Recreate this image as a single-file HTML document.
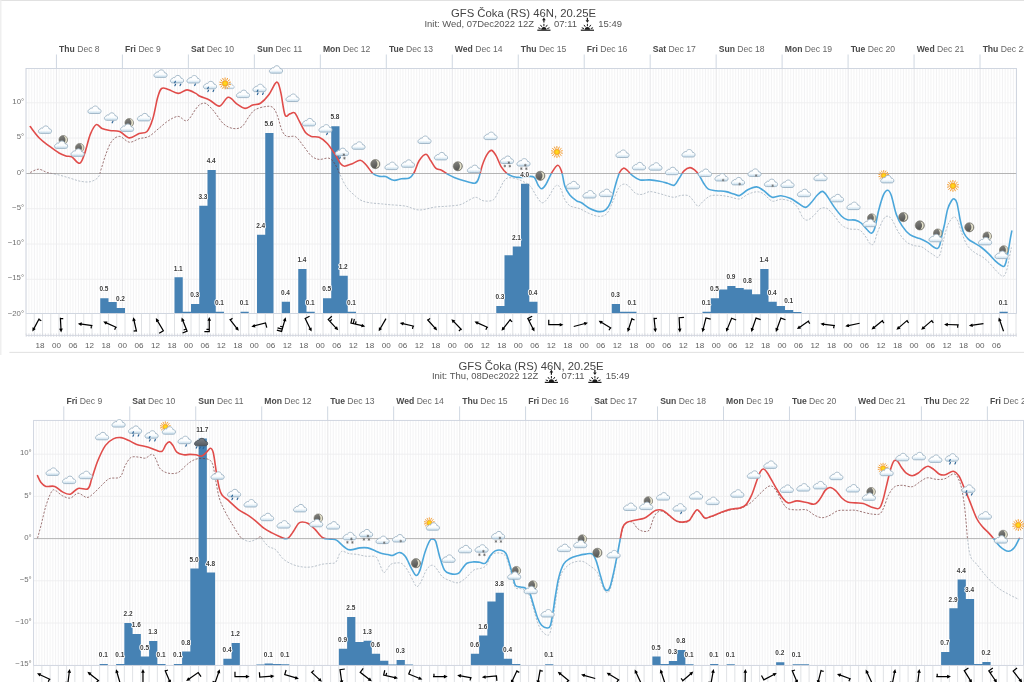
<!DOCTYPE html><html><head><meta charset="utf-8"><title>GFS Čoka meteogram</title>
<style>html,body{margin:0;padding:0;background:#fff;}body{width:1024px;height:682px;overflow:hidden;position:relative;}svg{position:absolute;left:0;top:0;display:block;font-family:"Liberation Sans", "DejaVu Sans", sans-serif;}</style></head><body>
<svg width="1024" height="682" viewBox="0 0 1024 682">
<defs><linearGradient id="cg" x1="0" y1="0" x2="0" y2="1"><stop offset="0" stop-color="#fff"/><stop offset="0.6" stop-color="#fbfdfe"/><stop offset="1" stop-color="#c3dbeb"/></linearGradient><radialGradient id="sg"><stop offset="0" stop-color="#ffe21f"/><stop offset="0.7" stop-color="#fdc516"/><stop offset="1" stop-color="#f9ac1c"/></radialGradient><linearGradient id="mg" x1="0" y1="0" x2="0.3" y2="1"><stop offset="0" stop-color="#858581"/><stop offset="1" stop-color="#555553"/></linearGradient><linearGradient id="cgd" x1="0" y1="0" x2="0" y2="1"><stop offset="0" stop-color="#7c8288"/><stop offset="1" stop-color="#565b61"/></linearGradient></defs>
<rect width="1024" height="682" fill="#fff"/>
<path d="M0,0.4H1024" stroke="#dedede" stroke-width="1"/>
<path d="M0.8,0V355" stroke="#ededed" stroke-width="1.3"/>
<path d="M9.4,352.4H1024" stroke="#dcdcdc" stroke-width="0.9"/>
<g id="chart1">
<text x="523.5" y="17.3" text-anchor="middle" font-size="11.3" fill="#444">GFS Čoka (RS) 46N, 20.25E</text>
<text x="424.5" y="26.6" font-size="9.45" fill="#555">Init: Wed, 07Dec2022 12Z</text>
<g transform="translate(543.9,30.2)" stroke="#1a1a1a" fill="none" stroke-width="1" stroke-linecap="butt"><line x1="-6.6" y1="0" x2="6.6" y2="0" stroke-width="1.2"/><path d="M-2.6,-0.5 A2.6,2.6 0 0 1 2.6,-0.5 Z" fill="#1a1a1a" stroke="none"/><line x1="-3.38" y1="-1.63" x2="-5.64" y2="-2.45"/><line x1="-2.06" y1="-3.35" x2="-3.44" y2="-5.31"/><line x1="0" y1="-4" x2="0" y2="-6.4"/><line x1="2.06" y1="-3.35" x2="3.44" y2="-5.31"/><line x1="3.38" y1="-1.63" x2="5.64" y2="-2.45"/><path d="M0,-7.6 V-10.6" stroke-width="1.2"/><path d="M-1.8,-10 L0,-12.6 L1.8,-10Z" fill="#1a1a1a" stroke="none"/></g>
<text x="554.1" y="26.6" font-size="9.45" fill="#555">07:11</text>
<g transform="translate(587.4,30.2)" stroke="#1a1a1a" fill="none" stroke-width="1" stroke-linecap="butt"><line x1="-6.6" y1="0" x2="6.6" y2="0" stroke-width="1.2"/><path d="M-2.6,-0.5 A2.6,2.6 0 0 1 2.6,-0.5 Z" fill="#1a1a1a" stroke="none"/><line x1="-3.38" y1="-1.63" x2="-5.64" y2="-2.45"/><line x1="-2.06" y1="-3.35" x2="-3.44" y2="-5.31"/><line x1="0" y1="-4" x2="0" y2="-6.4"/><line x1="2.06" y1="-3.35" x2="3.44" y2="-5.31"/><line x1="3.38" y1="-1.63" x2="5.64" y2="-2.45"/><path d="M0,-12.4 V-9.6" stroke-width="1.2"/><path d="M-1.8,-10 L0,-7.4 L1.8,-10Z" fill="#1a1a1a" stroke="none"/></g>
<text x="598.3" y="26.6" font-size="9.45" fill="#555">15:49</text>
<line x1="56.45" y1="54.5" x2="56.45" y2="68.5" stroke="#c9d2de" stroke-width="0.9"/>
<text x="59.05" y="52.1" font-size="8.6" fill="#666"><tspan font-weight="bold" fill="#4a4a4a">Thu</tspan> Dec 8</text>
<line x1="122.42" y1="54.5" x2="122.42" y2="68.5" stroke="#c9d2de" stroke-width="0.9"/>
<text x="125.02" y="52.1" font-size="8.6" fill="#666"><tspan font-weight="bold" fill="#4a4a4a">Fri</tspan> Dec 9</text>
<line x1="188.39" y1="54.5" x2="188.39" y2="68.5" stroke="#c9d2de" stroke-width="0.9"/>
<text x="190.99" y="52.1" font-size="8.6" fill="#666"><tspan font-weight="bold" fill="#4a4a4a">Sat</tspan> Dec 10</text>
<line x1="254.36" y1="54.5" x2="254.36" y2="68.5" stroke="#c9d2de" stroke-width="0.9"/>
<text x="256.96" y="52.1" font-size="8.6" fill="#666"><tspan font-weight="bold" fill="#4a4a4a">Sun</tspan> Dec 11</text>
<line x1="320.33" y1="54.5" x2="320.33" y2="68.5" stroke="#c9d2de" stroke-width="0.9"/>
<text x="322.93" y="52.1" font-size="8.6" fill="#666"><tspan font-weight="bold" fill="#4a4a4a">Mon</tspan> Dec 12</text>
<line x1="386.3" y1="54.5" x2="386.3" y2="68.5" stroke="#c9d2de" stroke-width="0.9"/>
<text x="388.9" y="52.1" font-size="8.6" fill="#666"><tspan font-weight="bold" fill="#4a4a4a">Tue</tspan> Dec 13</text>
<line x1="452.27" y1="54.5" x2="452.27" y2="68.5" stroke="#c9d2de" stroke-width="0.9"/>
<text x="454.87" y="52.1" font-size="8.6" fill="#666"><tspan font-weight="bold" fill="#4a4a4a">Wed</tspan> Dec 14</text>
<line x1="518.24" y1="54.5" x2="518.24" y2="68.5" stroke="#c9d2de" stroke-width="0.9"/>
<text x="520.84" y="52.1" font-size="8.6" fill="#666"><tspan font-weight="bold" fill="#4a4a4a">Thu</tspan> Dec 15</text>
<line x1="584.21" y1="54.5" x2="584.21" y2="68.5" stroke="#c9d2de" stroke-width="0.9"/>
<text x="586.81" y="52.1" font-size="8.6" fill="#666"><tspan font-weight="bold" fill="#4a4a4a">Fri</tspan> Dec 16</text>
<line x1="650.18" y1="54.5" x2="650.18" y2="68.5" stroke="#c9d2de" stroke-width="0.9"/>
<text x="652.78" y="52.1" font-size="8.6" fill="#666"><tspan font-weight="bold" fill="#4a4a4a">Sat</tspan> Dec 17</text>
<line x1="716.15" y1="54.5" x2="716.15" y2="68.5" stroke="#c9d2de" stroke-width="0.9"/>
<text x="718.75" y="52.1" font-size="8.6" fill="#666"><tspan font-weight="bold" fill="#4a4a4a">Sun</tspan> Dec 18</text>
<line x1="782.12" y1="54.5" x2="782.12" y2="68.5" stroke="#c9d2de" stroke-width="0.9"/>
<text x="784.72" y="52.1" font-size="8.6" fill="#666"><tspan font-weight="bold" fill="#4a4a4a">Mon</tspan> Dec 19</text>
<line x1="848.09" y1="54.5" x2="848.09" y2="68.5" stroke="#c9d2de" stroke-width="0.9"/>
<text x="850.69" y="52.1" font-size="8.6" fill="#666"><tspan font-weight="bold" fill="#4a4a4a">Tue</tspan> Dec 20</text>
<line x1="914.06" y1="54.5" x2="914.06" y2="68.5" stroke="#c9d2de" stroke-width="0.9"/>
<text x="916.66" y="52.1" font-size="8.6" fill="#666"><tspan font-weight="bold" fill="#4a4a4a">Wed</tspan> Dec 21</text>
<line x1="980.03" y1="54.5" x2="980.03" y2="68.5" stroke="#c9d2de" stroke-width="0.9"/>
<text x="982.63" y="52.1" font-size="8.6" fill="#666"><tspan font-weight="bold" fill="#4a4a4a">Thu</tspan> Dec 22</text>
<clipPath id="cp1"><rect x="26" y="68.5" width="990.5" height="245"/></clipPath>
<clipPath id="cpa1"><rect x="0" y="38.5" width="1024" height="135"/></clipPath>
<clipPath id="cpb1"><rect x="0" y="173.5" width="1024" height="180"/></clipPath>
<path d="M26.2,68.5V313.5M28.95,68.5V313.5M31.7,68.5V313.5M34.45,68.5V313.5M37.2,68.5V313.5M39.95,68.5V313.5M42.7,68.5V313.5M45.45,68.5V313.5M48.2,68.5V313.5M50.95,68.5V313.5M53.7,68.5V313.5M56.45,68.5V313.5M59.2,68.5V313.5M61.95,68.5V313.5M64.7,68.5V313.5M67.45,68.5V313.5M70.2,68.5V313.5M72.95,68.5V313.5M75.7,68.5V313.5M78.45,68.5V313.5M81.2,68.5V313.5M83.95,68.5V313.5M86.7,68.5V313.5M89.45,68.5V313.5M92.2,68.5V313.5M94.95,68.5V313.5M97.7,68.5V313.5M100.45,68.5V313.5M103.2,68.5V313.5M105.95,68.5V313.5M108.7,68.5V313.5M111.45,68.5V313.5M114.2,68.5V313.5M116.95,68.5V313.5M119.7,68.5V313.5M122.45,68.5V313.5M125.2,68.5V313.5M127.95,68.5V313.5M130.7,68.5V313.5M133.45,68.5V313.5M136.2,68.5V313.5M138.95,68.5V313.5M141.7,68.5V313.5M144.45,68.5V313.5M147.2,68.5V313.5M149.95,68.5V313.5M152.7,68.5V313.5M155.45,68.5V313.5M158.2,68.5V313.5M160.95,68.5V313.5M163.7,68.5V313.5M166.45,68.5V313.5M169.2,68.5V313.5M171.95,68.5V313.5M174.7,68.5V313.5M177.45,68.5V313.5M180.2,68.5V313.5M182.95,68.5V313.5M185.7,68.5V313.5M188.45,68.5V313.5M191.2,68.5V313.5M193.95,68.5V313.5M196.7,68.5V313.5M199.45,68.5V313.5M202.2,68.5V313.5M204.95,68.5V313.5M207.7,68.5V313.5M210.45,68.5V313.5M213.2,68.5V313.5M215.95,68.5V313.5M218.7,68.5V313.5M221.45,68.5V313.5M224.2,68.5V313.5M226.95,68.5V313.5M229.7,68.5V313.5M232.45,68.5V313.5M235.2,68.5V313.5M237.95,68.5V313.5M240.7,68.5V313.5M243.45,68.5V313.5M246.2,68.5V313.5M248.95,68.5V313.5M251.7,68.5V313.5M254.45,68.5V313.5M257.2,68.5V313.5M259.95,68.5V313.5M262.7,68.5V313.5M265.45,68.5V313.5M268.2,68.5V313.5M270.95,68.5V313.5M273.7,68.5V313.5M276.45,68.5V313.5M279.2,68.5V313.5M281.95,68.5V313.5M284.7,68.5V313.5M287.45,68.5V313.5M290.2,68.5V313.5M292.95,68.5V313.5M295.7,68.5V313.5M298.45,68.5V313.5M301.2,68.5V313.5M303.95,68.5V313.5M306.7,68.5V313.5M309.45,68.5V313.5M312.2,68.5V313.5M314.95,68.5V313.5M317.7,68.5V313.5M320.45,68.5V313.5M323.2,68.5V313.5M325.95,68.5V313.5M328.7,68.5V313.5M331.45,68.5V313.5M334.2,68.5V313.5M336.95,68.5V313.5M339.7,68.5V313.5M342.45,68.5V313.5M345.2,68.5V313.5M347.95,68.5V313.5M350.7,68.5V313.5M353.45,68.5V313.5M356.2,68.5V313.5M358.95,68.5V313.5M361.7,68.5V313.5M364.45,68.5V313.5M367.2,68.5V313.5M369.95,68.5V313.5M372.7,68.5V313.5M375.45,68.5V313.5M378.2,68.5V313.5M380.95,68.5V313.5M383.7,68.5V313.5M386.45,68.5V313.5M389.2,68.5V313.5M391.95,68.5V313.5M394.7,68.5V313.5M397.45,68.5V313.5M400.2,68.5V313.5M402.95,68.5V313.5M405.7,68.5V313.5M408.45,68.5V313.5M411.2,68.5V313.5M413.95,68.5V313.5M416.7,68.5V313.5M419.45,68.5V313.5M422.2,68.5V313.5M424.95,68.5V313.5M427.7,68.5V313.5M430.45,68.5V313.5M433.2,68.5V313.5M435.95,68.5V313.5M438.7,68.5V313.5M441.45,68.5V313.5M444.2,68.5V313.5M446.95,68.5V313.5M449.7,68.5V313.5M452.45,68.5V313.5M455.2,68.5V313.5M457.95,68.5V313.5M460.7,68.5V313.5M463.45,68.5V313.5M466.2,68.5V313.5M468.95,68.5V313.5M471.7,68.5V313.5M474.45,68.5V313.5M477.2,68.5V313.5M479.95,68.5V313.5M482.7,68.5V313.5M485.45,68.5V313.5M488.2,68.5V313.5M490.95,68.5V313.5M493.7,68.5V313.5M496.45,68.5V313.5M499.2,68.5V313.5M501.95,68.5V313.5M504.7,68.5V313.5M507.45,68.5V313.5M510.2,68.5V313.5M512.95,68.5V313.5M515.7,68.5V313.5M518.45,68.5V313.5M521.2,68.5V313.5M523.95,68.5V313.5M526.7,68.5V313.5M529.45,68.5V313.5M532.2,68.5V313.5M534.95,68.5V313.5M537.7,68.5V313.5M540.45,68.5V313.5M543.2,68.5V313.5M545.95,68.5V313.5M548.7,68.5V313.5M551.45,68.5V313.5M554.2,68.5V313.5M556.95,68.5V313.5M559.7,68.5V313.5M562.45,68.5V313.5M565.2,68.5V313.5M567.95,68.5V313.5M570.7,68.5V313.5M573.45,68.5V313.5M576.2,68.5V313.5M578.95,68.5V313.5M581.7,68.5V313.5M584.45,68.5V313.5M587.2,68.5V313.5M589.95,68.5V313.5M592.7,68.5V313.5M595.45,68.5V313.5M598.2,68.5V313.5M600.95,68.5V313.5M603.7,68.5V313.5M606.45,68.5V313.5M609.2,68.5V313.5M611.95,68.5V313.5M614.7,68.5V313.5M617.45,68.5V313.5M620.2,68.5V313.5M622.95,68.5V313.5M625.7,68.5V313.5M628.45,68.5V313.5M631.2,68.5V313.5M633.95,68.5V313.5M636.7,68.5V313.5M639.45,68.5V313.5M642.2,68.5V313.5M644.95,68.5V313.5M647.7,68.5V313.5M650.45,68.5V313.5M653.2,68.5V313.5M655.95,68.5V313.5M658.7,68.5V313.5M661.45,68.5V313.5M664.2,68.5V313.5M666.95,68.5V313.5M669.7,68.5V313.5M672.45,68.5V313.5M675.2,68.5V313.5M677.95,68.5V313.5M680.7,68.5V313.5M683.45,68.5V313.5M686.2,68.5V313.5M688.95,68.5V313.5M691.7,68.5V313.5M694.45,68.5V313.5M697.2,68.5V313.5M699.95,68.5V313.5M702.7,68.5V313.5M705.45,68.5V313.5M708.2,68.5V313.5M710.95,68.5V313.5M713.7,68.5V313.5M716.45,68.5V313.5M719.2,68.5V313.5M721.95,68.5V313.5M724.7,68.5V313.5M727.45,68.5V313.5M730.2,68.5V313.5M732.95,68.5V313.5M735.7,68.5V313.5M738.45,68.5V313.5M741.2,68.5V313.5M743.95,68.5V313.5M746.7,68.5V313.5M749.45,68.5V313.5M752.2,68.5V313.5M754.95,68.5V313.5M757.7,68.5V313.5M760.45,68.5V313.5M763.2,68.5V313.5M765.95,68.5V313.5M768.7,68.5V313.5M771.45,68.5V313.5M774.2,68.5V313.5M776.95,68.5V313.5M779.7,68.5V313.5M782.45,68.5V313.5M785.2,68.5V313.5M787.95,68.5V313.5M790.7,68.5V313.5M793.45,68.5V313.5M796.2,68.5V313.5M798.95,68.5V313.5M801.7,68.5V313.5M804.45,68.5V313.5M807.2,68.5V313.5M809.95,68.5V313.5M812.7,68.5V313.5M815.45,68.5V313.5M818.2,68.5V313.5M820.95,68.5V313.5M823.7,68.5V313.5M826.45,68.5V313.5M829.2,68.5V313.5M831.95,68.5V313.5M834.7,68.5V313.5M837.45,68.5V313.5M840.2,68.5V313.5M842.95,68.5V313.5M845.7,68.5V313.5M848.45,68.5V313.5M851.2,68.5V313.5M853.95,68.5V313.5M856.7,68.5V313.5M859.45,68.5V313.5M862.2,68.5V313.5M864.95,68.5V313.5M867.7,68.5V313.5M870.45,68.5V313.5M873.2,68.5V313.5M875.95,68.5V313.5M878.7,68.5V313.5M881.45,68.5V313.5M884.2,68.5V313.5M886.95,68.5V313.5M889.7,68.5V313.5M892.45,68.5V313.5M895.2,68.5V313.5M897.95,68.5V313.5M900.7,68.5V313.5M903.45,68.5V313.5M906.2,68.5V313.5M908.95,68.5V313.5M911.7,68.5V313.5M914.45,68.5V313.5M917.2,68.5V313.5M919.95,68.5V313.5M922.7,68.5V313.5M925.45,68.5V313.5M928.2,68.5V313.5M930.95,68.5V313.5M933.7,68.5V313.5M936.45,68.5V313.5M939.2,68.5V313.5M941.95,68.5V313.5M944.7,68.5V313.5M947.45,68.5V313.5M950.2,68.5V313.5M952.95,68.5V313.5M955.7,68.5V313.5M958.45,68.5V313.5M961.2,68.5V313.5M963.95,68.5V313.5M966.7,68.5V313.5M969.45,68.5V313.5M972.2,68.5V313.5M974.95,68.5V313.5M977.7,68.5V313.5M980.45,68.5V313.5M983.2,68.5V313.5M985.95,68.5V313.5M988.7,68.5V313.5M991.45,68.5V313.5M994.2,68.5V313.5M996.95,68.5V313.5M999.7,68.5V313.5M1002.45,68.5V313.5M1005.2,68.5V313.5M1007.95,68.5V313.5M1010.7,68.5V313.5M1013.45,68.5V313.5M1016.2,68.5V313.5" stroke="#f0f0f1" stroke-width="0.8" fill="none"/>
<path d="M56.45,68.5V313.5M122.42,68.5V313.5M188.39,68.5V313.5M254.36,68.5V313.5M320.33,68.5V313.5M386.3,68.5V313.5M452.27,68.5V313.5M518.24,68.5V313.5M584.21,68.5V313.5M650.18,68.5V313.5M716.15,68.5V313.5M782.12,68.5V313.5M848.09,68.5V313.5M914.06,68.5V313.5M980.03,68.5V313.5" stroke="#e9e9eb" stroke-width="0.9" fill="none"/>
<path d="M26,102.8H1016.5M26,138.1H1016.5M26,244H1016.5M26,208.7H1016.5M26,279.3H1016.5" stroke="#eeeeef" stroke-width="0.9" fill="none"/>
<line x1="26" y1="173.5" x2="1016.5" y2="173.5" stroke="#acacac" stroke-width="0.9"/>
<path d="M100.25,313.5h8.25V298.2h-8.25ZM108.5,313.5h8.25V302.1h-8.25ZM116.75,313.5h8.25V307.9h-8.25ZM174.5,313.5h8.25V277.3h-8.25ZM182.75,313.5h8.25V311.8h-8.25ZM191,313.5h8.25V304h-8.25ZM199.25,313.5h8.25V205.7h-8.25ZM207.5,313.5h8.25V170h-8.25ZM215.75,313.5h8.25V311.8h-8.25ZM240.5,313.5h8.25V311.8h-8.25ZM257,313.5h8.25V234.7h-8.25ZM265.25,313.5h8.25V133h-8.25ZM281.75,313.5h8.25V301.7h-8.25ZM298.25,313.5h8.25V268.9h-8.25ZM306.5,313.5h8.25V311.8h-8.25ZM323,313.5h8.25V298.2h-8.25ZM331.25,313.5h8.25V126.2h-8.25ZM339.5,313.5h8.25V275.7h-8.25ZM347.75,313.5h8.25V311.8h-8.25ZM496.25,313.5h8.25V306h-8.25ZM504.5,313.5h8.25V255.2h-8.25ZM512.75,313.5h8.25V246.4h-8.25ZM521,313.5h8.25V183.8h-8.25ZM529.25,313.5h8.25V301.7h-8.25ZM611.75,313.5h8.25V304h-8.25ZM620,313.5h8.25V311.8h-8.25ZM628.25,313.5h8.25V311.8h-8.25ZM702.5,313.5h8.25V311.8h-8.25ZM710.75,313.5h8.25V298.2h-8.25ZM719,313.5h8.25V289.4h-8.25ZM727.25,313.5h8.25V285.9h-8.25ZM735.5,313.5h8.25V288h-8.25ZM743.75,313.5h8.25V289.4h-8.25ZM752,313.5h8.25V294.3h-8.25ZM760.25,313.5h8.25V268.9h-8.25ZM768.5,313.5h8.25V301.7h-8.25ZM776.75,313.5h8.25V306h-8.25ZM785,313.5h8.25V309.9h-8.25ZM793.25,313.5h8.25V312h-8.25ZM999.5,313.5h8.25V311.8h-8.25Z" fill="#4682b4" clip-path="url(#cp1)"/>
<rect x="26" y="68.5" width="990.5" height="245" fill="none" stroke="#ccd2dd" stroke-width="0.9"/>
<path d="M26,313.5V335.4M34.25,313.5V335.4M42.5,313.5V335.4M50.75,313.5V335.4M59,313.5V335.4M67.25,313.5V335.4M75.5,313.5V335.4M83.75,313.5V335.4M92,313.5V335.4M100.25,313.5V335.4M108.5,313.5V335.4M116.75,313.5V335.4M125,313.5V335.4M133.25,313.5V335.4M141.5,313.5V335.4M149.75,313.5V335.4M158,313.5V335.4M166.25,313.5V335.4M174.5,313.5V335.4M182.75,313.5V335.4M191,313.5V335.4M199.25,313.5V335.4M207.5,313.5V335.4M215.75,313.5V335.4M224,313.5V335.4M232.25,313.5V335.4M240.5,313.5V335.4M248.75,313.5V335.4M257,313.5V335.4M265.25,313.5V335.4M273.5,313.5V335.4M281.75,313.5V335.4M290,313.5V335.4M298.25,313.5V335.4M306.5,313.5V335.4M314.75,313.5V335.4M323,313.5V335.4M331.25,313.5V335.4M339.5,313.5V335.4M347.75,313.5V335.4M356,313.5V335.4M364.25,313.5V335.4M372.5,313.5V335.4M380.75,313.5V335.4M389,313.5V335.4M397.25,313.5V335.4M405.5,313.5V335.4M413.75,313.5V335.4M422,313.5V335.4M430.25,313.5V335.4M438.5,313.5V335.4M446.75,313.5V335.4M455,313.5V335.4M463.25,313.5V335.4M471.5,313.5V335.4M479.75,313.5V335.4M488,313.5V335.4M496.25,313.5V335.4M504.5,313.5V335.4M512.75,313.5V335.4M521,313.5V335.4M529.25,313.5V335.4M537.5,313.5V335.4M545.75,313.5V335.4M554,313.5V335.4M562.25,313.5V335.4M570.5,313.5V335.4M578.75,313.5V335.4M587,313.5V335.4M595.25,313.5V335.4M603.5,313.5V335.4M611.75,313.5V335.4M620,313.5V335.4M628.25,313.5V335.4M636.5,313.5V335.4M644.75,313.5V335.4M653,313.5V335.4M661.25,313.5V335.4M669.5,313.5V335.4M677.75,313.5V335.4M686,313.5V335.4M694.25,313.5V335.4M702.5,313.5V335.4M710.75,313.5V335.4M719,313.5V335.4M727.25,313.5V335.4M735.5,313.5V335.4M743.75,313.5V335.4M752,313.5V335.4M760.25,313.5V335.4M768.5,313.5V335.4M776.75,313.5V335.4M785,313.5V335.4M793.25,313.5V335.4M801.5,313.5V335.4M809.75,313.5V335.4M818,313.5V335.4M826.25,313.5V335.4M834.5,313.5V335.4M842.75,313.5V335.4M851,313.5V335.4M859.25,313.5V335.4M867.5,313.5V335.4M875.75,313.5V335.4M884,313.5V335.4M892.25,313.5V335.4M900.5,313.5V335.4M908.75,313.5V335.4M917,313.5V335.4M925.25,313.5V335.4M933.5,313.5V335.4M941.75,313.5V335.4M950,313.5V335.4M958.25,313.5V335.4M966.5,313.5V335.4M974.75,313.5V335.4M983,313.5V335.4M991.25,313.5V335.4M999.5,313.5V335.4M1007.75,313.5V335.4M1016,313.5V335.4" stroke="#d8dade" stroke-width="0.8" fill="none"/>
<path d="M26.2,333.4V337M28.95,333.4V337M31.7,333.4V337M34.45,333.4V337M37.2,333.4V337M39.95,333.4V337M42.7,333.4V337M45.45,333.4V337M48.2,333.4V337M50.95,333.4V337M53.7,333.4V337M56.45,333.4V337M59.2,333.4V337M61.95,333.4V337M64.7,333.4V337M67.45,333.4V337M70.2,333.4V337M72.95,333.4V337M75.7,333.4V337M78.45,333.4V337M81.2,333.4V337M83.95,333.4V337M86.7,333.4V337M89.45,333.4V337M92.2,333.4V337M94.95,333.4V337M97.7,333.4V337M100.45,333.4V337M103.2,333.4V337M105.95,333.4V337M108.7,333.4V337M111.45,333.4V337M114.2,333.4V337M116.95,333.4V337M119.7,333.4V337M122.45,333.4V337M125.2,333.4V337M127.95,333.4V337M130.7,333.4V337M133.45,333.4V337M136.2,333.4V337M138.95,333.4V337M141.7,333.4V337M144.45,333.4V337M147.2,333.4V337M149.95,333.4V337M152.7,333.4V337M155.45,333.4V337M158.2,333.4V337M160.95,333.4V337M163.7,333.4V337M166.45,333.4V337M169.2,333.4V337M171.95,333.4V337M174.7,333.4V337M177.45,333.4V337M180.2,333.4V337M182.95,333.4V337M185.7,333.4V337M188.45,333.4V337M191.2,333.4V337M193.95,333.4V337M196.7,333.4V337M199.45,333.4V337M202.2,333.4V337M204.95,333.4V337M207.7,333.4V337M210.45,333.4V337M213.2,333.4V337M215.95,333.4V337M218.7,333.4V337M221.45,333.4V337M224.2,333.4V337M226.95,333.4V337M229.7,333.4V337M232.45,333.4V337M235.2,333.4V337M237.95,333.4V337M240.7,333.4V337M243.45,333.4V337M246.2,333.4V337M248.95,333.4V337M251.7,333.4V337M254.45,333.4V337M257.2,333.4V337M259.95,333.4V337M262.7,333.4V337M265.45,333.4V337M268.2,333.4V337M270.95,333.4V337M273.7,333.4V337M276.45,333.4V337M279.2,333.4V337M281.95,333.4V337M284.7,333.4V337M287.45,333.4V337M290.2,333.4V337M292.95,333.4V337M295.7,333.4V337M298.45,333.4V337M301.2,333.4V337M303.95,333.4V337M306.7,333.4V337M309.45,333.4V337M312.2,333.4V337M314.95,333.4V337M317.7,333.4V337M320.45,333.4V337M323.2,333.4V337M325.95,333.4V337M328.7,333.4V337M331.45,333.4V337M334.2,333.4V337M336.95,333.4V337M339.7,333.4V337M342.45,333.4V337M345.2,333.4V337M347.95,333.4V337M350.7,333.4V337M353.45,333.4V337M356.2,333.4V337M358.95,333.4V337M361.7,333.4V337M364.45,333.4V337M367.2,333.4V337M369.95,333.4V337M372.7,333.4V337M375.45,333.4V337M378.2,333.4V337M380.95,333.4V337M383.7,333.4V337M386.45,333.4V337M389.2,333.4V337M391.95,333.4V337M394.7,333.4V337M397.45,333.4V337M400.2,333.4V337M402.95,333.4V337M405.7,333.4V337M408.45,333.4V337M411.2,333.4V337M413.95,333.4V337M416.7,333.4V337M419.45,333.4V337M422.2,333.4V337M424.95,333.4V337M427.7,333.4V337M430.45,333.4V337M433.2,333.4V337M435.95,333.4V337M438.7,333.4V337M441.45,333.4V337M444.2,333.4V337M446.95,333.4V337M449.7,333.4V337M452.45,333.4V337M455.2,333.4V337M457.95,333.4V337M460.7,333.4V337M463.45,333.4V337M466.2,333.4V337M468.95,333.4V337M471.7,333.4V337M474.45,333.4V337M477.2,333.4V337M479.95,333.4V337M482.7,333.4V337M485.45,333.4V337M488.2,333.4V337M490.95,333.4V337M493.7,333.4V337M496.45,333.4V337M499.2,333.4V337M501.95,333.4V337M504.7,333.4V337M507.45,333.4V337M510.2,333.4V337M512.95,333.4V337M515.7,333.4V337M518.45,333.4V337M521.2,333.4V337M523.95,333.4V337M526.7,333.4V337M529.45,333.4V337M532.2,333.4V337M534.95,333.4V337M537.7,333.4V337M540.45,333.4V337M543.2,333.4V337M545.95,333.4V337M548.7,333.4V337M551.45,333.4V337M554.2,333.4V337M556.95,333.4V337M559.7,333.4V337M562.45,333.4V337M565.2,333.4V337M567.95,333.4V337M570.7,333.4V337M573.45,333.4V337M576.2,333.4V337M578.95,333.4V337M581.7,333.4V337M584.45,333.4V337M587.2,333.4V337M589.95,333.4V337M592.7,333.4V337M595.45,333.4V337M598.2,333.4V337M600.95,333.4V337M603.7,333.4V337M606.45,333.4V337M609.2,333.4V337M611.95,333.4V337M614.7,333.4V337M617.45,333.4V337M620.2,333.4V337M622.95,333.4V337M625.7,333.4V337M628.45,333.4V337M631.2,333.4V337M633.95,333.4V337M636.7,333.4V337M639.45,333.4V337M642.2,333.4V337M644.95,333.4V337M647.7,333.4V337M650.45,333.4V337M653.2,333.4V337M655.95,333.4V337M658.7,333.4V337M661.45,333.4V337M664.2,333.4V337M666.95,333.4V337M669.7,333.4V337M672.45,333.4V337M675.2,333.4V337M677.95,333.4V337M680.7,333.4V337M683.45,333.4V337M686.2,333.4V337M688.95,333.4V337M691.7,333.4V337M694.45,333.4V337M697.2,333.4V337M699.95,333.4V337M702.7,333.4V337M705.45,333.4V337M708.2,333.4V337M710.95,333.4V337M713.7,333.4V337M716.45,333.4V337M719.2,333.4V337M721.95,333.4V337M724.7,333.4V337M727.45,333.4V337M730.2,333.4V337M732.95,333.4V337M735.7,333.4V337M738.45,333.4V337M741.2,333.4V337M743.95,333.4V337M746.7,333.4V337M749.45,333.4V337M752.2,333.4V337M754.95,333.4V337M757.7,333.4V337M760.45,333.4V337M763.2,333.4V337M765.95,333.4V337M768.7,333.4V337M771.45,333.4V337M774.2,333.4V337M776.95,333.4V337M779.7,333.4V337M782.45,333.4V337M785.2,333.4V337M787.95,333.4V337M790.7,333.4V337M793.45,333.4V337M796.2,333.4V337M798.95,333.4V337M801.7,333.4V337M804.45,333.4V337M807.2,333.4V337M809.95,333.4V337M812.7,333.4V337M815.45,333.4V337M818.2,333.4V337M820.95,333.4V337M823.7,333.4V337M826.45,333.4V337M829.2,333.4V337M831.95,333.4V337M834.7,333.4V337M837.45,333.4V337M840.2,333.4V337M842.95,333.4V337M845.7,333.4V337M848.45,333.4V337M851.2,333.4V337M853.95,333.4V337M856.7,333.4V337M859.45,333.4V337M862.2,333.4V337M864.95,333.4V337M867.7,333.4V337M870.45,333.4V337M873.2,333.4V337M875.95,333.4V337M878.7,333.4V337M881.45,333.4V337M884.2,333.4V337M886.95,333.4V337M889.7,333.4V337M892.45,333.4V337M895.2,333.4V337M897.95,333.4V337M900.7,333.4V337M903.45,333.4V337M906.2,333.4V337M908.95,333.4V337M911.7,333.4V337M914.45,333.4V337M917.2,333.4V337M919.95,333.4V337M922.7,333.4V337M925.45,333.4V337M928.2,333.4V337M930.95,333.4V337M933.7,333.4V337M936.45,333.4V337M939.2,333.4V337M941.95,333.4V337M944.7,333.4V337M947.45,333.4V337M950.2,333.4V337M952.95,333.4V337M955.7,333.4V337M958.45,333.4V337M961.2,333.4V337M963.95,333.4V337M966.7,333.4V337M969.45,333.4V337M972.2,333.4V337M974.95,333.4V337M977.7,333.4V337M980.45,333.4V337M983.2,333.4V337M985.95,333.4V337M988.7,333.4V337M991.45,333.4V337M994.2,333.4V337M996.95,333.4V337M999.7,333.4V337M1002.45,333.4V337M1005.2,333.4V337M1007.95,333.4V337M1010.7,333.4V337M1013.45,333.4V337M1016.2,333.4V337" stroke="#d5d9e0" stroke-width="0.8" fill="none"/>
<line x1="26" y1="335.4" x2="1016.5" y2="335.4" stroke="#cfd4dc" stroke-width="0.9"/>
<path d="M30.2,172.5C31.6,171.95 35.75,169.2 38.6,169.2C41.45,169.2 43.9,171.53 47.3,172.5C50.7,173.47 55.08,174.02 59,175C62.92,175.98 67.22,177.35 70.8,178.4C74.38,179.45 77.25,180.75 80.5,181.3C83.75,181.85 87.37,182.35 90.3,181.7C93.23,181.05 96.32,179.42 98.1,177.4C99.88,175.38 99.68,173.52 101,169.6C102.32,165.68 104.2,158.63 106,153.9C107.8,149.17 109.53,144.12 111.8,141.2C114.07,138.28 116.67,136.23 119.6,136.4C122.53,136.57 126.15,141.82 129.4,142.2C132.65,142.58 135.85,139.67 139.1,138.7C142.35,137.73 145.63,138.1 148.9,136.4C152.17,134.7 155.45,131.12 158.7,128.5C161.95,125.88 165.15,122.72 168.4,120.7C171.65,118.68 175.1,116.4 178.2,116.4C181.3,116.4 184.07,121.93 187,120.7C189.93,119.47 193.63,111.7 195.8,109C197.97,106.3 198.32,105.42 200,104.5C201.68,103.58 203.62,102.42 205.9,103.5C208.18,104.58 210.78,107.63 213.7,111C216.62,114.37 220.15,120.78 223.4,123.7C226.65,126.62 230.1,128.02 233.2,128.5C236.3,128.98 239.4,128.55 242,126.6C244.6,124.65 246.68,119.57 248.8,116.8C250.92,114.03 252.08,111.68 254.7,110C257.32,108.32 261.57,107.18 264.5,106.7C267.43,106.22 270.2,105.73 272.3,107.1C274.4,108.47 275.48,111 277.1,114.9C278.72,118.8 280.37,126.92 282,130.5C283.63,134.08 284.62,135.35 286.9,136.4C289.18,137.45 292.93,135.18 295.7,136.8C298.47,138.42 300.9,142.92 303.5,146.1C306.1,149.28 308.7,153.68 311.3,155.9C313.9,158.12 316.17,159.02 319.1,159.4C322.03,159.78 326.28,157.48 328.9,158.2C331.52,158.92 333.02,161.15 334.8,163.7C336.58,166.25 337.65,169.6 339.6,173.5C341.55,177.4 343.72,183.2 346.5,187.1C349.28,191 353.7,194.62 356.3,196.9C358.9,199.18 359.82,199.82 362.1,200.8C364.38,201.78 367.02,202.31 370,202.8C372.98,203.29 376.7,203.43 380,203.75C383.3,204.07 385.57,204.31 389.8,204.7C394.03,205.09 400.52,205.22 405.4,206.1C410.28,206.98 414.22,209.83 419.1,210C423.98,210.17 429.82,207.75 434.7,207.1C439.58,206.45 444.17,206.5 448.4,206.1C452.63,205.7 456.85,205.58 460.1,204.7C463.35,203.82 465.3,202.03 467.9,200.8C470.5,199.57 473.1,197.3 475.7,197.3C478.3,197.3 480.57,200.38 483.5,200.8C486.43,201.22 490.7,201.58 493.3,199.8C495.9,198.02 496.98,193.61 499.1,190.1C501.22,186.59 503.38,180.7 506,178.75C508.62,176.8 512.03,177.97 514.8,178.4C517.57,178.83 520,180 522.6,181.3C525.2,182.6 528.12,183.77 530.4,186.2C532.67,188.63 534.3,193.13 536.25,195.9C538.2,198.67 540.14,202.47 542.1,202.8C544.06,203.13 546.05,200.35 548,197.9C549.95,195.45 552.18,190.22 553.8,188.1C555.42,185.98 556.4,184.8 557.7,185.2C559,185.6 560.57,188.38 561.6,190.5C562.63,192.62 562.53,195.37 563.9,197.9C565.27,200.43 567.2,203.92 569.8,205.7C572.4,207.48 576.25,207.3 579.5,208.6C582.75,209.9 586.03,212.2 589.3,213.5C592.57,214.8 596.17,216.4 599.1,216.4C602.03,216.4 604.63,215.93 606.9,213.5C609.17,211.07 610.75,206.03 612.7,201.8C614.65,197.57 616.8,191.03 618.6,188.1C620.4,185.17 621.87,184.58 623.5,184.2C625.13,183.82 626.45,184.33 628.4,185.8C630.35,187.27 632.93,191.57 635.2,193C637.47,194.43 639.57,194.63 642,194.4C644.43,194.17 646.87,191.73 649.8,191.6C652.73,191.47 656.67,192.88 659.6,193.6C662.53,194.32 664.95,195.28 667.4,195.9C669.85,196.52 672.02,197.38 674.3,197.3C676.58,197.22 678.67,195.63 681.1,195.4C683.53,195.17 686.62,194.67 688.9,195.9C691.18,197.13 693.23,201.07 694.8,202.8C696.37,204.53 697,206.47 698.3,206.3C699.6,206.13 700.58,203.53 702.6,201.8C704.62,200.07 707.47,196.97 710.4,195.9C713.33,194.83 716.95,195.23 720.2,195.4C723.45,195.57 726.65,196.3 729.9,196.9C733.15,197.5 736.72,199.43 739.7,199C742.68,198.57 744.98,195.5 747.8,194.3C750.62,193.1 754,191.9 756.6,191.8C759.2,191.7 760.8,192.15 763.4,193.7C766,195.25 769.27,200.18 772.2,201.1C775.13,202.02 777.9,199.13 781,199.2C784.1,199.27 788.03,200.13 790.8,201.5C793.57,202.87 795.65,204.8 797.6,207.4C799.55,210 800.87,214.98 802.5,217.1C804.13,219.22 805.45,220.42 807.4,220.1C809.35,219.78 812.08,217.09 814.2,215.2C816.32,213.31 817.98,209.88 820.1,208.75C822.22,207.62 824.62,207.33 826.9,208.4C829.17,209.47 831.3,212.43 833.75,215.2C836.2,217.97 838.99,222.72 841.6,225C844.21,227.28 846.48,228.1 849.4,228.9C852.32,229.7 856.5,228.67 859.1,229.8C861.7,230.93 863.2,233.42 865,235.7C866.8,237.98 868.43,242.2 869.9,243.5C871.37,244.8 872.5,245.45 873.8,243.5C875.1,241.55 876.08,235.87 877.7,231.8C879.33,227.73 881.86,221.7 883.55,219.1C885.24,216.5 886.39,216.03 887.85,216.2C889.31,216.37 890.57,217.5 892.3,220.1C894.02,222.7 895.92,228.22 898.2,231.8C900.48,235.38 903.4,239.32 906,241.6C908.6,243.88 911.2,244.63 913.8,245.5C916.4,246.37 919.23,245.83 921.6,246.8C923.97,247.77 926,249.93 928,251.3C930,252.67 932.03,253.98 933.6,255C935.17,256.02 936.3,257.55 937.4,257.4C938.5,257.25 939.27,256.68 940.2,254.1C941.13,251.52 941.9,246.28 943,241.9C944.1,237.52 945.65,231.27 946.8,227.8C947.95,224.33 948.67,222.92 949.9,221.1C951.13,219.28 952.89,216.9 954.2,216.9C955.51,216.9 956.5,218.45 957.75,221.1C959,223.75 960.09,228.72 961.7,232.8C963.31,236.88 965.2,242.28 967.4,245.6C969.6,248.92 972.4,250.82 974.9,252.7C977.4,254.58 980.05,255.27 982.4,256.9C984.75,258.53 986.82,260.32 989,262.5C991.18,264.68 993.63,267.97 995.5,270C997.37,272.03 998.95,273.63 1000.2,274.7C1001.45,275.77 1002.13,276.55 1003,276.4C1003.87,276.25 1004.62,275.48 1005.4,273.8C1006.18,272.12 1007,269.27 1007.7,266.3C1008.4,263.33 1008.97,259.13 1009.6,256C1010.23,252.87 1011.18,248.92 1011.5,247.5" fill="none" stroke="#713636" stroke-width="0.68" stroke-dasharray="2.1,1.5" clip-path="url(#cpa1)"/>
<path d="M30.2,172.5C31.6,171.95 35.75,169.2 38.6,169.2C41.45,169.2 43.9,171.53 47.3,172.5C50.7,173.47 55.08,174.02 59,175C62.92,175.98 67.22,177.35 70.8,178.4C74.38,179.45 77.25,180.75 80.5,181.3C83.75,181.85 87.37,182.35 90.3,181.7C93.23,181.05 96.32,179.42 98.1,177.4C99.88,175.38 99.68,173.52 101,169.6C102.32,165.68 104.2,158.63 106,153.9C107.8,149.17 109.53,144.12 111.8,141.2C114.07,138.28 116.67,136.23 119.6,136.4C122.53,136.57 126.15,141.82 129.4,142.2C132.65,142.58 135.85,139.67 139.1,138.7C142.35,137.73 145.63,138.1 148.9,136.4C152.17,134.7 155.45,131.12 158.7,128.5C161.95,125.88 165.15,122.72 168.4,120.7C171.65,118.68 175.1,116.4 178.2,116.4C181.3,116.4 184.07,121.93 187,120.7C189.93,119.47 193.63,111.7 195.8,109C197.97,106.3 198.32,105.42 200,104.5C201.68,103.58 203.62,102.42 205.9,103.5C208.18,104.58 210.78,107.63 213.7,111C216.62,114.37 220.15,120.78 223.4,123.7C226.65,126.62 230.1,128.02 233.2,128.5C236.3,128.98 239.4,128.55 242,126.6C244.6,124.65 246.68,119.57 248.8,116.8C250.92,114.03 252.08,111.68 254.7,110C257.32,108.32 261.57,107.18 264.5,106.7C267.43,106.22 270.2,105.73 272.3,107.1C274.4,108.47 275.48,111 277.1,114.9C278.72,118.8 280.37,126.92 282,130.5C283.63,134.08 284.62,135.35 286.9,136.4C289.18,137.45 292.93,135.18 295.7,136.8C298.47,138.42 300.9,142.92 303.5,146.1C306.1,149.28 308.7,153.68 311.3,155.9C313.9,158.12 316.17,159.02 319.1,159.4C322.03,159.78 326.28,157.48 328.9,158.2C331.52,158.92 333.02,161.15 334.8,163.7C336.58,166.25 337.65,169.6 339.6,173.5C341.55,177.4 343.72,183.2 346.5,187.1C349.28,191 353.7,194.62 356.3,196.9C358.9,199.18 359.82,199.82 362.1,200.8C364.38,201.78 367.02,202.31 370,202.8C372.98,203.29 376.7,203.43 380,203.75C383.3,204.07 385.57,204.31 389.8,204.7C394.03,205.09 400.52,205.22 405.4,206.1C410.28,206.98 414.22,209.83 419.1,210C423.98,210.17 429.82,207.75 434.7,207.1C439.58,206.45 444.17,206.5 448.4,206.1C452.63,205.7 456.85,205.58 460.1,204.7C463.35,203.82 465.3,202.03 467.9,200.8C470.5,199.57 473.1,197.3 475.7,197.3C478.3,197.3 480.57,200.38 483.5,200.8C486.43,201.22 490.7,201.58 493.3,199.8C495.9,198.02 496.98,193.61 499.1,190.1C501.22,186.59 503.38,180.7 506,178.75C508.62,176.8 512.03,177.97 514.8,178.4C517.57,178.83 520,180 522.6,181.3C525.2,182.6 528.12,183.77 530.4,186.2C532.67,188.63 534.3,193.13 536.25,195.9C538.2,198.67 540.14,202.47 542.1,202.8C544.06,203.13 546.05,200.35 548,197.9C549.95,195.45 552.18,190.22 553.8,188.1C555.42,185.98 556.4,184.8 557.7,185.2C559,185.6 560.57,188.38 561.6,190.5C562.63,192.62 562.53,195.37 563.9,197.9C565.27,200.43 567.2,203.92 569.8,205.7C572.4,207.48 576.25,207.3 579.5,208.6C582.75,209.9 586.03,212.2 589.3,213.5C592.57,214.8 596.17,216.4 599.1,216.4C602.03,216.4 604.63,215.93 606.9,213.5C609.17,211.07 610.75,206.03 612.7,201.8C614.65,197.57 616.8,191.03 618.6,188.1C620.4,185.17 621.87,184.58 623.5,184.2C625.13,183.82 626.45,184.33 628.4,185.8C630.35,187.27 632.93,191.57 635.2,193C637.47,194.43 639.57,194.63 642,194.4C644.43,194.17 646.87,191.73 649.8,191.6C652.73,191.47 656.67,192.88 659.6,193.6C662.53,194.32 664.95,195.28 667.4,195.9C669.85,196.52 672.02,197.38 674.3,197.3C676.58,197.22 678.67,195.63 681.1,195.4C683.53,195.17 686.62,194.67 688.9,195.9C691.18,197.13 693.23,201.07 694.8,202.8C696.37,204.53 697,206.47 698.3,206.3C699.6,206.13 700.58,203.53 702.6,201.8C704.62,200.07 707.47,196.97 710.4,195.9C713.33,194.83 716.95,195.23 720.2,195.4C723.45,195.57 726.65,196.3 729.9,196.9C733.15,197.5 736.72,199.43 739.7,199C742.68,198.57 744.98,195.5 747.8,194.3C750.62,193.1 754,191.9 756.6,191.8C759.2,191.7 760.8,192.15 763.4,193.7C766,195.25 769.27,200.18 772.2,201.1C775.13,202.02 777.9,199.13 781,199.2C784.1,199.27 788.03,200.13 790.8,201.5C793.57,202.87 795.65,204.8 797.6,207.4C799.55,210 800.87,214.98 802.5,217.1C804.13,219.22 805.45,220.42 807.4,220.1C809.35,219.78 812.08,217.09 814.2,215.2C816.32,213.31 817.98,209.88 820.1,208.75C822.22,207.62 824.62,207.33 826.9,208.4C829.17,209.47 831.3,212.43 833.75,215.2C836.2,217.97 838.99,222.72 841.6,225C844.21,227.28 846.48,228.1 849.4,228.9C852.32,229.7 856.5,228.67 859.1,229.8C861.7,230.93 863.2,233.42 865,235.7C866.8,237.98 868.43,242.2 869.9,243.5C871.37,244.8 872.5,245.45 873.8,243.5C875.1,241.55 876.08,235.87 877.7,231.8C879.33,227.73 881.86,221.7 883.55,219.1C885.24,216.5 886.39,216.03 887.85,216.2C889.31,216.37 890.57,217.5 892.3,220.1C894.02,222.7 895.92,228.22 898.2,231.8C900.48,235.38 903.4,239.32 906,241.6C908.6,243.88 911.2,244.63 913.8,245.5C916.4,246.37 919.23,245.83 921.6,246.8C923.97,247.77 926,249.93 928,251.3C930,252.67 932.03,253.98 933.6,255C935.17,256.02 936.3,257.55 937.4,257.4C938.5,257.25 939.27,256.68 940.2,254.1C941.13,251.52 941.9,246.28 943,241.9C944.1,237.52 945.65,231.27 946.8,227.8C947.95,224.33 948.67,222.92 949.9,221.1C951.13,219.28 952.89,216.9 954.2,216.9C955.51,216.9 956.5,218.45 957.75,221.1C959,223.75 960.09,228.72 961.7,232.8C963.31,236.88 965.2,242.28 967.4,245.6C969.6,248.92 972.4,250.82 974.9,252.7C977.4,254.58 980.05,255.27 982.4,256.9C984.75,258.53 986.82,260.32 989,262.5C991.18,264.68 993.63,267.97 995.5,270C997.37,272.03 998.95,273.63 1000.2,274.7C1001.45,275.77 1002.13,276.55 1003,276.4C1003.87,276.25 1004.62,275.48 1005.4,273.8C1006.18,272.12 1007,269.27 1007.7,266.3C1008.4,263.33 1008.97,259.13 1009.6,256C1010.23,252.87 1011.18,248.92 1011.5,247.5" fill="none" stroke="#9aa7b4" stroke-width="0.68" stroke-dasharray="2.1,1.5" clip-path="url(#cpb1)"/>
<path d="M30.2,126.6C31.75,128.55 36.32,135.05 39.5,138.3C42.68,141.55 46.05,143.65 49.3,146.1C52.55,148.55 56.23,151.37 59,153C61.77,154.63 63.77,155.25 65.9,155.9C68.03,156.55 69.52,155.67 71.8,156.9C74.08,158.13 77.48,163.8 79.6,163.3C81.72,162.8 82.72,158.72 84.5,153.9C86.28,149.08 88.35,139.28 90.3,134.4C92.25,129.52 94.25,125.58 96.2,124.6C98.15,123.62 99.73,127.52 102,128.5C104.27,129.48 106.87,130 109.8,130.5C112.73,131 116.33,130.27 119.6,131.5C122.87,132.73 126.15,137.58 129.4,137.9C132.65,138.22 136.17,134.47 139.1,133.4C142.03,132.33 144.72,133.93 147,131.5C149.28,129.07 151.02,124.5 152.8,118.8C154.58,113.1 156.23,102.35 157.7,97.3C159.17,92.25 159.82,89.8 161.6,88.5C163.38,87.2 165.63,88.68 168.4,89.5C171.17,90.32 175.1,93.33 178.2,93.4C181.3,93.47 184.07,89.9 187,89.9C189.93,89.9 193.63,92.33 195.8,93.4C197.97,94.47 197.67,95.17 200,96.3C202.33,97.43 206.55,98.57 209.8,100.2C213.05,101.83 216.42,106.58 219.5,106.1C222.58,105.62 225.37,97.63 228.3,97.3C231.23,96.97 234.33,102.25 237.1,104.1C239.87,105.95 242.3,108.23 244.9,108.4C247.5,108.57 250.1,105.97 252.7,105.1C255.3,104.23 257.88,104.83 260.5,103.2C263.12,101.57 265.95,98.57 268.4,95.3C270.85,92.03 273.58,85.62 275.2,83.6C276.82,81.58 277.13,81.57 278.1,83.2C279.07,84.83 279.85,88.12 281,93.4C282.15,98.68 283.53,111.48 285,114.9C286.47,118.32 288.18,114.23 289.8,113.9C291.42,113.57 293.07,111.6 294.7,112.9C296.33,114.2 297.8,118.43 299.6,121.7C301.4,124.97 303.55,130.05 305.5,132.5C307.45,134.95 309.03,135.6 311.3,136.4C313.57,137.2 316.48,136.17 319.1,137.3C321.72,138.43 324.38,140.43 327,143.2C329.62,145.97 332.53,150.48 334.8,153.9C337.07,157.32 338.98,161.65 340.6,163.7C342.22,165.75 342.55,166.2 344.5,166.2C346.45,166.2 349.68,164.7 352.3,163.7C354.92,162.7 357.92,160.03 360.2,160.2C362.48,160.37 363.88,162.48 366,164.7C368.12,166.92 370.62,171.55 372.9,173.5C375.18,175.45 377.6,175.88 379.7,176.4C381.8,176.92 383.17,175.95 385.5,176.6C387.83,177.25 391.03,179.94 393.7,180.3C396.37,180.66 398.9,179.13 401.5,178.75C404.1,178.37 407.18,179.04 409.3,178C411.42,176.96 412.57,175.37 414.2,172.5C415.83,169.63 417.15,163.83 419.1,160.8C421.05,157.77 423.95,154.3 425.9,154.3C427.85,154.3 429.17,158.48 430.8,160.8C432.43,163.12 433.92,166.63 435.7,168.2C437.48,169.77 439.55,169.22 441.5,170.2C443.45,171.18 445.28,172.9 447.4,174.1C449.52,175.3 451.43,176.3 454.2,177.4C456.97,178.5 460.58,179.73 464,180.7C467.42,181.67 472.27,183.58 474.7,183.2C477.13,182.82 477.3,181.48 478.6,178.4C479.9,175.32 481.03,168.78 482.5,164.7C483.97,160.62 485.87,156.28 487.4,153.9C488.93,151.52 490.23,150.07 491.7,150.4C493.17,150.73 494.63,153.2 496.2,155.9C497.77,158.6 499.3,163.67 501.1,166.6C502.9,169.53 505.05,171.87 507,173.5C508.95,175.13 510.53,175.75 512.8,176.4C515.07,177.05 518,177.4 520.6,177.4C523.2,177.4 526.12,176.4 528.4,176.4C530.68,176.4 532.67,175.93 534.3,177.4C535.93,178.87 536.97,183.32 538.2,185.2C539.43,187.08 540.4,188.87 541.7,188.7C543,188.53 544.3,186.9 546,184.2C547.7,181.5 549.95,175.65 551.9,172.5C553.85,169.35 556.08,165.47 557.7,165.3C559.32,165.13 560.4,168.02 561.6,171.5C562.8,174.98 563.53,182.28 564.9,186.2C566.27,190.12 567.85,192.57 569.8,195C571.75,197.43 574.65,199.5 576.6,200.8C578.55,202.1 579.38,201.57 581.5,202.8C583.62,204.03 586.37,206.73 589.3,208.2C592.23,209.67 596.33,211.37 599.1,211.6C601.87,211.83 603.95,211.23 605.9,209.6C607.85,207.97 609.17,206.03 610.8,201.8C612.43,197.57 614.23,189.08 615.7,184.2C617.17,179.32 618.3,175.17 619.6,172.5C620.9,169.83 622.2,168.53 623.5,168.2C624.8,167.87 625.93,169.3 627.4,170.5C628.87,171.7 630.18,173.83 632.3,175.4C634.42,176.97 637.18,179.15 640.1,179.9C643.02,180.65 646.55,179.67 649.8,179.9C653.05,180.13 656.67,180.75 659.6,181.3C662.53,181.85 664.95,182.55 667.4,183.2C669.85,183.85 672.35,186 674.3,185.2C676.25,184.4 677.48,180.78 679.1,178.4C680.72,176.02 682.2,172.7 684,170.9C685.8,169.1 688.1,167.72 689.9,167.6C691.7,167.48 693.33,169.05 694.8,170.2C696.27,171.35 697.23,172.33 698.7,174.5C700.17,176.67 701.98,180.77 703.6,183.2C705.22,185.63 706.29,187.85 708.4,189.1C710.51,190.35 713.32,190.28 716.25,190.7C719.18,191.12 723.08,191.05 726,191.6C728.92,192.15 731.52,193.35 733.8,194C736.08,194.65 737.37,196.2 739.7,195.5C742.03,194.8 744.98,191.23 747.8,189.8C750.62,188.37 754,186.8 756.6,186.9C759.2,187 760.8,188.68 763.4,190.4C766,192.12 769.27,196.32 772.2,197.2C775.13,198.08 777.9,195.47 781,195.7C784.1,195.93 787.87,197.3 790.8,198.6C793.73,199.9 796.17,202.03 798.6,203.5C801.03,204.97 803.28,207.57 805.4,207.4C807.52,207.23 809.35,204.52 811.3,202.5C813.25,200.48 815.25,197.15 817.1,195.3C818.95,193.45 820.77,191.33 822.4,191.4C824.03,191.47 825.01,193.2 826.9,195.7C828.79,198.2 831.3,202.98 833.75,206.4C836.2,209.82 839.33,213.98 841.6,216.2C843.88,218.42 845.13,219.05 847.4,219.7C849.67,220.35 852.92,219.55 855.2,220.1C857.48,220.65 859.14,221.43 861.1,223C863.06,224.57 865.26,227.8 866.95,229.5C868.64,231.2 869.94,233.47 871.25,233.2C872.56,232.93 873.56,231.72 874.8,227.9C876.04,224.08 877.24,215.83 878.7,210.3C880.16,204.77 882.02,198.05 883.55,194.7C885.07,191.35 886.54,190.03 887.85,190.2C889.16,190.37 890,191.7 891.4,195.7C892.8,199.7 894.47,209.17 896.25,214.2C898.03,219.23 899.83,222.48 902.1,225.9C904.38,229.32 906.97,232.58 909.9,234.7C912.83,236.82 916.77,237.32 919.7,238.6C922.63,239.88 925.18,241 927.5,242.4C929.82,243.8 931.95,245.98 933.6,247C935.25,248.02 936.38,248.8 937.4,248.5C938.42,248.2 938.92,247.55 939.7,245.2C940.48,242.85 941.32,237.77 942.1,234.4C942.88,231.03 943.48,229.17 944.4,225C945.32,220.83 946.42,213.43 947.6,209.4C948.78,205.37 950.4,202.55 951.5,200.8C952.6,199.05 953.28,198.52 954.2,198.9C955.12,199.28 955.97,199.42 957,203.1C958.03,206.78 959.3,216.1 960.4,221C961.5,225.9 962.28,229.48 963.6,232.5C964.92,235.52 966.42,237.3 968.3,239.1C970.18,240.9 972.7,241.9 974.9,243.3C977.1,244.7 979.15,245.7 981.5,247.5C983.85,249.3 986.67,251.83 989,254.1C991.33,256.37 993.47,259.2 995.5,261.1C997.53,263 999.78,264.63 1001.2,265.5C1002.62,266.37 1003.22,266.8 1004,266.3C1004.78,265.8 1005.2,265 1005.9,262.5C1006.6,260 1007.42,255.52 1008.2,251.3C1008.98,247.08 1010,240.57 1010.6,237.2C1011.2,233.83 1011.6,232.12 1011.8,231.1" fill="none" stroke="#e04c4a" stroke-width="1.6" stroke-linejoin="round" stroke-linecap="round" clip-path="url(#cpa1)"/>
<path d="M30.2,126.6C31.75,128.55 36.32,135.05 39.5,138.3C42.68,141.55 46.05,143.65 49.3,146.1C52.55,148.55 56.23,151.37 59,153C61.77,154.63 63.77,155.25 65.9,155.9C68.03,156.55 69.52,155.67 71.8,156.9C74.08,158.13 77.48,163.8 79.6,163.3C81.72,162.8 82.72,158.72 84.5,153.9C86.28,149.08 88.35,139.28 90.3,134.4C92.25,129.52 94.25,125.58 96.2,124.6C98.15,123.62 99.73,127.52 102,128.5C104.27,129.48 106.87,130 109.8,130.5C112.73,131 116.33,130.27 119.6,131.5C122.87,132.73 126.15,137.58 129.4,137.9C132.65,138.22 136.17,134.47 139.1,133.4C142.03,132.33 144.72,133.93 147,131.5C149.28,129.07 151.02,124.5 152.8,118.8C154.58,113.1 156.23,102.35 157.7,97.3C159.17,92.25 159.82,89.8 161.6,88.5C163.38,87.2 165.63,88.68 168.4,89.5C171.17,90.32 175.1,93.33 178.2,93.4C181.3,93.47 184.07,89.9 187,89.9C189.93,89.9 193.63,92.33 195.8,93.4C197.97,94.47 197.67,95.17 200,96.3C202.33,97.43 206.55,98.57 209.8,100.2C213.05,101.83 216.42,106.58 219.5,106.1C222.58,105.62 225.37,97.63 228.3,97.3C231.23,96.97 234.33,102.25 237.1,104.1C239.87,105.95 242.3,108.23 244.9,108.4C247.5,108.57 250.1,105.97 252.7,105.1C255.3,104.23 257.88,104.83 260.5,103.2C263.12,101.57 265.95,98.57 268.4,95.3C270.85,92.03 273.58,85.62 275.2,83.6C276.82,81.58 277.13,81.57 278.1,83.2C279.07,84.83 279.85,88.12 281,93.4C282.15,98.68 283.53,111.48 285,114.9C286.47,118.32 288.18,114.23 289.8,113.9C291.42,113.57 293.07,111.6 294.7,112.9C296.33,114.2 297.8,118.43 299.6,121.7C301.4,124.97 303.55,130.05 305.5,132.5C307.45,134.95 309.03,135.6 311.3,136.4C313.57,137.2 316.48,136.17 319.1,137.3C321.72,138.43 324.38,140.43 327,143.2C329.62,145.97 332.53,150.48 334.8,153.9C337.07,157.32 338.98,161.65 340.6,163.7C342.22,165.75 342.55,166.2 344.5,166.2C346.45,166.2 349.68,164.7 352.3,163.7C354.92,162.7 357.92,160.03 360.2,160.2C362.48,160.37 363.88,162.48 366,164.7C368.12,166.92 370.62,171.55 372.9,173.5C375.18,175.45 377.6,175.88 379.7,176.4C381.8,176.92 383.17,175.95 385.5,176.6C387.83,177.25 391.03,179.94 393.7,180.3C396.37,180.66 398.9,179.13 401.5,178.75C404.1,178.37 407.18,179.04 409.3,178C411.42,176.96 412.57,175.37 414.2,172.5C415.83,169.63 417.15,163.83 419.1,160.8C421.05,157.77 423.95,154.3 425.9,154.3C427.85,154.3 429.17,158.48 430.8,160.8C432.43,163.12 433.92,166.63 435.7,168.2C437.48,169.77 439.55,169.22 441.5,170.2C443.45,171.18 445.28,172.9 447.4,174.1C449.52,175.3 451.43,176.3 454.2,177.4C456.97,178.5 460.58,179.73 464,180.7C467.42,181.67 472.27,183.58 474.7,183.2C477.13,182.82 477.3,181.48 478.6,178.4C479.9,175.32 481.03,168.78 482.5,164.7C483.97,160.62 485.87,156.28 487.4,153.9C488.93,151.52 490.23,150.07 491.7,150.4C493.17,150.73 494.63,153.2 496.2,155.9C497.77,158.6 499.3,163.67 501.1,166.6C502.9,169.53 505.05,171.87 507,173.5C508.95,175.13 510.53,175.75 512.8,176.4C515.07,177.05 518,177.4 520.6,177.4C523.2,177.4 526.12,176.4 528.4,176.4C530.68,176.4 532.67,175.93 534.3,177.4C535.93,178.87 536.97,183.32 538.2,185.2C539.43,187.08 540.4,188.87 541.7,188.7C543,188.53 544.3,186.9 546,184.2C547.7,181.5 549.95,175.65 551.9,172.5C553.85,169.35 556.08,165.47 557.7,165.3C559.32,165.13 560.4,168.02 561.6,171.5C562.8,174.98 563.53,182.28 564.9,186.2C566.27,190.12 567.85,192.57 569.8,195C571.75,197.43 574.65,199.5 576.6,200.8C578.55,202.1 579.38,201.57 581.5,202.8C583.62,204.03 586.37,206.73 589.3,208.2C592.23,209.67 596.33,211.37 599.1,211.6C601.87,211.83 603.95,211.23 605.9,209.6C607.85,207.97 609.17,206.03 610.8,201.8C612.43,197.57 614.23,189.08 615.7,184.2C617.17,179.32 618.3,175.17 619.6,172.5C620.9,169.83 622.2,168.53 623.5,168.2C624.8,167.87 625.93,169.3 627.4,170.5C628.87,171.7 630.18,173.83 632.3,175.4C634.42,176.97 637.18,179.15 640.1,179.9C643.02,180.65 646.55,179.67 649.8,179.9C653.05,180.13 656.67,180.75 659.6,181.3C662.53,181.85 664.95,182.55 667.4,183.2C669.85,183.85 672.35,186 674.3,185.2C676.25,184.4 677.48,180.78 679.1,178.4C680.72,176.02 682.2,172.7 684,170.9C685.8,169.1 688.1,167.72 689.9,167.6C691.7,167.48 693.33,169.05 694.8,170.2C696.27,171.35 697.23,172.33 698.7,174.5C700.17,176.67 701.98,180.77 703.6,183.2C705.22,185.63 706.29,187.85 708.4,189.1C710.51,190.35 713.32,190.28 716.25,190.7C719.18,191.12 723.08,191.05 726,191.6C728.92,192.15 731.52,193.35 733.8,194C736.08,194.65 737.37,196.2 739.7,195.5C742.03,194.8 744.98,191.23 747.8,189.8C750.62,188.37 754,186.8 756.6,186.9C759.2,187 760.8,188.68 763.4,190.4C766,192.12 769.27,196.32 772.2,197.2C775.13,198.08 777.9,195.47 781,195.7C784.1,195.93 787.87,197.3 790.8,198.6C793.73,199.9 796.17,202.03 798.6,203.5C801.03,204.97 803.28,207.57 805.4,207.4C807.52,207.23 809.35,204.52 811.3,202.5C813.25,200.48 815.25,197.15 817.1,195.3C818.95,193.45 820.77,191.33 822.4,191.4C824.03,191.47 825.01,193.2 826.9,195.7C828.79,198.2 831.3,202.98 833.75,206.4C836.2,209.82 839.33,213.98 841.6,216.2C843.88,218.42 845.13,219.05 847.4,219.7C849.67,220.35 852.92,219.55 855.2,220.1C857.48,220.65 859.14,221.43 861.1,223C863.06,224.57 865.26,227.8 866.95,229.5C868.64,231.2 869.94,233.47 871.25,233.2C872.56,232.93 873.56,231.72 874.8,227.9C876.04,224.08 877.24,215.83 878.7,210.3C880.16,204.77 882.02,198.05 883.55,194.7C885.07,191.35 886.54,190.03 887.85,190.2C889.16,190.37 890,191.7 891.4,195.7C892.8,199.7 894.47,209.17 896.25,214.2C898.03,219.23 899.83,222.48 902.1,225.9C904.38,229.32 906.97,232.58 909.9,234.7C912.83,236.82 916.77,237.32 919.7,238.6C922.63,239.88 925.18,241 927.5,242.4C929.82,243.8 931.95,245.98 933.6,247C935.25,248.02 936.38,248.8 937.4,248.5C938.42,248.2 938.92,247.55 939.7,245.2C940.48,242.85 941.32,237.77 942.1,234.4C942.88,231.03 943.48,229.17 944.4,225C945.32,220.83 946.42,213.43 947.6,209.4C948.78,205.37 950.4,202.55 951.5,200.8C952.6,199.05 953.28,198.52 954.2,198.9C955.12,199.28 955.97,199.42 957,203.1C958.03,206.78 959.3,216.1 960.4,221C961.5,225.9 962.28,229.48 963.6,232.5C964.92,235.52 966.42,237.3 968.3,239.1C970.18,240.9 972.7,241.9 974.9,243.3C977.1,244.7 979.15,245.7 981.5,247.5C983.85,249.3 986.67,251.83 989,254.1C991.33,256.37 993.47,259.2 995.5,261.1C997.53,263 999.78,264.63 1001.2,265.5C1002.62,266.37 1003.22,266.8 1004,266.3C1004.78,265.8 1005.2,265 1005.9,262.5C1006.6,260 1007.42,255.52 1008.2,251.3C1008.98,247.08 1010,240.57 1010.6,237.2C1011.2,233.83 1011.6,232.12 1011.8,231.1" fill="none" stroke="#4ba6da" stroke-width="1.6" stroke-linejoin="round" stroke-linecap="round" clip-path="url(#cpb1)"/>
<text x="103.97" y="291.4" text-anchor="middle" font-size="6.5" font-weight="bold" fill="#404040" stroke="#fff" stroke-width="1.7" paint-order="stroke" stroke-linejoin="round">0.5</text>
<text x="120.47" y="301.1" text-anchor="middle" font-size="6.5" font-weight="bold" fill="#404040" stroke="#fff" stroke-width="1.7" paint-order="stroke" stroke-linejoin="round">0.2</text>
<text x="178.22" y="270.5" text-anchor="middle" font-size="6.5" font-weight="bold" fill="#404040" stroke="#fff" stroke-width="1.7" paint-order="stroke" stroke-linejoin="round">1.1</text>
<text x="194.72" y="297.2" text-anchor="middle" font-size="6.5" font-weight="bold" fill="#404040" stroke="#fff" stroke-width="1.7" paint-order="stroke" stroke-linejoin="round">0.3</text>
<text x="202.97" y="198.9" text-anchor="middle" font-size="6.5" font-weight="bold" fill="#404040" stroke="#fff" stroke-width="1.7" paint-order="stroke" stroke-linejoin="round">3.3</text>
<text x="211.22" y="163.2" text-anchor="middle" font-size="6.5" font-weight="bold" fill="#404040" stroke="#fff" stroke-width="1.7" paint-order="stroke" stroke-linejoin="round">4.4</text>
<text x="219.47" y="305" text-anchor="middle" font-size="6.5" font-weight="bold" fill="#404040" stroke="#fff" stroke-width="1.7" paint-order="stroke" stroke-linejoin="round">0.1</text>
<text x="244.22" y="305" text-anchor="middle" font-size="6.5" font-weight="bold" fill="#404040" stroke="#fff" stroke-width="1.7" paint-order="stroke" stroke-linejoin="round">0.1</text>
<text x="260.73" y="227.9" text-anchor="middle" font-size="6.5" font-weight="bold" fill="#404040" stroke="#fff" stroke-width="1.7" paint-order="stroke" stroke-linejoin="round">2.4</text>
<text x="268.98" y="126.2" text-anchor="middle" font-size="6.5" font-weight="bold" fill="#404040" stroke="#fff" stroke-width="1.7" paint-order="stroke" stroke-linejoin="round">5.6</text>
<text x="285.48" y="294.9" text-anchor="middle" font-size="6.5" font-weight="bold" fill="#404040" stroke="#fff" stroke-width="1.7" paint-order="stroke" stroke-linejoin="round">0.4</text>
<text x="301.98" y="262.1" text-anchor="middle" font-size="6.5" font-weight="bold" fill="#404040" stroke="#fff" stroke-width="1.7" paint-order="stroke" stroke-linejoin="round">1.4</text>
<text x="310.23" y="305" text-anchor="middle" font-size="6.5" font-weight="bold" fill="#404040" stroke="#fff" stroke-width="1.7" paint-order="stroke" stroke-linejoin="round">0.1</text>
<text x="326.73" y="291.4" text-anchor="middle" font-size="6.5" font-weight="bold" fill="#404040" stroke="#fff" stroke-width="1.7" paint-order="stroke" stroke-linejoin="round">0.5</text>
<text x="334.98" y="119.4" text-anchor="middle" font-size="6.5" font-weight="bold" fill="#404040" stroke="#fff" stroke-width="1.7" paint-order="stroke" stroke-linejoin="round">5.8</text>
<text x="343.23" y="268.9" text-anchor="middle" font-size="6.5" font-weight="bold" fill="#404040" stroke="#fff" stroke-width="1.7" paint-order="stroke" stroke-linejoin="round">1.2</text>
<text x="351.48" y="305" text-anchor="middle" font-size="6.5" font-weight="bold" fill="#404040" stroke="#fff" stroke-width="1.7" paint-order="stroke" stroke-linejoin="round">0.1</text>
<text x="499.98" y="299.2" text-anchor="middle" font-size="6.5" font-weight="bold" fill="#404040" stroke="#fff" stroke-width="1.7" paint-order="stroke" stroke-linejoin="round">0.3</text>
<text x="516.48" y="239.6" text-anchor="middle" font-size="6.5" font-weight="bold" fill="#404040" stroke="#fff" stroke-width="1.7" paint-order="stroke" stroke-linejoin="round">2.1</text>
<text x="524.73" y="177" text-anchor="middle" font-size="6.5" font-weight="bold" fill="#404040" stroke="#fff" stroke-width="1.7" paint-order="stroke" stroke-linejoin="round">4.0</text>
<text x="532.98" y="294.9" text-anchor="middle" font-size="6.5" font-weight="bold" fill="#404040" stroke="#fff" stroke-width="1.7" paint-order="stroke" stroke-linejoin="round">0.4</text>
<text x="615.48" y="297.2" text-anchor="middle" font-size="6.5" font-weight="bold" fill="#404040" stroke="#fff" stroke-width="1.7" paint-order="stroke" stroke-linejoin="round">0.3</text>
<text x="631.98" y="305" text-anchor="middle" font-size="6.5" font-weight="bold" fill="#404040" stroke="#fff" stroke-width="1.7" paint-order="stroke" stroke-linejoin="round">0.1</text>
<text x="706.23" y="305" text-anchor="middle" font-size="6.5" font-weight="bold" fill="#404040" stroke="#fff" stroke-width="1.7" paint-order="stroke" stroke-linejoin="round">0.1</text>
<text x="714.48" y="291.4" text-anchor="middle" font-size="6.5" font-weight="bold" fill="#404040" stroke="#fff" stroke-width="1.7" paint-order="stroke" stroke-linejoin="round">0.5</text>
<text x="730.98" y="279.1" text-anchor="middle" font-size="6.5" font-weight="bold" fill="#404040" stroke="#fff" stroke-width="1.7" paint-order="stroke" stroke-linejoin="round">0.9</text>
<text x="747.48" y="282.6" text-anchor="middle" font-size="6.5" font-weight="bold" fill="#404040" stroke="#fff" stroke-width="1.7" paint-order="stroke" stroke-linejoin="round">0.8</text>
<text x="763.98" y="262.1" text-anchor="middle" font-size="6.5" font-weight="bold" fill="#404040" stroke="#fff" stroke-width="1.7" paint-order="stroke" stroke-linejoin="round">1.4</text>
<text x="772.23" y="294.9" text-anchor="middle" font-size="6.5" font-weight="bold" fill="#404040" stroke="#fff" stroke-width="1.7" paint-order="stroke" stroke-linejoin="round">0.4</text>
<text x="788.73" y="303.1" text-anchor="middle" font-size="6.5" font-weight="bold" fill="#404040" stroke="#fff" stroke-width="1.7" paint-order="stroke" stroke-linejoin="round">0.1</text>
<text x="1003.23" y="305" text-anchor="middle" font-size="6.5" font-weight="bold" fill="#404040" stroke="#fff" stroke-width="1.7" paint-order="stroke" stroke-linejoin="round">0.1</text>
<path transform="translate(45.02,129.8)" d="M-4.4,3.6 C-7.3,3.6 -7.3,-0.3 -4.7,-0.6 C-4.5,-1.9 -3.0,-2.2 -2.4,-1.5 C-1.6,-4.7 3.5,-4.8 3.9,-1.1 C7.3,-1.2 7.4,3.6 4.4,3.6 Z" fill="url(#cg)" stroke="#9db3c4" stroke-width="0.9"/>
<g transform="translate(63.23,139.8)"><circle r="4.3" fill="url(#mg)" stroke="#77756a" stroke-width="0.6"/><path d="M0.5,-4.0 A4.05,4.05 0 0 1 0.5,4.0 A6.2,6.2 0 0 0 0.5,-4.0Z" fill="#e2dfc9"/></g><path transform="translate(61.12,144.8)" d="M-4.4,3.6 C-7.3,3.6 -7.3,-0.3 -4.7,-0.6 C-4.5,-1.9 -3.0,-2.2 -2.4,-1.5 C-1.6,-4.7 3.5,-4.8 3.9,-1.1 C7.3,-1.2 7.4,3.6 4.4,3.6 Z" fill="url(#cg)" stroke="#9db3c4" stroke-width="0.9"/>
<g transform="translate(79.73,147.7)"><circle r="4.3" fill="url(#mg)" stroke="#77756a" stroke-width="0.6"/><path d="M0.5,-4.0 A4.05,4.05 0 0 1 0.5,4.0 A6.2,6.2 0 0 0 0.5,-4.0Z" fill="#e2dfc9"/></g><path transform="translate(77.62,152.7)" d="M-4.4,3.6 C-7.3,3.6 -7.3,-0.3 -4.7,-0.6 C-4.5,-1.9 -3.0,-2.2 -2.4,-1.5 C-1.6,-4.7 3.5,-4.8 3.9,-1.1 C7.3,-1.2 7.4,3.6 4.4,3.6 Z" fill="url(#cg)" stroke="#9db3c4" stroke-width="0.9"/>
<path transform="translate(94.53,109.9)" d="M-4.4,3.6 C-7.3,3.6 -7.3,-0.3 -4.7,-0.6 C-4.5,-1.9 -3.0,-2.2 -2.4,-1.5 C-1.6,-4.7 3.5,-4.8 3.9,-1.1 C7.3,-1.2 7.4,3.6 4.4,3.6 Z" fill="url(#cg)" stroke="#9db3c4" stroke-width="0.9"/>
<path transform="translate(111.03,116.7)" d="M-4.4,3.6 C-7.3,3.6 -7.3,-0.3 -4.7,-0.6 C-4.5,-1.9 -3.0,-2.2 -2.4,-1.5 C-1.6,-4.7 3.5,-4.8 3.9,-1.1 C7.3,-1.2 7.4,3.6 4.4,3.6 Z" fill="url(#cg)" stroke="#9db3c4" stroke-width="0.9"/><path d="M112.88,121.4 l-0.7,1.4" stroke="#2c6496" stroke-width="1.2" stroke-linecap="round"/>
<g transform="translate(129.22,122.8)"><circle r="4.3" fill="url(#mg)" stroke="#77756a" stroke-width="0.6"/><path d="M0.5,-4.0 A4.05,4.05 0 0 1 0.5,4.0 A6.2,6.2 0 0 0 0.5,-4.0Z" fill="#e2dfc9"/></g><path transform="translate(127.12,127.8)" d="M-4.4,3.6 C-7.3,3.6 -7.3,-0.3 -4.7,-0.6 C-4.5,-1.9 -3.0,-2.2 -2.4,-1.5 C-1.6,-4.7 3.5,-4.8 3.9,-1.1 C7.3,-1.2 7.4,3.6 4.4,3.6 Z" fill="url(#cg)" stroke="#9db3c4" stroke-width="0.9"/>
<path transform="translate(144.03,117.3)" d="M-4.4,3.6 C-7.3,3.6 -7.3,-0.3 -4.7,-0.6 C-4.5,-1.9 -3.0,-2.2 -2.4,-1.5 C-1.6,-4.7 3.5,-4.8 3.9,-1.1 C7.3,-1.2 7.4,3.6 4.4,3.6 Z" fill="url(#cg)" stroke="#9db3c4" stroke-width="0.9"/>
<path transform="translate(160.53,73.8)" d="M-4.4,3.6 C-7.3,3.6 -7.3,-0.3 -4.7,-0.6 C-4.5,-1.9 -3.0,-2.2 -2.4,-1.5 C-1.6,-4.7 3.5,-4.8 3.9,-1.1 C7.3,-1.2 7.4,3.6 4.4,3.6 Z" fill="url(#cg)" stroke="#9db3c4" stroke-width="0.9"/>
<path transform="translate(177.03,79.3)" d="M-4.4,3.6 C-7.3,3.6 -7.3,-0.3 -4.7,-0.6 C-4.5,-1.9 -3.0,-2.2 -2.4,-1.5 C-1.6,-4.7 3.5,-4.8 3.9,-1.1 C7.3,-1.2 7.4,3.6 4.4,3.6 Z" fill="url(#cg)" stroke="#9db3c4" stroke-width="0.9"/><path d="M175.38,81.3 l-0.7,1.4" stroke="#2c6496" stroke-width="1.2" stroke-linecap="round"/><path d="M175.57,84.3 l-0.7,1.4" stroke="#2c6496" stroke-width="1.2" stroke-linecap="round"/><path d="M180.78,84.2 l-0.7,1.4" stroke="#2c6496" stroke-width="1.2" stroke-linecap="round"/>
<path transform="translate(193.53,79.4)" d="M-4.4,3.6 C-7.3,3.6 -7.3,-0.3 -4.7,-0.6 C-4.5,-1.9 -3.0,-2.2 -2.4,-1.5 C-1.6,-4.7 3.5,-4.8 3.9,-1.1 C7.3,-1.2 7.4,3.6 4.4,3.6 Z" fill="url(#cg)" stroke="#9db3c4" stroke-width="0.9"/><path d="M195.38,84.1 l-0.7,1.4" stroke="#2c6496" stroke-width="1.2" stroke-linecap="round"/>
<path transform="translate(210.03,85.2)" d="M-4.4,3.6 C-7.3,3.6 -7.3,-0.3 -4.7,-0.6 C-4.5,-1.9 -3.0,-2.2 -2.4,-1.5 C-1.6,-4.7 3.5,-4.8 3.9,-1.1 C7.3,-1.2 7.4,3.6 4.4,3.6 Z" fill="url(#cg)" stroke="#9db3c4" stroke-width="0.9"/><path d="M208.38,87.2 l-0.7,1.4" stroke="#2c6496" stroke-width="1.2" stroke-linecap="round"/><path d="M208.57,90.2 l-0.7,1.4" stroke="#2c6496" stroke-width="1.2" stroke-linecap="round"/><path d="M213.78,90.1 l-0.7,1.4" stroke="#2c6496" stroke-width="1.2" stroke-linecap="round"/>
<g transform="translate(229.62,86.1) scale(0.7)"><path transform="translate(0,0)" d="M-4.4,3.6 C-7.3,3.6 -7.3,-0.3 -4.7,-0.6 C-4.5,-1.9 -3.0,-2.2 -2.4,-1.5 C-1.6,-4.7 3.5,-4.8 3.9,-1.1 C7.3,-1.2 7.4,3.6 4.4,3.6 Z" fill="url(#cg)" stroke="#9db3c4" stroke-width="0.9"/></g><g transform="translate(225.12,83.4) scale(1)"><line x1="3.42" y1="0.76" x2="5.76" y2="1.29" stroke="#f39a2b" stroke-width="1"/><line x1="2.75" y1="2.17" x2="4.63" y2="3.66" stroke="#f39a2b" stroke-width="1"/><line x1="1.53" y1="3.15" x2="2.58" y2="5.3" stroke="#f39a2b" stroke-width="1"/><line x1="0.02" y1="3.5" x2="0.03" y2="5.9" stroke="#f39a2b" stroke-width="1"/><line x1="-1.5" y1="3.16" x2="-2.54" y2="5.33" stroke="#f39a2b" stroke-width="1"/><line x1="-2.73" y1="2.19" x2="-4.6" y2="3.7" stroke="#f39a2b" stroke-width="1"/><line x1="-3.41" y1="0.79" x2="-5.75" y2="1.34" stroke="#f39a2b" stroke-width="1"/><line x1="-3.42" y1="-0.76" x2="-5.76" y2="-1.29" stroke="#f39a2b" stroke-width="1"/><line x1="-2.75" y1="-2.17" x2="-4.63" y2="-3.66" stroke="#f39a2b" stroke-width="1"/><line x1="-1.53" y1="-3.15" x2="-2.58" y2="-5.3" stroke="#f39a2b" stroke-width="1"/><line x1="-0.02" y1="-3.5" x2="-0.03" y2="-5.9" stroke="#f39a2b" stroke-width="1"/><line x1="1.5" y1="-3.16" x2="2.54" y2="-5.33" stroke="#f39a2b" stroke-width="1"/><line x1="2.73" y1="-2.19" x2="4.6" y2="-3.7" stroke="#f39a2b" stroke-width="1"/><line x1="3.41" y1="-0.79" x2="5.75" y2="-1.34" stroke="#f39a2b" stroke-width="1"/><circle r="2.8" fill="url(#sg)" stroke="#f5a02a" stroke-width="0.8"/></g>
<path transform="translate(243.03,94)" d="M-4.4,3.6 C-7.3,3.6 -7.3,-0.3 -4.7,-0.6 C-4.5,-1.9 -3.0,-2.2 -2.4,-1.5 C-1.6,-4.7 3.5,-4.8 3.9,-1.1 C7.3,-1.2 7.4,3.6 4.4,3.6 Z" fill="url(#cg)" stroke="#9db3c4" stroke-width="0.9"/>
<path transform="translate(259.52,88.1)" d="M-4.4,3.6 C-7.3,3.6 -7.3,-0.3 -4.7,-0.6 C-4.5,-1.9 -3.0,-2.2 -2.4,-1.5 C-1.6,-4.7 3.5,-4.8 3.9,-1.1 C7.3,-1.2 7.4,3.6 4.4,3.6 Z" fill="url(#cg)" stroke="#9db3c4" stroke-width="0.9"/><path d="M257.88,90.1 l-0.7,1.4" stroke="#2c6496" stroke-width="1.2" stroke-linecap="round"/><path d="M258.07,93.1 l-0.7,1.4" stroke="#2c6496" stroke-width="1.2" stroke-linecap="round"/><path d="M263.27,93 l-0.7,1.4" stroke="#2c6496" stroke-width="1.2" stroke-linecap="round"/>
<path transform="translate(276.02,69.6)" d="M-4.4,3.6 C-7.3,3.6 -7.3,-0.3 -4.7,-0.6 C-4.5,-1.9 -3.0,-2.2 -2.4,-1.5 C-1.6,-4.7 3.5,-4.8 3.9,-1.1 C7.3,-1.2 7.4,3.6 4.4,3.6 Z" fill="url(#cg)" stroke="#9db3c4" stroke-width="0.9"/>
<path transform="translate(292.52,97.9)" d="M-4.4,3.6 C-7.3,3.6 -7.3,-0.3 -4.7,-0.6 C-4.5,-1.9 -3.0,-2.2 -2.4,-1.5 C-1.6,-4.7 3.5,-4.8 3.9,-1.1 C7.3,-1.2 7.4,3.6 4.4,3.6 Z" fill="url(#cg)" stroke="#9db3c4" stroke-width="0.9"/>
<path transform="translate(309.02,122.3)" d="M-4.4,3.6 C-7.3,3.6 -7.3,-0.3 -4.7,-0.6 C-4.5,-1.9 -3.0,-2.2 -2.4,-1.5 C-1.6,-4.7 3.5,-4.8 3.9,-1.1 C7.3,-1.2 7.4,3.6 4.4,3.6 Z" fill="url(#cg)" stroke="#9db3c4" stroke-width="0.9"/>
<path transform="translate(325.52,128.5)" d="M-4.4,3.6 C-7.3,3.6 -7.3,-0.3 -4.7,-0.6 C-4.5,-1.9 -3.0,-2.2 -2.4,-1.5 C-1.6,-4.7 3.5,-4.8 3.9,-1.1 C7.3,-1.2 7.4,3.6 4.4,3.6 Z" fill="url(#cg)" stroke="#9db3c4" stroke-width="0.9"/><path d="M327.38,133.2 l-0.7,1.4" stroke="#2c6496" stroke-width="1.2" stroke-linecap="round"/>
<path transform="translate(342.02,152)" d="M-4.4,3.6 C-7.3,3.6 -7.3,-0.3 -4.7,-0.6 C-4.5,-1.9 -3.0,-2.2 -2.4,-1.5 C-1.6,-4.7 3.5,-4.8 3.9,-1.1 C7.3,-1.2 7.4,3.6 4.4,3.6 Z" fill="url(#cg)" stroke="#9db3c4" stroke-width="0.9"/><path d="M343.82,153.3 L343.82,156.1M342.61,154 L345.04,155.4M345.04,154 L342.61,155.4" stroke="#5c5c5c" stroke-width="0.6" fill="none"/><path d="M344.42,156.8 L344.42,159.6M343.21,157.5 L345.64,158.9M345.64,157.5 L343.21,158.9" stroke="#5c5c5c" stroke-width="0.6" fill="none"/><path d="M340.38,157.1 l-0.7,1.4" stroke="#2c6496" stroke-width="1.2" stroke-linecap="round"/>
<path transform="translate(358.52,145.7)" d="M-4.4,3.6 C-7.3,3.6 -7.3,-0.3 -4.7,-0.6 C-4.5,-1.9 -3.0,-2.2 -2.4,-1.5 C-1.6,-4.7 3.5,-4.8 3.9,-1.1 C7.3,-1.2 7.4,3.6 4.4,3.6 Z" fill="url(#cg)" stroke="#9db3c4" stroke-width="0.9"/>
<g transform="translate(375.32,164.1)"><circle r="4.6" fill="url(#mg)" stroke="#77756a" stroke-width="0.6"/><path d="M0.5,-4.0 A4.05,4.05 0 0 1 0.5,4.0 A6.2,6.2 0 0 0 0.5,-4.0Z" fill="#e2dfc9"/></g>
<path transform="translate(391.52,166)" d="M-4.4,3.6 C-7.3,3.6 -7.3,-0.3 -4.7,-0.6 C-4.5,-1.9 -3.0,-2.2 -2.4,-1.5 C-1.6,-4.7 3.5,-4.8 3.9,-1.1 C7.3,-1.2 7.4,3.6 4.4,3.6 Z" fill="url(#cg)" stroke="#9db3c4" stroke-width="0.9"/>
<path transform="translate(408.02,163.7)" d="M-4.4,3.6 C-7.3,3.6 -7.3,-0.3 -4.7,-0.6 C-4.5,-1.9 -3.0,-2.2 -2.4,-1.5 C-1.6,-4.7 3.5,-4.8 3.9,-1.1 C7.3,-1.2 7.4,3.6 4.4,3.6 Z" fill="url(#cg)" stroke="#9db3c4" stroke-width="0.9"/>
<path transform="translate(424.52,139.9)" d="M-4.4,3.6 C-7.3,3.6 -7.3,-0.3 -4.7,-0.6 C-4.5,-1.9 -3.0,-2.2 -2.4,-1.5 C-1.6,-4.7 3.5,-4.8 3.9,-1.1 C7.3,-1.2 7.4,3.6 4.4,3.6 Z" fill="url(#cg)" stroke="#9db3c4" stroke-width="0.9"/>
<path transform="translate(441.02,156.3)" d="M-4.4,3.6 C-7.3,3.6 -7.3,-0.3 -4.7,-0.6 C-4.5,-1.9 -3.0,-2.2 -2.4,-1.5 C-1.6,-4.7 3.5,-4.8 3.9,-1.1 C7.3,-1.2 7.4,3.6 4.4,3.6 Z" fill="url(#cg)" stroke="#9db3c4" stroke-width="0.9"/>
<g transform="translate(457.82,166.25)"><circle r="4.6" fill="url(#mg)" stroke="#77756a" stroke-width="0.6"/><path d="M0.5,-4.0 A4.05,4.05 0 0 1 0.5,4.0 A6.2,6.2 0 0 0 0.5,-4.0Z" fill="#e2dfc9"/></g>
<path transform="translate(474.02,169)" d="M-4.4,3.6 C-7.3,3.6 -7.3,-0.3 -4.7,-0.6 C-4.5,-1.9 -3.0,-2.2 -2.4,-1.5 C-1.6,-4.7 3.5,-4.8 3.9,-1.1 C7.3,-1.2 7.4,3.6 4.4,3.6 Z" fill="url(#cg)" stroke="#9db3c4" stroke-width="0.9"/>
<path transform="translate(490.52,136)" d="M-4.4,3.6 C-7.3,3.6 -7.3,-0.3 -4.7,-0.6 C-4.5,-1.9 -3.0,-2.2 -2.4,-1.5 C-1.6,-4.7 3.5,-4.8 3.9,-1.1 C7.3,-1.2 7.4,3.6 4.4,3.6 Z" fill="url(#cg)" stroke="#9db3c4" stroke-width="0.9"/>
<path transform="translate(507.02,159.9)" d="M-4.4,3.6 C-7.3,3.6 -7.3,-0.3 -4.7,-0.6 C-4.5,-1.9 -3.0,-2.2 -2.4,-1.5 C-1.6,-4.7 3.5,-4.8 3.9,-1.1 C7.3,-1.2 7.4,3.6 4.4,3.6 Z" fill="url(#cg)" stroke="#9db3c4" stroke-width="0.9"/><path d="M508.82,161.2 L508.82,164M507.61,161.9 L510.04,163.3M510.04,161.9 L507.61,163.3" stroke="#5c5c5c" stroke-width="0.6" fill="none"/><path d="M504.82,164.6 L504.82,167.4M503.61,165.3 L506.04,166.7M506.04,165.3 L503.61,166.7" stroke="#5c5c5c" stroke-width="0.6" fill="none"/><path d="M509.82,164.7 L509.82,167.5M508.61,165.4 L511.04,166.8M511.04,165.4 L508.61,166.8" stroke="#5c5c5c" stroke-width="0.6" fill="none"/>
<path transform="translate(523.52,162.5)" d="M-4.4,3.6 C-7.3,3.6 -7.3,-0.3 -4.7,-0.6 C-4.5,-1.9 -3.0,-2.2 -2.4,-1.5 C-1.6,-4.7 3.5,-4.8 3.9,-1.1 C7.3,-1.2 7.4,3.6 4.4,3.6 Z" fill="url(#cg)" stroke="#9db3c4" stroke-width="0.9"/><path d="M525.32,163.8 L525.32,166.6M524.11,164.5 L526.54,165.9M526.54,164.5 L524.11,165.9" stroke="#5c5c5c" stroke-width="0.6" fill="none"/><path d="M521.32,167.2 L521.32,170M520.11,167.9 L522.54,169.3M522.54,167.9 L520.11,169.3" stroke="#5c5c5c" stroke-width="0.6" fill="none"/><path d="M526.32,167.3 L526.32,170.1M525.11,168 L527.54,169.4M527.54,168 L525.11,169.4" stroke="#5c5c5c" stroke-width="0.6" fill="none"/>
<g transform="translate(540.32,175.8)"><circle r="4.6" fill="url(#mg)" stroke="#77756a" stroke-width="0.6"/><path d="M0.5,-4.0 A4.05,4.05 0 0 1 0.5,4.0 A6.2,6.2 0 0 0 0.5,-4.0Z" fill="#e2dfc9"/></g>
<g transform="translate(556.92,152) scale(1)"><line x1="3.42" y1="0.76" x2="5.76" y2="1.29" stroke="#f39a2b" stroke-width="1"/><line x1="2.75" y1="2.17" x2="4.63" y2="3.66" stroke="#f39a2b" stroke-width="1"/><line x1="1.53" y1="3.15" x2="2.58" y2="5.3" stroke="#f39a2b" stroke-width="1"/><line x1="0.02" y1="3.5" x2="0.03" y2="5.9" stroke="#f39a2b" stroke-width="1"/><line x1="-1.5" y1="3.16" x2="-2.54" y2="5.33" stroke="#f39a2b" stroke-width="1"/><line x1="-2.73" y1="2.19" x2="-4.6" y2="3.7" stroke="#f39a2b" stroke-width="1"/><line x1="-3.41" y1="0.79" x2="-5.75" y2="1.34" stroke="#f39a2b" stroke-width="1"/><line x1="-3.42" y1="-0.76" x2="-5.76" y2="-1.29" stroke="#f39a2b" stroke-width="1"/><line x1="-2.75" y1="-2.17" x2="-4.63" y2="-3.66" stroke="#f39a2b" stroke-width="1"/><line x1="-1.53" y1="-3.15" x2="-2.58" y2="-5.3" stroke="#f39a2b" stroke-width="1"/><line x1="-0.02" y1="-3.5" x2="-0.03" y2="-5.9" stroke="#f39a2b" stroke-width="1"/><line x1="1.5" y1="-3.16" x2="2.54" y2="-5.33" stroke="#f39a2b" stroke-width="1"/><line x1="2.73" y1="-2.19" x2="4.6" y2="-3.7" stroke="#f39a2b" stroke-width="1"/><line x1="3.41" y1="-0.79" x2="5.75" y2="-1.34" stroke="#f39a2b" stroke-width="1"/><circle r="2.8" fill="url(#sg)" stroke="#f5a02a" stroke-width="0.8"/></g>
<path transform="translate(573.02,185.2)" d="M-4.4,3.6 C-7.3,3.6 -7.3,-0.3 -4.7,-0.6 C-4.5,-1.9 -3.0,-2.2 -2.4,-1.5 C-1.6,-4.7 3.5,-4.8 3.9,-1.1 C7.3,-1.2 7.4,3.6 4.4,3.6 Z" fill="url(#cg)" stroke="#9db3c4" stroke-width="0.9"/>
<path transform="translate(589.52,194.4)" d="M-4.4,3.6 C-7.3,3.6 -7.3,-0.3 -4.7,-0.6 C-4.5,-1.9 -3.0,-2.2 -2.4,-1.5 C-1.6,-4.7 3.5,-4.8 3.9,-1.1 C7.3,-1.2 7.4,3.6 4.4,3.6 Z" fill="url(#cg)" stroke="#9db3c4" stroke-width="0.9"/>
<path transform="translate(606.02,193)" d="M-4.4,3.6 C-7.3,3.6 -7.3,-0.3 -4.7,-0.6 C-4.5,-1.9 -3.0,-2.2 -2.4,-1.5 C-1.6,-4.7 3.5,-4.8 3.9,-1.1 C7.3,-1.2 7.4,3.6 4.4,3.6 Z" fill="url(#cg)" stroke="#9db3c4" stroke-width="0.9"/>
<path transform="translate(622.52,153.9)" d="M-4.4,3.6 C-7.3,3.6 -7.3,-0.3 -4.7,-0.6 C-4.5,-1.9 -3.0,-2.2 -2.4,-1.5 C-1.6,-4.7 3.5,-4.8 3.9,-1.1 C7.3,-1.2 7.4,3.6 4.4,3.6 Z" fill="url(#cg)" stroke="#9db3c4" stroke-width="0.9"/>
<path transform="translate(639.02,166.25)" d="M-4.4,3.6 C-7.3,3.6 -7.3,-0.3 -4.7,-0.6 C-4.5,-1.9 -3.0,-2.2 -2.4,-1.5 C-1.6,-4.7 3.5,-4.8 3.9,-1.1 C7.3,-1.2 7.4,3.6 4.4,3.6 Z" fill="url(#cg)" stroke="#9db3c4" stroke-width="0.9"/>
<path transform="translate(655.52,166.6)" d="M-4.4,3.6 C-7.3,3.6 -7.3,-0.3 -4.7,-0.6 C-4.5,-1.9 -3.0,-2.2 -2.4,-1.5 C-1.6,-4.7 3.5,-4.8 3.9,-1.1 C7.3,-1.2 7.4,3.6 4.4,3.6 Z" fill="url(#cg)" stroke="#9db3c4" stroke-width="0.9"/>
<path transform="translate(672.02,171.1)" d="M-4.4,3.6 C-7.3,3.6 -7.3,-0.3 -4.7,-0.6 C-4.5,-1.9 -3.0,-2.2 -2.4,-1.5 C-1.6,-4.7 3.5,-4.8 3.9,-1.1 C7.3,-1.2 7.4,3.6 4.4,3.6 Z" fill="url(#cg)" stroke="#9db3c4" stroke-width="0.9"/>
<path transform="translate(688.52,153.4)" d="M-4.4,3.6 C-7.3,3.6 -7.3,-0.3 -4.7,-0.6 C-4.5,-1.9 -3.0,-2.2 -2.4,-1.5 C-1.6,-4.7 3.5,-4.8 3.9,-1.1 C7.3,-1.2 7.4,3.6 4.4,3.6 Z" fill="url(#cg)" stroke="#9db3c4" stroke-width="0.9"/>
<path transform="translate(705.02,172.9)" d="M-4.4,3.6 C-7.3,3.6 -7.3,-0.3 -4.7,-0.6 C-4.5,-1.9 -3.0,-2.2 -2.4,-1.5 C-1.6,-4.7 3.5,-4.8 3.9,-1.1 C7.3,-1.2 7.4,3.6 4.4,3.6 Z" fill="url(#cg)" stroke="#9db3c4" stroke-width="0.9"/>
<path transform="translate(721.52,177.4)" d="M-4.4,3.6 C-7.3,3.6 -7.3,-0.3 -4.7,-0.6 C-4.5,-1.9 -3.0,-2.2 -2.4,-1.5 C-1.6,-4.7 3.5,-4.8 3.9,-1.1 C7.3,-1.2 7.4,3.6 4.4,3.6 Z" fill="url(#cg)" stroke="#9db3c4" stroke-width="0.9"/><path d="M723.12,178.7 L723.12,181.5M721.91,179.4 L724.34,180.8M724.34,179.4 L721.91,180.8" stroke="#6a6a6a" stroke-width="0.6" fill="none"/>
<path transform="translate(738.02,181.3)" d="M-4.4,3.6 C-7.3,3.6 -7.3,-0.3 -4.7,-0.6 C-4.5,-1.9 -3.0,-2.2 -2.4,-1.5 C-1.6,-4.7 3.5,-4.8 3.9,-1.1 C7.3,-1.2 7.4,3.6 4.4,3.6 Z" fill="url(#cg)" stroke="#9db3c4" stroke-width="0.9"/><path d="M739.62,182.6 L739.62,185.4M738.41,183.3 L740.84,184.7M740.84,183.3 L738.41,184.7" stroke="#6a6a6a" stroke-width="0.6" fill="none"/>
<path transform="translate(754.52,172.8)" d="M-4.4,3.6 C-7.3,3.6 -7.3,-0.3 -4.7,-0.6 C-4.5,-1.9 -3.0,-2.2 -2.4,-1.5 C-1.6,-4.7 3.5,-4.8 3.9,-1.1 C7.3,-1.2 7.4,3.6 4.4,3.6 Z" fill="url(#cg)" stroke="#9db3c4" stroke-width="0.9"/><path d="M756.12,174.1 L756.12,176.9M754.91,174.8 L757.34,176.2M757.34,174.8 L754.91,176.2" stroke="#6a6a6a" stroke-width="0.6" fill="none"/>
<path transform="translate(771.02,183)" d="M-4.4,3.6 C-7.3,3.6 -7.3,-0.3 -4.7,-0.6 C-4.5,-1.9 -3.0,-2.2 -2.4,-1.5 C-1.6,-4.7 3.5,-4.8 3.9,-1.1 C7.3,-1.2 7.4,3.6 4.4,3.6 Z" fill="url(#cg)" stroke="#9db3c4" stroke-width="0.9"/><path d="M772.62,184.3 L772.62,187.1M771.41,185 L773.84,186.4M773.84,185 L771.41,186.4" stroke="#6a6a6a" stroke-width="0.6" fill="none"/>
<path transform="translate(787.52,183.9)" d="M-4.4,3.6 C-7.3,3.6 -7.3,-0.3 -4.7,-0.6 C-4.5,-1.9 -3.0,-2.2 -2.4,-1.5 C-1.6,-4.7 3.5,-4.8 3.9,-1.1 C7.3,-1.2 7.4,3.6 4.4,3.6 Z" fill="url(#cg)" stroke="#9db3c4" stroke-width="0.9"/>
<path transform="translate(804.02,193.1)" d="M-4.4,3.6 C-7.3,3.6 -7.3,-0.3 -4.7,-0.6 C-4.5,-1.9 -3.0,-2.2 -2.4,-1.5 C-1.6,-4.7 3.5,-4.8 3.9,-1.1 C7.3,-1.2 7.4,3.6 4.4,3.6 Z" fill="url(#cg)" stroke="#9db3c4" stroke-width="0.9"/>
<path transform="translate(820.52,177.1)" d="M-4.4,3.6 C-7.3,3.6 -7.3,-0.3 -4.7,-0.6 C-4.5,-1.9 -3.0,-2.2 -2.4,-1.5 C-1.6,-4.7 3.5,-4.8 3.9,-1.1 C7.3,-1.2 7.4,3.6 4.4,3.6 Z" fill="url(#cg)" stroke="#9db3c4" stroke-width="0.9"/>
<path transform="translate(837.02,198.2)" d="M-4.4,3.6 C-7.3,3.6 -7.3,-0.3 -4.7,-0.6 C-4.5,-1.9 -3.0,-2.2 -2.4,-1.5 C-1.6,-4.7 3.5,-4.8 3.9,-1.1 C7.3,-1.2 7.4,3.6 4.4,3.6 Z" fill="url(#cg)" stroke="#9db3c4" stroke-width="0.9"/>
<path transform="translate(853.52,206)" d="M-4.4,3.6 C-7.3,3.6 -7.3,-0.3 -4.7,-0.6 C-4.5,-1.9 -3.0,-2.2 -2.4,-1.5 C-1.6,-4.7 3.5,-4.8 3.9,-1.1 C7.3,-1.2 7.4,3.6 4.4,3.6 Z" fill="url(#cg)" stroke="#9db3c4" stroke-width="0.9"/>
<g transform="translate(871.73,218.1)"><circle r="4.3" fill="url(#mg)" stroke="#77756a" stroke-width="0.6"/><path d="M0.5,-4.0 A4.05,4.05 0 0 1 0.5,4.0 A6.2,6.2 0 0 0 0.5,-4.0Z" fill="#e2dfc9"/></g><path transform="translate(869.62,223.1)" d="M-4.4,3.6 C-7.3,3.6 -7.3,-0.3 -4.7,-0.6 C-4.5,-1.9 -3.0,-2.2 -2.4,-1.5 C-1.6,-4.7 3.5,-4.8 3.9,-1.1 C7.3,-1.2 7.4,3.6 4.4,3.6 Z" fill="url(#cg)" stroke="#9db3c4" stroke-width="0.9"/>
<g transform="translate(883.73,175.5) scale(0.92)"><line x1="3.42" y1="0.76" x2="5.76" y2="1.29" stroke="#f39a2b" stroke-width="1"/><line x1="2.75" y1="2.17" x2="4.63" y2="3.66" stroke="#f39a2b" stroke-width="1"/><line x1="1.53" y1="3.15" x2="2.58" y2="5.3" stroke="#f39a2b" stroke-width="1"/><line x1="0.02" y1="3.5" x2="0.03" y2="5.9" stroke="#f39a2b" stroke-width="1"/><line x1="-1.5" y1="3.16" x2="-2.54" y2="5.33" stroke="#f39a2b" stroke-width="1"/><line x1="-2.73" y1="2.19" x2="-4.6" y2="3.7" stroke="#f39a2b" stroke-width="1"/><line x1="-3.41" y1="0.79" x2="-5.75" y2="1.34" stroke="#f39a2b" stroke-width="1"/><line x1="-3.42" y1="-0.76" x2="-5.76" y2="-1.29" stroke="#f39a2b" stroke-width="1"/><line x1="-2.75" y1="-2.17" x2="-4.63" y2="-3.66" stroke="#f39a2b" stroke-width="1"/><line x1="-1.53" y1="-3.15" x2="-2.58" y2="-5.3" stroke="#f39a2b" stroke-width="1"/><line x1="-0.02" y1="-3.5" x2="-0.03" y2="-5.9" stroke="#f39a2b" stroke-width="1"/><line x1="1.5" y1="-3.16" x2="2.54" y2="-5.33" stroke="#f39a2b" stroke-width="1"/><line x1="2.73" y1="-2.19" x2="4.6" y2="-3.7" stroke="#f39a2b" stroke-width="1"/><line x1="3.41" y1="-0.79" x2="5.75" y2="-1.34" stroke="#f39a2b" stroke-width="1"/><circle r="2.8" fill="url(#sg)" stroke="#f5a02a" stroke-width="0.8"/></g><path transform="translate(887.32,179.3)" d="M-4.4,3.6 C-7.3,3.6 -7.3,-0.3 -4.7,-0.6 C-4.5,-1.9 -3.0,-2.2 -2.4,-1.5 C-1.6,-4.7 3.5,-4.8 3.9,-1.1 C7.3,-1.2 7.4,3.6 4.4,3.6 Z" fill="url(#cg)" stroke="#9db3c4" stroke-width="0.9"/>
<g transform="translate(903.32,217.1)"><circle r="4.6" fill="url(#mg)" stroke="#77756a" stroke-width="0.6"/><path d="M0.5,-4.0 A4.05,4.05 0 0 1 0.5,4.0 A6.2,6.2 0 0 0 0.5,-4.0Z" fill="#e2dfc9"/></g>
<g transform="translate(919.82,225.4)"><circle r="4.6" fill="url(#mg)" stroke="#77756a" stroke-width="0.6"/><path d="M0.5,-4.0 A4.05,4.05 0 0 1 0.5,4.0 A6.2,6.2 0 0 0 0.5,-4.0Z" fill="#e2dfc9"/></g>
<g transform="translate(937.73,233.2)"><circle r="4.3" fill="url(#mg)" stroke="#77756a" stroke-width="0.6"/><path d="M0.5,-4.0 A4.05,4.05 0 0 1 0.5,4.0 A6.2,6.2 0 0 0 0.5,-4.0Z" fill="#e2dfc9"/></g><path transform="translate(935.62,238.2)" d="M-4.4,3.6 C-7.3,3.6 -7.3,-0.3 -4.7,-0.6 C-4.5,-1.9 -3.0,-2.2 -2.4,-1.5 C-1.6,-4.7 3.5,-4.8 3.9,-1.1 C7.3,-1.2 7.4,3.6 4.4,3.6 Z" fill="url(#cg)" stroke="#9db3c4" stroke-width="0.9"/>
<g transform="translate(952.92,185.9) scale(1)"><line x1="3.42" y1="0.76" x2="5.76" y2="1.29" stroke="#f39a2b" stroke-width="1"/><line x1="2.75" y1="2.17" x2="4.63" y2="3.66" stroke="#f39a2b" stroke-width="1"/><line x1="1.53" y1="3.15" x2="2.58" y2="5.3" stroke="#f39a2b" stroke-width="1"/><line x1="0.02" y1="3.5" x2="0.03" y2="5.9" stroke="#f39a2b" stroke-width="1"/><line x1="-1.5" y1="3.16" x2="-2.54" y2="5.33" stroke="#f39a2b" stroke-width="1"/><line x1="-2.73" y1="2.19" x2="-4.6" y2="3.7" stroke="#f39a2b" stroke-width="1"/><line x1="-3.41" y1="0.79" x2="-5.75" y2="1.34" stroke="#f39a2b" stroke-width="1"/><line x1="-3.42" y1="-0.76" x2="-5.76" y2="-1.29" stroke="#f39a2b" stroke-width="1"/><line x1="-2.75" y1="-2.17" x2="-4.63" y2="-3.66" stroke="#f39a2b" stroke-width="1"/><line x1="-1.53" y1="-3.15" x2="-2.58" y2="-5.3" stroke="#f39a2b" stroke-width="1"/><line x1="-0.02" y1="-3.5" x2="-0.03" y2="-5.9" stroke="#f39a2b" stroke-width="1"/><line x1="1.5" y1="-3.16" x2="2.54" y2="-5.33" stroke="#f39a2b" stroke-width="1"/><line x1="2.73" y1="-2.19" x2="4.6" y2="-3.7" stroke="#f39a2b" stroke-width="1"/><line x1="3.41" y1="-0.79" x2="5.75" y2="-1.34" stroke="#f39a2b" stroke-width="1"/><circle r="2.8" fill="url(#sg)" stroke="#f5a02a" stroke-width="0.8"/></g>
<g transform="translate(969.32,227.3)"><circle r="4.6" fill="url(#mg)" stroke="#77756a" stroke-width="0.6"/><path d="M0.5,-4.0 A4.05,4.05 0 0 1 0.5,4.0 A6.2,6.2 0 0 0 0.5,-4.0Z" fill="#e2dfc9"/></g>
<g transform="translate(987.23,236.25)"><circle r="4.3" fill="url(#mg)" stroke="#77756a" stroke-width="0.6"/><path d="M0.5,-4.0 A4.05,4.05 0 0 1 0.5,4.0 A6.2,6.2 0 0 0 0.5,-4.0Z" fill="#e2dfc9"/></g><path transform="translate(985.12,241.25)" d="M-4.4,3.6 C-7.3,3.6 -7.3,-0.3 -4.7,-0.6 C-4.5,-1.9 -3.0,-2.2 -2.4,-1.5 C-1.6,-4.7 3.5,-4.8 3.9,-1.1 C7.3,-1.2 7.4,3.6 4.4,3.6 Z" fill="url(#cg)" stroke="#9db3c4" stroke-width="0.9"/>
<g transform="translate(1003.73,250)"><circle r="4.3" fill="url(#mg)" stroke="#77756a" stroke-width="0.6"/><path d="M0.5,-4.0 A4.05,4.05 0 0 1 0.5,4.0 A6.2,6.2 0 0 0 0.5,-4.0Z" fill="#e2dfc9"/></g><path transform="translate(1001.62,255)" d="M-4.4,3.6 C-7.3,3.6 -7.3,-0.3 -4.7,-0.6 C-4.5,-1.9 -3.0,-2.2 -2.4,-1.5 C-1.6,-4.7 3.5,-4.8 3.9,-1.1 C7.3,-1.2 7.4,3.6 4.4,3.6 Z" fill="url(#cg)" stroke="#9db3c4" stroke-width="0.9"/>
<g transform="translate(36,324.7) rotate(28) scale(0.7)"><path d="M0,8 L0,-10 M0,-8.6 L4,-8.6" fill="none" stroke="#000" stroke-width="1.75" stroke-linejoin="miter"/><path d="M-2.6,5.6 L0,11 L2.6,5.6 Z" fill="#000"/></g>
<g transform="translate(60.75,324.7) rotate(-3) scale(0.7)"><path d="M0,8 L0,-10 M0,-8.6 L4,-8.6" fill="none" stroke="#000" stroke-width="1.75" stroke-linejoin="miter"/><path d="M-2.6,5.6 L0,11 L2.6,5.6 Z" fill="#000"/></g>
<g transform="translate(85.5,324.7) rotate(98) scale(0.7)"><path d="M0,8 L0,-10 M0,-8.6 L4,-8.6" fill="none" stroke="#000" stroke-width="1.75" stroke-linejoin="miter"/><path d="M-2.6,5.6 L0,11 L2.6,5.6 Z" fill="#000"/></g>
<g transform="translate(110.25,324.7) rotate(114) scale(0.7)"><path d="M0,8 L0,-10 M0,-8.6 L4,-8.6" fill="none" stroke="#000" stroke-width="1.75" stroke-linejoin="miter"/><path d="M-2.6,5.6 L0,11 L2.6,5.6 Z" fill="#000"/></g>
<g transform="translate(135,324.7) rotate(167) scale(0.7)"><path d="M0,8 L0,-10 M0,-8.6 L4,-8.6" fill="none" stroke="#000" stroke-width="1.75" stroke-linejoin="miter"/><path d="M-2.6,5.6 L0,11 L2.6,5.6 Z" fill="#000"/></g>
<g transform="translate(159.75,324.7) rotate(149) scale(0.7)"><path d="M0,8 L0,-10 L7,-10" fill="none" stroke="#000" stroke-width="1.75" stroke-linejoin="miter"/><path d="M-2.6,5.6 L0,11 L2.6,5.6 Z" fill="#000"/></g>
<g transform="translate(184.5,324.7) rotate(158) scale(0.7)"><path d="M0,8 L0,-10 L7,-10 M0,-6.6 L4,-6.6" fill="none" stroke="#000" stroke-width="1.75" stroke-linejoin="miter"/><path d="M-2.6,5.6 L0,11 L2.6,5.6 Z" fill="#000"/></g>
<g transform="translate(209.25,324.7) rotate(180) scale(0.7)"><path d="M0,8 L0,-10 L7,-10 M0,-6.6 L4,-6.6" fill="none" stroke="#000" stroke-width="1.75" stroke-linejoin="miter"/><path d="M-2.6,5.6 L0,11 L2.6,5.6 Z" fill="#000"/></g>
<g transform="translate(234,324.7) rotate(-38) scale(0.7)"><path d="M0,8 L0,-10 M0,-8.6 L4,-8.6" fill="none" stroke="#000" stroke-width="1.75" stroke-linejoin="miter"/><path d="M-2.6,5.6 L0,11 L2.6,5.6 Z" fill="#000"/></g>
<g transform="translate(258.75,324.7) rotate(75) scale(0.7)"><path d="M0,8 L0,-10 L7,-10" fill="none" stroke="#000" stroke-width="1.75" stroke-linejoin="miter"/><path d="M-2.6,5.6 L0,11 L2.6,5.6 Z" fill="#000"/></g>
<g transform="translate(283.5,324.7) rotate(196) scale(0.7)"><path d="M0,8 L0,-10 L7,-10 M0,-6.6 L7,-6.6 M0,-3.4 L4,-3.4" fill="none" stroke="#000" stroke-width="1.75" stroke-linejoin="miter"/><path d="M-2.6,5.6 L0,11 L2.6,5.6 Z" fill="#000"/></g>
<g transform="translate(308.25,324.7) rotate(-26) scale(0.7)"><path d="M0,8 L0,-10 L7,-10" fill="none" stroke="#000" stroke-width="1.75" stroke-linejoin="miter"/><path d="M-2.6,5.6 L0,11 L2.6,5.6 Z" fill="#000"/></g>
<g transform="translate(333,324.7) rotate(-43) scale(0.7)"><path d="M0,8 L0,-10 L7,-10 M0,-6.6 L4,-6.6" fill="none" stroke="#000" stroke-width="1.75" stroke-linejoin="miter"/><path d="M-2.6,5.6 L0,11 L2.6,5.6 Z" fill="#000"/></g>
<g transform="translate(357.75,324.7) rotate(-77) scale(0.7)"><path d="M0,8 L0,-10 L7,-10 M0,-6.6 L7,-6.6 M0,-3.4 L4,-3.4" fill="none" stroke="#000" stroke-width="1.75" stroke-linejoin="miter"/><path d="M-2.6,5.6 L0,11 L2.6,5.6 Z" fill="#000"/></g>
<g transform="translate(382.5,324.7) rotate(30) scale(0.7)"><path d="M0,8 L0,-10" fill="none" stroke="#000" stroke-width="1.75" stroke-linejoin="miter"/><path d="M-2.6,5.6 L0,11 L2.6,5.6 Z" fill="#000"/></g>
<g transform="translate(407.25,324.7) rotate(103) scale(0.7)"><path d="M0,8 L0,-10 M0,-8.6 L4,-8.6" fill="none" stroke="#000" stroke-width="1.75" stroke-linejoin="miter"/><path d="M-2.6,5.6 L0,11 L2.6,5.6 Z" fill="#000"/></g>
<g transform="translate(432,324.7) rotate(-42) scale(0.7)"><path d="M0,8 L0,-10 M0,-8.6 L4,-8.6" fill="none" stroke="#000" stroke-width="1.75" stroke-linejoin="miter"/><path d="M-2.6,5.6 L0,11 L2.6,5.6 Z" fill="#000"/></g>
<g transform="translate(456.75,324.7) rotate(136) scale(0.7)"><path d="M0,8 L0,-10 M0,-8.6 L4,-8.6" fill="none" stroke="#000" stroke-width="1.75" stroke-linejoin="miter"/><path d="M-2.6,5.6 L0,11 L2.6,5.6 Z" fill="#000"/></g>
<g transform="translate(481.5,324.7) rotate(114) scale(0.7)"><path d="M0,8 L0,-10 M0,-8.6 L4,-8.6" fill="none" stroke="#000" stroke-width="1.75" stroke-linejoin="miter"/><path d="M-2.6,5.6 L0,11 L2.6,5.6 Z" fill="#000"/></g>
<g transform="translate(506.25,324.7) rotate(38) scale(0.7)"><path d="M0,8 L0,-10 M0,-8.6 L4,-8.6" fill="none" stroke="#000" stroke-width="1.75" stroke-linejoin="miter"/><path d="M-2.6,5.6 L0,11 L2.6,5.6 Z" fill="#000"/></g>
<g transform="translate(531,324.7) rotate(-27) scale(0.7)"><path d="M0,8 L0,-10 L7,-10 M0,-6.6 L4,-6.6" fill="none" stroke="#000" stroke-width="1.75" stroke-linejoin="miter"/><path d="M-2.6,5.6 L0,11 L2.6,5.6 Z" fill="#000"/></g>
<g transform="translate(555.75,324.7) rotate(-90) scale(0.7)"><path d="M0,8 L0,-10 L7,-10" fill="none" stroke="#000" stroke-width="1.75" stroke-linejoin="miter"/><path d="M-2.6,5.6 L0,11 L2.6,5.6 Z" fill="#000"/></g>
<g transform="translate(580.5,324.7) rotate(-105) scale(0.7)"><path d="M0,8 L0,-10" fill="none" stroke="#000" stroke-width="1.75" stroke-linejoin="miter"/><path d="M-2.6,5.6 L0,11 L2.6,5.6 Z" fill="#000"/></g>
<g transform="translate(605.25,324.7) rotate(121) scale(0.7)"><path d="M0,8 L0,-10 M0,-8.6 L4,-8.6" fill="none" stroke="#000" stroke-width="1.75" stroke-linejoin="miter"/><path d="M-2.6,5.6 L0,11 L2.6,5.6 Z" fill="#000"/></g>
<g transform="translate(630,324.7) rotate(18) scale(0.7)"><path d="M0,8 L0,-10 M0,-8.6 L4,-8.6" fill="none" stroke="#000" stroke-width="1.75" stroke-linejoin="miter"/><path d="M-2.6,5.6 L0,11 L2.6,5.6 Z" fill="#000"/></g>
<g transform="translate(654.75,324.7) rotate(-6) scale(0.7)"><path d="M0,8 L0,-10 M0,-8.6 L4,-8.6" fill="none" stroke="#000" stroke-width="1.75" stroke-linejoin="miter"/><path d="M-2.6,5.6 L0,11 L2.6,5.6 Z" fill="#000"/></g>
<g transform="translate(679.5,324.7) rotate(-3) scale(0.7)"><path d="M0,8 L0,-10 L7,-10" fill="none" stroke="#000" stroke-width="1.75" stroke-linejoin="miter"/><path d="M-2.6,5.6 L0,11 L2.6,5.6 Z" fill="#000"/></g>
<g transform="translate(704.25,324.7) rotate(14) scale(0.7)"><path d="M0,8 L0,-10 L7,-10" fill="none" stroke="#000" stroke-width="1.75" stroke-linejoin="miter"/><path d="M-2.6,5.6 L0,11 L2.6,5.6 Z" fill="#000"/></g>
<g transform="translate(729,324.7) rotate(22) scale(0.7)"><path d="M0,8 L0,-10 L7,-10" fill="none" stroke="#000" stroke-width="1.75" stroke-linejoin="miter"/><path d="M-2.6,5.6 L0,11 L2.6,5.6 Z" fill="#000"/></g>
<g transform="translate(753.75,324.7) rotate(19) scale(0.7)"><path d="M0,8 L0,-10 L7,-10" fill="none" stroke="#000" stroke-width="1.75" stroke-linejoin="miter"/><path d="M-2.6,5.6 L0,11 L2.6,5.6 Z" fill="#000"/></g>
<g transform="translate(778.5,324.7) rotate(20) scale(0.7)"><path d="M0,8 L0,-10 L7,-10" fill="none" stroke="#000" stroke-width="1.75" stroke-linejoin="miter"/><path d="M-2.6,5.6 L0,11 L2.6,5.6 Z" fill="#000"/></g>
<g transform="translate(803.25,324.7) rotate(55) scale(0.7)"><path d="M0,8 L0,-10 M0,-8.6 L4,-8.6" fill="none" stroke="#000" stroke-width="1.75" stroke-linejoin="miter"/><path d="M-2.6,5.6 L0,11 L2.6,5.6 Z" fill="#000"/></g>
<g transform="translate(828,324.7) rotate(97) scale(0.7)"><path d="M0,8 L0,-10 M0,-8.6 L4,-8.6" fill="none" stroke="#000" stroke-width="1.75" stroke-linejoin="miter"/><path d="M-2.6,5.6 L0,11 L2.6,5.6 Z" fill="#000"/></g>
<g transform="translate(852.75,324.7) rotate(78) scale(0.7)"><path d="M0,8 L0,-10" fill="none" stroke="#000" stroke-width="1.75" stroke-linejoin="miter"/><path d="M-2.6,5.6 L0,11 L2.6,5.6 Z" fill="#000"/></g>
<g transform="translate(877.5,324.7) rotate(51) scale(0.7)"><path d="M0,8 L0,-10 M0,-8.6 L4,-8.6" fill="none" stroke="#000" stroke-width="1.75" stroke-linejoin="miter"/><path d="M-2.6,5.6 L0,11 L2.6,5.6 Z" fill="#000"/></g>
<g transform="translate(902.25,324.7) rotate(49) scale(0.7)"><path d="M0,8 L0,-10 M0,-8.6 L4,-8.6" fill="none" stroke="#000" stroke-width="1.75" stroke-linejoin="miter"/><path d="M-2.6,5.6 L0,11 L2.6,5.6 Z" fill="#000"/></g>
<g transform="translate(927,324.7) rotate(49) scale(0.7)"><path d="M0,8 L0,-10 M0,-8.6 L4,-8.6" fill="none" stroke="#000" stroke-width="1.75" stroke-linejoin="miter"/><path d="M-2.6,5.6 L0,11 L2.6,5.6 Z" fill="#000"/></g>
<g transform="translate(951.75,324.7) rotate(92) scale(0.7)"><path d="M0,8 L0,-10 M0,-8.6 L4,-8.6" fill="none" stroke="#000" stroke-width="1.75" stroke-linejoin="miter"/><path d="M-2.6,5.6 L0,11 L2.6,5.6 Z" fill="#000"/></g>
<g transform="translate(976.5,324.7) rotate(82) scale(0.7)"><path d="M0,8 L0,-10" fill="none" stroke="#000" stroke-width="1.75" stroke-linejoin="miter"/><path d="M-2.6,5.6 L0,11 L2.6,5.6 Z" fill="#000"/></g>
<g transform="translate(1001.25,324.7) rotate(161) scale(0.7)"><path d="M0,8 L0,-10" fill="none" stroke="#000" stroke-width="1.75" stroke-linejoin="miter"/><path d="M-2.6,5.6 L0,11 L2.6,5.6 Z" fill="#000"/></g>
<text x="24.1" y="103.9" text-anchor="end" font-size="7.8" fill="#707070">10°</text>
<text x="24.1" y="139.2" text-anchor="end" font-size="7.8" fill="#707070">5°</text>
<text x="24.1" y="174.5" text-anchor="end" font-size="7.8" fill="#707070">0°</text>
<text x="24.1" y="245.1" text-anchor="end" font-size="7.8" fill="#707070">−10°</text>
<text x="24.1" y="209.8" text-anchor="end" font-size="7.8" fill="#707070">−5°</text>
<text x="24.1" y="280.4" text-anchor="end" font-size="7.8" fill="#707070">−15°</text>
<text x="24.1" y="315.7" text-anchor="end" font-size="7.8" fill="#707070">−20°</text>
<text x="39.96" y="348.3" text-anchor="middle" font-size="8.1" fill="#5e5e5e">18</text>
<text x="56.45" y="348.3" text-anchor="middle" font-size="8.1" fill="#5e5e5e">00</text>
<text x="72.95" y="348.3" text-anchor="middle" font-size="8.1" fill="#5e5e5e">06</text>
<text x="89.44" y="348.3" text-anchor="middle" font-size="8.1" fill="#5e5e5e">12</text>
<text x="105.93" y="348.3" text-anchor="middle" font-size="8.1" fill="#5e5e5e">18</text>
<text x="122.42" y="348.3" text-anchor="middle" font-size="8.1" fill="#5e5e5e">00</text>
<text x="138.92" y="348.3" text-anchor="middle" font-size="8.1" fill="#5e5e5e">06</text>
<text x="155.41" y="348.3" text-anchor="middle" font-size="8.1" fill="#5e5e5e">12</text>
<text x="171.9" y="348.3" text-anchor="middle" font-size="8.1" fill="#5e5e5e">18</text>
<text x="188.39" y="348.3" text-anchor="middle" font-size="8.1" fill="#5e5e5e">00</text>
<text x="204.89" y="348.3" text-anchor="middle" font-size="8.1" fill="#5e5e5e">06</text>
<text x="221.38" y="348.3" text-anchor="middle" font-size="8.1" fill="#5e5e5e">12</text>
<text x="237.87" y="348.3" text-anchor="middle" font-size="8.1" fill="#5e5e5e">18</text>
<text x="254.36" y="348.3" text-anchor="middle" font-size="8.1" fill="#5e5e5e">00</text>
<text x="270.86" y="348.3" text-anchor="middle" font-size="8.1" fill="#5e5e5e">06</text>
<text x="287.35" y="348.3" text-anchor="middle" font-size="8.1" fill="#5e5e5e">12</text>
<text x="303.84" y="348.3" text-anchor="middle" font-size="8.1" fill="#5e5e5e">18</text>
<text x="320.33" y="348.3" text-anchor="middle" font-size="8.1" fill="#5e5e5e">00</text>
<text x="336.83" y="348.3" text-anchor="middle" font-size="8.1" fill="#5e5e5e">06</text>
<text x="353.32" y="348.3" text-anchor="middle" font-size="8.1" fill="#5e5e5e">12</text>
<text x="369.81" y="348.3" text-anchor="middle" font-size="8.1" fill="#5e5e5e">18</text>
<text x="386.3" y="348.3" text-anchor="middle" font-size="8.1" fill="#5e5e5e">00</text>
<text x="402.8" y="348.3" text-anchor="middle" font-size="8.1" fill="#5e5e5e">06</text>
<text x="419.29" y="348.3" text-anchor="middle" font-size="8.1" fill="#5e5e5e">12</text>
<text x="435.78" y="348.3" text-anchor="middle" font-size="8.1" fill="#5e5e5e">18</text>
<text x="452.27" y="348.3" text-anchor="middle" font-size="8.1" fill="#5e5e5e">00</text>
<text x="468.77" y="348.3" text-anchor="middle" font-size="8.1" fill="#5e5e5e">06</text>
<text x="485.26" y="348.3" text-anchor="middle" font-size="8.1" fill="#5e5e5e">12</text>
<text x="501.75" y="348.3" text-anchor="middle" font-size="8.1" fill="#5e5e5e">18</text>
<text x="518.24" y="348.3" text-anchor="middle" font-size="8.1" fill="#5e5e5e">00</text>
<text x="534.74" y="348.3" text-anchor="middle" font-size="8.1" fill="#5e5e5e">06</text>
<text x="551.23" y="348.3" text-anchor="middle" font-size="8.1" fill="#5e5e5e">12</text>
<text x="567.72" y="348.3" text-anchor="middle" font-size="8.1" fill="#5e5e5e">18</text>
<text x="584.21" y="348.3" text-anchor="middle" font-size="8.1" fill="#5e5e5e">00</text>
<text x="600.7" y="348.3" text-anchor="middle" font-size="8.1" fill="#5e5e5e">06</text>
<text x="617.2" y="348.3" text-anchor="middle" font-size="8.1" fill="#5e5e5e">12</text>
<text x="633.69" y="348.3" text-anchor="middle" font-size="8.1" fill="#5e5e5e">18</text>
<text x="650.18" y="348.3" text-anchor="middle" font-size="8.1" fill="#5e5e5e">00</text>
<text x="666.67" y="348.3" text-anchor="middle" font-size="8.1" fill="#5e5e5e">06</text>
<text x="683.17" y="348.3" text-anchor="middle" font-size="8.1" fill="#5e5e5e">12</text>
<text x="699.66" y="348.3" text-anchor="middle" font-size="8.1" fill="#5e5e5e">18</text>
<text x="716.15" y="348.3" text-anchor="middle" font-size="8.1" fill="#5e5e5e">00</text>
<text x="732.64" y="348.3" text-anchor="middle" font-size="8.1" fill="#5e5e5e">06</text>
<text x="749.14" y="348.3" text-anchor="middle" font-size="8.1" fill="#5e5e5e">12</text>
<text x="765.63" y="348.3" text-anchor="middle" font-size="8.1" fill="#5e5e5e">18</text>
<text x="782.12" y="348.3" text-anchor="middle" font-size="8.1" fill="#5e5e5e">00</text>
<text x="798.61" y="348.3" text-anchor="middle" font-size="8.1" fill="#5e5e5e">06</text>
<text x="815.11" y="348.3" text-anchor="middle" font-size="8.1" fill="#5e5e5e">12</text>
<text x="831.6" y="348.3" text-anchor="middle" font-size="8.1" fill="#5e5e5e">18</text>
<text x="848.09" y="348.3" text-anchor="middle" font-size="8.1" fill="#5e5e5e">00</text>
<text x="864.58" y="348.3" text-anchor="middle" font-size="8.1" fill="#5e5e5e">06</text>
<text x="881.08" y="348.3" text-anchor="middle" font-size="8.1" fill="#5e5e5e">12</text>
<text x="897.57" y="348.3" text-anchor="middle" font-size="8.1" fill="#5e5e5e">18</text>
<text x="914.06" y="348.3" text-anchor="middle" font-size="8.1" fill="#5e5e5e">00</text>
<text x="930.55" y="348.3" text-anchor="middle" font-size="8.1" fill="#5e5e5e">06</text>
<text x="947.05" y="348.3" text-anchor="middle" font-size="8.1" fill="#5e5e5e">12</text>
<text x="963.54" y="348.3" text-anchor="middle" font-size="8.1" fill="#5e5e5e">18</text>
<text x="980.03" y="348.3" text-anchor="middle" font-size="8.1" fill="#5e5e5e">00</text>
<text x="996.52" y="348.3" text-anchor="middle" font-size="8.1" fill="#5e5e5e">06</text>
</g>
<g id="chart2">
<text x="531" y="369.5" text-anchor="middle" font-size="11.3" fill="#444">GFS Čoka (RS) 46N, 20.25E</text>
<text x="432" y="378.8" font-size="9.45" fill="#555">Init: Thu, 08Dec2022 12Z</text>
<g transform="translate(551.4,382.4)" stroke="#1a1a1a" fill="none" stroke-width="1" stroke-linecap="butt"><line x1="-6.6" y1="0" x2="6.6" y2="0" stroke-width="1.2"/><path d="M-2.6,-0.5 A2.6,2.6 0 0 1 2.6,-0.5 Z" fill="#1a1a1a" stroke="none"/><line x1="-3.38" y1="-1.63" x2="-5.64" y2="-2.45"/><line x1="-2.06" y1="-3.35" x2="-3.44" y2="-5.31"/><line x1="0" y1="-4" x2="0" y2="-6.4"/><line x1="2.06" y1="-3.35" x2="3.44" y2="-5.31"/><line x1="3.38" y1="-1.63" x2="5.64" y2="-2.45"/><path d="M0,-7.6 V-10.6" stroke-width="1.2"/><path d="M-1.8,-10 L0,-12.6 L1.8,-10Z" fill="#1a1a1a" stroke="none"/></g>
<text x="561.6" y="378.8" font-size="9.45" fill="#555">07:11</text>
<g transform="translate(594.9,382.4)" stroke="#1a1a1a" fill="none" stroke-width="1" stroke-linecap="butt"><line x1="-6.6" y1="0" x2="6.6" y2="0" stroke-width="1.2"/><path d="M-2.6,-0.5 A2.6,2.6 0 0 1 2.6,-0.5 Z" fill="#1a1a1a" stroke="none"/><line x1="-3.38" y1="-1.63" x2="-5.64" y2="-2.45"/><line x1="-2.06" y1="-3.35" x2="-3.44" y2="-5.31"/><line x1="0" y1="-4" x2="0" y2="-6.4"/><line x1="2.06" y1="-3.35" x2="3.44" y2="-5.31"/><line x1="3.38" y1="-1.63" x2="5.64" y2="-2.45"/><path d="M0,-12.4 V-9.6" stroke-width="1.2"/><path d="M-1.8,-10 L0,-7.4 L1.8,-10Z" fill="#1a1a1a" stroke="none"/></g>
<text x="605.8" y="378.8" font-size="9.45" fill="#555">15:49</text>
<line x1="63.8" y1="406.4" x2="63.8" y2="420.4" stroke="#c9d2de" stroke-width="0.9"/>
<text x="66.4" y="404" font-size="8.6" fill="#666"><tspan font-weight="bold" fill="#4a4a4a">Fri</tspan> Dec 9</text>
<line x1="129.77" y1="406.4" x2="129.77" y2="420.4" stroke="#c9d2de" stroke-width="0.9"/>
<text x="132.37" y="404" font-size="8.6" fill="#666"><tspan font-weight="bold" fill="#4a4a4a">Sat</tspan> Dec 10</text>
<line x1="195.74" y1="406.4" x2="195.74" y2="420.4" stroke="#c9d2de" stroke-width="0.9"/>
<text x="198.34" y="404" font-size="8.6" fill="#666"><tspan font-weight="bold" fill="#4a4a4a">Sun</tspan> Dec 11</text>
<line x1="261.71" y1="406.4" x2="261.71" y2="420.4" stroke="#c9d2de" stroke-width="0.9"/>
<text x="264.31" y="404" font-size="8.6" fill="#666"><tspan font-weight="bold" fill="#4a4a4a">Mon</tspan> Dec 12</text>
<line x1="327.68" y1="406.4" x2="327.68" y2="420.4" stroke="#c9d2de" stroke-width="0.9"/>
<text x="330.28" y="404" font-size="8.6" fill="#666"><tspan font-weight="bold" fill="#4a4a4a">Tue</tspan> Dec 13</text>
<line x1="393.65" y1="406.4" x2="393.65" y2="420.4" stroke="#c9d2de" stroke-width="0.9"/>
<text x="396.25" y="404" font-size="8.6" fill="#666"><tspan font-weight="bold" fill="#4a4a4a">Wed</tspan> Dec 14</text>
<line x1="459.62" y1="406.4" x2="459.62" y2="420.4" stroke="#c9d2de" stroke-width="0.9"/>
<text x="462.22" y="404" font-size="8.6" fill="#666"><tspan font-weight="bold" fill="#4a4a4a">Thu</tspan> Dec 15</text>
<line x1="525.59" y1="406.4" x2="525.59" y2="420.4" stroke="#c9d2de" stroke-width="0.9"/>
<text x="528.19" y="404" font-size="8.6" fill="#666"><tspan font-weight="bold" fill="#4a4a4a">Fri</tspan> Dec 16</text>
<line x1="591.56" y1="406.4" x2="591.56" y2="420.4" stroke="#c9d2de" stroke-width="0.9"/>
<text x="594.16" y="404" font-size="8.6" fill="#666"><tspan font-weight="bold" fill="#4a4a4a">Sat</tspan> Dec 17</text>
<line x1="657.53" y1="406.4" x2="657.53" y2="420.4" stroke="#c9d2de" stroke-width="0.9"/>
<text x="660.13" y="404" font-size="8.6" fill="#666"><tspan font-weight="bold" fill="#4a4a4a">Sun</tspan> Dec 18</text>
<line x1="723.5" y1="406.4" x2="723.5" y2="420.4" stroke="#c9d2de" stroke-width="0.9"/>
<text x="726.1" y="404" font-size="8.6" fill="#666"><tspan font-weight="bold" fill="#4a4a4a">Mon</tspan> Dec 19</text>
<line x1="789.47" y1="406.4" x2="789.47" y2="420.4" stroke="#c9d2de" stroke-width="0.9"/>
<text x="792.07" y="404" font-size="8.6" fill="#666"><tspan font-weight="bold" fill="#4a4a4a">Tue</tspan> Dec 20</text>
<line x1="855.44" y1="406.4" x2="855.44" y2="420.4" stroke="#c9d2de" stroke-width="0.9"/>
<text x="858.04" y="404" font-size="8.6" fill="#666"><tspan font-weight="bold" fill="#4a4a4a">Wed</tspan> Dec 21</text>
<line x1="921.41" y1="406.4" x2="921.41" y2="420.4" stroke="#c9d2de" stroke-width="0.9"/>
<text x="924.01" y="404" font-size="8.6" fill="#666"><tspan font-weight="bold" fill="#4a4a4a">Thu</tspan> Dec 22</text>
<line x1="987.38" y1="406.4" x2="987.38" y2="420.4" stroke="#c9d2de" stroke-width="0.9"/>
<text x="989.98" y="404" font-size="8.6" fill="#666"><tspan font-weight="bold" fill="#4a4a4a">Fri</tspan> Dec 23</text>
<clipPath id="cp2"><rect x="33.6" y="420.4" width="989.9" height="245"/></clipPath>
<clipPath id="cpa2"><rect x="0" y="390.4" width="1024" height="148.2"/></clipPath>
<clipPath id="cpb2"><rect x="0" y="538.6" width="1024" height="166.8"/></clipPath>
<path d="M36.3,420.4V665.4M39.05,420.4V665.4M41.8,420.4V665.4M44.55,420.4V665.4M47.3,420.4V665.4M50.05,420.4V665.4M52.8,420.4V665.4M55.55,420.4V665.4M58.3,420.4V665.4M61.05,420.4V665.4M63.8,420.4V665.4M66.55,420.4V665.4M69.3,420.4V665.4M72.05,420.4V665.4M74.8,420.4V665.4M77.55,420.4V665.4M80.3,420.4V665.4M83.05,420.4V665.4M85.8,420.4V665.4M88.55,420.4V665.4M91.3,420.4V665.4M94.05,420.4V665.4M96.8,420.4V665.4M99.55,420.4V665.4M102.3,420.4V665.4M105.05,420.4V665.4M107.8,420.4V665.4M110.55,420.4V665.4M113.3,420.4V665.4M116.05,420.4V665.4M118.8,420.4V665.4M121.55,420.4V665.4M124.3,420.4V665.4M127.05,420.4V665.4M129.8,420.4V665.4M132.55,420.4V665.4M135.3,420.4V665.4M138.05,420.4V665.4M140.8,420.4V665.4M143.55,420.4V665.4M146.3,420.4V665.4M149.05,420.4V665.4M151.8,420.4V665.4M154.55,420.4V665.4M157.3,420.4V665.4M160.05,420.4V665.4M162.8,420.4V665.4M165.55,420.4V665.4M168.3,420.4V665.4M171.05,420.4V665.4M173.8,420.4V665.4M176.55,420.4V665.4M179.3,420.4V665.4M182.05,420.4V665.4M184.8,420.4V665.4M187.55,420.4V665.4M190.3,420.4V665.4M193.05,420.4V665.4M195.8,420.4V665.4M198.55,420.4V665.4M201.3,420.4V665.4M204.05,420.4V665.4M206.8,420.4V665.4M209.55,420.4V665.4M212.3,420.4V665.4M215.05,420.4V665.4M217.8,420.4V665.4M220.55,420.4V665.4M223.3,420.4V665.4M226.05,420.4V665.4M228.8,420.4V665.4M231.55,420.4V665.4M234.3,420.4V665.4M237.05,420.4V665.4M239.8,420.4V665.4M242.55,420.4V665.4M245.3,420.4V665.4M248.05,420.4V665.4M250.8,420.4V665.4M253.55,420.4V665.4M256.3,420.4V665.4M259.05,420.4V665.4M261.8,420.4V665.4M264.55,420.4V665.4M267.3,420.4V665.4M270.05,420.4V665.4M272.8,420.4V665.4M275.55,420.4V665.4M278.3,420.4V665.4M281.05,420.4V665.4M283.8,420.4V665.4M286.55,420.4V665.4M289.3,420.4V665.4M292.05,420.4V665.4M294.8,420.4V665.4M297.55,420.4V665.4M300.3,420.4V665.4M303.05,420.4V665.4M305.8,420.4V665.4M308.55,420.4V665.4M311.3,420.4V665.4M314.05,420.4V665.4M316.8,420.4V665.4M319.55,420.4V665.4M322.3,420.4V665.4M325.05,420.4V665.4M327.8,420.4V665.4M330.55,420.4V665.4M333.3,420.4V665.4M336.05,420.4V665.4M338.8,420.4V665.4M341.55,420.4V665.4M344.3,420.4V665.4M347.05,420.4V665.4M349.8,420.4V665.4M352.55,420.4V665.4M355.3,420.4V665.4M358.05,420.4V665.4M360.8,420.4V665.4M363.55,420.4V665.4M366.3,420.4V665.4M369.05,420.4V665.4M371.8,420.4V665.4M374.55,420.4V665.4M377.3,420.4V665.4M380.05,420.4V665.4M382.8,420.4V665.4M385.55,420.4V665.4M388.3,420.4V665.4M391.05,420.4V665.4M393.8,420.4V665.4M396.55,420.4V665.4M399.3,420.4V665.4M402.05,420.4V665.4M404.8,420.4V665.4M407.55,420.4V665.4M410.3,420.4V665.4M413.05,420.4V665.4M415.8,420.4V665.4M418.55,420.4V665.4M421.3,420.4V665.4M424.05,420.4V665.4M426.8,420.4V665.4M429.55,420.4V665.4M432.3,420.4V665.4M435.05,420.4V665.4M437.8,420.4V665.4M440.55,420.4V665.4M443.3,420.4V665.4M446.05,420.4V665.4M448.8,420.4V665.4M451.55,420.4V665.4M454.3,420.4V665.4M457.05,420.4V665.4M459.8,420.4V665.4M462.55,420.4V665.4M465.3,420.4V665.4M468.05,420.4V665.4M470.8,420.4V665.4M473.55,420.4V665.4M476.3,420.4V665.4M479.05,420.4V665.4M481.8,420.4V665.4M484.55,420.4V665.4M487.3,420.4V665.4M490.05,420.4V665.4M492.8,420.4V665.4M495.55,420.4V665.4M498.3,420.4V665.4M501.05,420.4V665.4M503.8,420.4V665.4M506.55,420.4V665.4M509.3,420.4V665.4M512.05,420.4V665.4M514.8,420.4V665.4M517.55,420.4V665.4M520.3,420.4V665.4M523.05,420.4V665.4M525.8,420.4V665.4M528.55,420.4V665.4M531.3,420.4V665.4M534.05,420.4V665.4M536.8,420.4V665.4M539.55,420.4V665.4M542.3,420.4V665.4M545.05,420.4V665.4M547.8,420.4V665.4M550.55,420.4V665.4M553.3,420.4V665.4M556.05,420.4V665.4M558.8,420.4V665.4M561.55,420.4V665.4M564.3,420.4V665.4M567.05,420.4V665.4M569.8,420.4V665.4M572.55,420.4V665.4M575.3,420.4V665.4M578.05,420.4V665.4M580.8,420.4V665.4M583.55,420.4V665.4M586.3,420.4V665.4M589.05,420.4V665.4M591.8,420.4V665.4M594.55,420.4V665.4M597.3,420.4V665.4M600.05,420.4V665.4M602.8,420.4V665.4M605.55,420.4V665.4M608.3,420.4V665.4M611.05,420.4V665.4M613.8,420.4V665.4M616.55,420.4V665.4M619.3,420.4V665.4M622.05,420.4V665.4M624.8,420.4V665.4M627.55,420.4V665.4M630.3,420.4V665.4M633.05,420.4V665.4M635.8,420.4V665.4M638.55,420.4V665.4M641.3,420.4V665.4M644.05,420.4V665.4M646.8,420.4V665.4M649.55,420.4V665.4M652.3,420.4V665.4M655.05,420.4V665.4M657.8,420.4V665.4M660.55,420.4V665.4M663.3,420.4V665.4M666.05,420.4V665.4M668.8,420.4V665.4M671.55,420.4V665.4M674.3,420.4V665.4M677.05,420.4V665.4M679.8,420.4V665.4M682.55,420.4V665.4M685.3,420.4V665.4M688.05,420.4V665.4M690.8,420.4V665.4M693.55,420.4V665.4M696.3,420.4V665.4M699.05,420.4V665.4M701.8,420.4V665.4M704.55,420.4V665.4M707.3,420.4V665.4M710.05,420.4V665.4M712.8,420.4V665.4M715.55,420.4V665.4M718.3,420.4V665.4M721.05,420.4V665.4M723.8,420.4V665.4M726.55,420.4V665.4M729.3,420.4V665.4M732.05,420.4V665.4M734.8,420.4V665.4M737.55,420.4V665.4M740.3,420.4V665.4M743.05,420.4V665.4M745.8,420.4V665.4M748.55,420.4V665.4M751.3,420.4V665.4M754.05,420.4V665.4M756.8,420.4V665.4M759.55,420.4V665.4M762.3,420.4V665.4M765.05,420.4V665.4M767.8,420.4V665.4M770.55,420.4V665.4M773.3,420.4V665.4M776.05,420.4V665.4M778.8,420.4V665.4M781.55,420.4V665.4M784.3,420.4V665.4M787.05,420.4V665.4M789.8,420.4V665.4M792.55,420.4V665.4M795.3,420.4V665.4M798.05,420.4V665.4M800.8,420.4V665.4M803.55,420.4V665.4M806.3,420.4V665.4M809.05,420.4V665.4M811.8,420.4V665.4M814.55,420.4V665.4M817.3,420.4V665.4M820.05,420.4V665.4M822.8,420.4V665.4M825.55,420.4V665.4M828.3,420.4V665.4M831.05,420.4V665.4M833.8,420.4V665.4M836.55,420.4V665.4M839.3,420.4V665.4M842.05,420.4V665.4M844.8,420.4V665.4M847.55,420.4V665.4M850.3,420.4V665.4M853.05,420.4V665.4M855.8,420.4V665.4M858.55,420.4V665.4M861.3,420.4V665.4M864.05,420.4V665.4M866.8,420.4V665.4M869.55,420.4V665.4M872.3,420.4V665.4M875.05,420.4V665.4M877.8,420.4V665.4M880.55,420.4V665.4M883.3,420.4V665.4M886.05,420.4V665.4M888.8,420.4V665.4M891.55,420.4V665.4M894.3,420.4V665.4M897.05,420.4V665.4M899.8,420.4V665.4M902.55,420.4V665.4M905.3,420.4V665.4M908.05,420.4V665.4M910.8,420.4V665.4M913.55,420.4V665.4M916.3,420.4V665.4M919.05,420.4V665.4M921.8,420.4V665.4M924.55,420.4V665.4M927.3,420.4V665.4M930.05,420.4V665.4M932.8,420.4V665.4M935.55,420.4V665.4M938.3,420.4V665.4M941.05,420.4V665.4M943.8,420.4V665.4M946.55,420.4V665.4M949.3,420.4V665.4M952.05,420.4V665.4M954.8,420.4V665.4M957.55,420.4V665.4M960.3,420.4V665.4M963.05,420.4V665.4M965.8,420.4V665.4M968.55,420.4V665.4M971.3,420.4V665.4M974.05,420.4V665.4M976.8,420.4V665.4M979.55,420.4V665.4M982.3,420.4V665.4M985.05,420.4V665.4M987.8,420.4V665.4M990.55,420.4V665.4M993.3,420.4V665.4M996.05,420.4V665.4M998.8,420.4V665.4M1001.55,420.4V665.4M1004.3,420.4V665.4M1007.05,420.4V665.4M1009.8,420.4V665.4M1012.55,420.4V665.4M1015.3,420.4V665.4M1018.05,420.4V665.4M1020.8,420.4V665.4" stroke="#f0f0f1" stroke-width="0.8" fill="none"/>
<path d="M63.8,420.4V665.4M129.77,420.4V665.4M195.74,420.4V665.4M261.71,420.4V665.4M327.68,420.4V665.4M393.65,420.4V665.4M459.62,420.4V665.4M525.59,420.4V665.4M591.56,420.4V665.4M657.53,420.4V665.4M723.5,420.4V665.4M789.47,420.4V665.4M855.44,420.4V665.4M921.41,420.4V665.4M987.38,420.4V665.4" stroke="#e9e9eb" stroke-width="0.9" fill="none"/>
<path d="M33.6,454.2H1023.5M33.6,496.4H1023.5M33.6,580.8H1023.5M33.6,623H1023.5" stroke="#eeeeef" stroke-width="0.9" fill="none"/>
<line x1="33.6" y1="538.6" x2="1023.5" y2="538.6" stroke="#acacac" stroke-width="0.9"/>
<path d="M99.6,665.4h8.25V663.9h-8.25ZM116.1,665.4h8.25V663.9h-8.25ZM124.35,665.4h8.25V622.9h-8.25ZM132.6,665.4h8.25V633.9h-8.25ZM140.85,665.4h8.25V656.4h-8.25ZM149.1,665.4h8.25V641.1h-8.25ZM157.35,665.4h8.25V663.9h-8.25ZM173.85,665.4h8.25V663.9h-8.25ZM182.1,665.4h8.25V651.4h-8.25ZM190.35,665.4h8.25V568.4h-8.25ZM198.6,665.4h8.25V438.5h-8.25ZM206.85,665.4h8.25V572.4h-8.25ZM223.35,665.4h8.25V658.8h-8.25ZM231.6,665.4h8.25V642.9h-8.25ZM256.35,665.4h8.25V664.4h-8.25ZM264.6,665.4h8.25V663.6h-8.25ZM272.85,665.4h8.25V663.9h-8.25ZM281.1,665.4h8.25V664.2h-8.25ZM338.85,665.4h8.25V648.7h-8.25ZM347.1,665.4h8.25V617.1h-8.25ZM355.35,665.4h8.25V641.9h-8.25ZM363.6,665.4h8.25V640.8h-8.25ZM371.85,665.4h8.25V653.7h-8.25ZM380.1,665.4h8.25V660.8h-8.25ZM388.35,665.4h8.25V664.4h-8.25ZM396.6,665.4h8.25V659.9h-8.25ZM404.85,665.4h8.25V664.4h-8.25ZM470.85,665.4h8.25V653.7h-8.25ZM479.1,665.4h8.25V635.4h-8.25ZM487.35,665.4h8.25V601.5h-8.25ZM495.6,665.4h8.25V592.7h-8.25ZM503.85,665.4h8.25V658.8h-8.25ZM512.1,665.4h8.25V663.9h-8.25ZM545.1,665.4h8.25V664.2h-8.25ZM652.35,665.4h8.25V656.6h-8.25ZM660.6,665.4h8.25V664.1h-8.25ZM668.85,665.4h8.25V660.9h-8.25ZM677.1,665.4h8.25V650h-8.25ZM685.35,665.4h8.25V664.2h-8.25ZM710.1,665.4h8.25V663.9h-8.25ZM726.6,665.4h8.25V664.2h-8.25ZM776.1,665.4h8.25V662.2h-8.25ZM792.6,665.4h8.25V664.2h-8.25ZM800.85,665.4h8.25V664.2h-8.25ZM941.1,665.4h8.25V652.1h-8.25ZM949.35,665.4h8.25V608.3h-8.25ZM957.6,665.4h8.25V579.4h-8.25ZM965.85,665.4h8.25V599h-8.25ZM974.1,665.4h8.25V664h-8.25ZM982.35,665.4h8.25V661.9h-8.25Z" fill="#4682b4" clip-path="url(#cp2)"/>
<rect x="33.6" y="420.4" width="989.9" height="245" fill="none" stroke="#ccd2dd" stroke-width="0.9"/>
<path d="M33.6,665.4V687.3M41.85,665.4V687.3M50.1,665.4V687.3M58.35,665.4V687.3M66.6,665.4V687.3M74.85,665.4V687.3M83.1,665.4V687.3M91.35,665.4V687.3M99.6,665.4V687.3M107.85,665.4V687.3M116.1,665.4V687.3M124.35,665.4V687.3M132.6,665.4V687.3M140.85,665.4V687.3M149.1,665.4V687.3M157.35,665.4V687.3M165.6,665.4V687.3M173.85,665.4V687.3M182.1,665.4V687.3M190.35,665.4V687.3M198.6,665.4V687.3M206.85,665.4V687.3M215.1,665.4V687.3M223.35,665.4V687.3M231.6,665.4V687.3M239.85,665.4V687.3M248.1,665.4V687.3M256.35,665.4V687.3M264.6,665.4V687.3M272.85,665.4V687.3M281.1,665.4V687.3M289.35,665.4V687.3M297.6,665.4V687.3M305.85,665.4V687.3M314.1,665.4V687.3M322.35,665.4V687.3M330.6,665.4V687.3M338.85,665.4V687.3M347.1,665.4V687.3M355.35,665.4V687.3M363.6,665.4V687.3M371.85,665.4V687.3M380.1,665.4V687.3M388.35,665.4V687.3M396.6,665.4V687.3M404.85,665.4V687.3M413.1,665.4V687.3M421.35,665.4V687.3M429.6,665.4V687.3M437.85,665.4V687.3M446.1,665.4V687.3M454.35,665.4V687.3M462.6,665.4V687.3M470.85,665.4V687.3M479.1,665.4V687.3M487.35,665.4V687.3M495.6,665.4V687.3M503.85,665.4V687.3M512.1,665.4V687.3M520.35,665.4V687.3M528.6,665.4V687.3M536.85,665.4V687.3M545.1,665.4V687.3M553.35,665.4V687.3M561.6,665.4V687.3M569.85,665.4V687.3M578.1,665.4V687.3M586.35,665.4V687.3M594.6,665.4V687.3M602.85,665.4V687.3M611.1,665.4V687.3M619.35,665.4V687.3M627.6,665.4V687.3M635.85,665.4V687.3M644.1,665.4V687.3M652.35,665.4V687.3M660.6,665.4V687.3M668.85,665.4V687.3M677.1,665.4V687.3M685.35,665.4V687.3M693.6,665.4V687.3M701.85,665.4V687.3M710.1,665.4V687.3M718.35,665.4V687.3M726.6,665.4V687.3M734.85,665.4V687.3M743.1,665.4V687.3M751.35,665.4V687.3M759.6,665.4V687.3M767.85,665.4V687.3M776.1,665.4V687.3M784.35,665.4V687.3M792.6,665.4V687.3M800.85,665.4V687.3M809.1,665.4V687.3M817.35,665.4V687.3M825.6,665.4V687.3M833.85,665.4V687.3M842.1,665.4V687.3M850.35,665.4V687.3M858.6,665.4V687.3M866.85,665.4V687.3M875.1,665.4V687.3M883.35,665.4V687.3M891.6,665.4V687.3M899.85,665.4V687.3M908.1,665.4V687.3M916.35,665.4V687.3M924.6,665.4V687.3M932.85,665.4V687.3M941.1,665.4V687.3M949.35,665.4V687.3M957.6,665.4V687.3M965.85,665.4V687.3M974.1,665.4V687.3M982.35,665.4V687.3M990.6,665.4V687.3M998.85,665.4V687.3M1007.1,665.4V687.3M1015.35,665.4V687.3M1023.6,665.4V687.3" stroke="#d8dade" stroke-width="0.8" fill="none"/>
<path d="M36.3,685.3V688.9M39.05,685.3V688.9M41.8,685.3V688.9M44.55,685.3V688.9M47.3,685.3V688.9M50.05,685.3V688.9M52.8,685.3V688.9M55.55,685.3V688.9M58.3,685.3V688.9M61.05,685.3V688.9M63.8,685.3V688.9M66.55,685.3V688.9M69.3,685.3V688.9M72.05,685.3V688.9M74.8,685.3V688.9M77.55,685.3V688.9M80.3,685.3V688.9M83.05,685.3V688.9M85.8,685.3V688.9M88.55,685.3V688.9M91.3,685.3V688.9M94.05,685.3V688.9M96.8,685.3V688.9M99.55,685.3V688.9M102.3,685.3V688.9M105.05,685.3V688.9M107.8,685.3V688.9M110.55,685.3V688.9M113.3,685.3V688.9M116.05,685.3V688.9M118.8,685.3V688.9M121.55,685.3V688.9M124.3,685.3V688.9M127.05,685.3V688.9M129.8,685.3V688.9M132.55,685.3V688.9M135.3,685.3V688.9M138.05,685.3V688.9M140.8,685.3V688.9M143.55,685.3V688.9M146.3,685.3V688.9M149.05,685.3V688.9M151.8,685.3V688.9M154.55,685.3V688.9M157.3,685.3V688.9M160.05,685.3V688.9M162.8,685.3V688.9M165.55,685.3V688.9M168.3,685.3V688.9M171.05,685.3V688.9M173.8,685.3V688.9M176.55,685.3V688.9M179.3,685.3V688.9M182.05,685.3V688.9M184.8,685.3V688.9M187.55,685.3V688.9M190.3,685.3V688.9M193.05,685.3V688.9M195.8,685.3V688.9M198.55,685.3V688.9M201.3,685.3V688.9M204.05,685.3V688.9M206.8,685.3V688.9M209.55,685.3V688.9M212.3,685.3V688.9M215.05,685.3V688.9M217.8,685.3V688.9M220.55,685.3V688.9M223.3,685.3V688.9M226.05,685.3V688.9M228.8,685.3V688.9M231.55,685.3V688.9M234.3,685.3V688.9M237.05,685.3V688.9M239.8,685.3V688.9M242.55,685.3V688.9M245.3,685.3V688.9M248.05,685.3V688.9M250.8,685.3V688.9M253.55,685.3V688.9M256.3,685.3V688.9M259.05,685.3V688.9M261.8,685.3V688.9M264.55,685.3V688.9M267.3,685.3V688.9M270.05,685.3V688.9M272.8,685.3V688.9M275.55,685.3V688.9M278.3,685.3V688.9M281.05,685.3V688.9M283.8,685.3V688.9M286.55,685.3V688.9M289.3,685.3V688.9M292.05,685.3V688.9M294.8,685.3V688.9M297.55,685.3V688.9M300.3,685.3V688.9M303.05,685.3V688.9M305.8,685.3V688.9M308.55,685.3V688.9M311.3,685.3V688.9M314.05,685.3V688.9M316.8,685.3V688.9M319.55,685.3V688.9M322.3,685.3V688.9M325.05,685.3V688.9M327.8,685.3V688.9M330.55,685.3V688.9M333.3,685.3V688.9M336.05,685.3V688.9M338.8,685.3V688.9M341.55,685.3V688.9M344.3,685.3V688.9M347.05,685.3V688.9M349.8,685.3V688.9M352.55,685.3V688.9M355.3,685.3V688.9M358.05,685.3V688.9M360.8,685.3V688.9M363.55,685.3V688.9M366.3,685.3V688.9M369.05,685.3V688.9M371.8,685.3V688.9M374.55,685.3V688.9M377.3,685.3V688.9M380.05,685.3V688.9M382.8,685.3V688.9M385.55,685.3V688.9M388.3,685.3V688.9M391.05,685.3V688.9M393.8,685.3V688.9M396.55,685.3V688.9M399.3,685.3V688.9M402.05,685.3V688.9M404.8,685.3V688.9M407.55,685.3V688.9M410.3,685.3V688.9M413.05,685.3V688.9M415.8,685.3V688.9M418.55,685.3V688.9M421.3,685.3V688.9M424.05,685.3V688.9M426.8,685.3V688.9M429.55,685.3V688.9M432.3,685.3V688.9M435.05,685.3V688.9M437.8,685.3V688.9M440.55,685.3V688.9M443.3,685.3V688.9M446.05,685.3V688.9M448.8,685.3V688.9M451.55,685.3V688.9M454.3,685.3V688.9M457.05,685.3V688.9M459.8,685.3V688.9M462.55,685.3V688.9M465.3,685.3V688.9M468.05,685.3V688.9M470.8,685.3V688.9M473.55,685.3V688.9M476.3,685.3V688.9M479.05,685.3V688.9M481.8,685.3V688.9M484.55,685.3V688.9M487.3,685.3V688.9M490.05,685.3V688.9M492.8,685.3V688.9M495.55,685.3V688.9M498.3,685.3V688.9M501.05,685.3V688.9M503.8,685.3V688.9M506.55,685.3V688.9M509.3,685.3V688.9M512.05,685.3V688.9M514.8,685.3V688.9M517.55,685.3V688.9M520.3,685.3V688.9M523.05,685.3V688.9M525.8,685.3V688.9M528.55,685.3V688.9M531.3,685.3V688.9M534.05,685.3V688.9M536.8,685.3V688.9M539.55,685.3V688.9M542.3,685.3V688.9M545.05,685.3V688.9M547.8,685.3V688.9M550.55,685.3V688.9M553.3,685.3V688.9M556.05,685.3V688.9M558.8,685.3V688.9M561.55,685.3V688.9M564.3,685.3V688.9M567.05,685.3V688.9M569.8,685.3V688.9M572.55,685.3V688.9M575.3,685.3V688.9M578.05,685.3V688.9M580.8,685.3V688.9M583.55,685.3V688.9M586.3,685.3V688.9M589.05,685.3V688.9M591.8,685.3V688.9M594.55,685.3V688.9M597.3,685.3V688.9M600.05,685.3V688.9M602.8,685.3V688.9M605.55,685.3V688.9M608.3,685.3V688.9M611.05,685.3V688.9M613.8,685.3V688.9M616.55,685.3V688.9M619.3,685.3V688.9M622.05,685.3V688.9M624.8,685.3V688.9M627.55,685.3V688.9M630.3,685.3V688.9M633.05,685.3V688.9M635.8,685.3V688.9M638.55,685.3V688.9M641.3,685.3V688.9M644.05,685.3V688.9M646.8,685.3V688.9M649.55,685.3V688.9M652.3,685.3V688.9M655.05,685.3V688.9M657.8,685.3V688.9M660.55,685.3V688.9M663.3,685.3V688.9M666.05,685.3V688.9M668.8,685.3V688.9M671.55,685.3V688.9M674.3,685.3V688.9M677.05,685.3V688.9M679.8,685.3V688.9M682.55,685.3V688.9M685.3,685.3V688.9M688.05,685.3V688.9M690.8,685.3V688.9M693.55,685.3V688.9M696.3,685.3V688.9M699.05,685.3V688.9M701.8,685.3V688.9M704.55,685.3V688.9M707.3,685.3V688.9M710.05,685.3V688.9M712.8,685.3V688.9M715.55,685.3V688.9M718.3,685.3V688.9M721.05,685.3V688.9M723.8,685.3V688.9M726.55,685.3V688.9M729.3,685.3V688.9M732.05,685.3V688.9M734.8,685.3V688.9M737.55,685.3V688.9M740.3,685.3V688.9M743.05,685.3V688.9M745.8,685.3V688.9M748.55,685.3V688.9M751.3,685.3V688.9M754.05,685.3V688.9M756.8,685.3V688.9M759.55,685.3V688.9M762.3,685.3V688.9M765.05,685.3V688.9M767.8,685.3V688.9M770.55,685.3V688.9M773.3,685.3V688.9M776.05,685.3V688.9M778.8,685.3V688.9M781.55,685.3V688.9M784.3,685.3V688.9M787.05,685.3V688.9M789.8,685.3V688.9M792.55,685.3V688.9M795.3,685.3V688.9M798.05,685.3V688.9M800.8,685.3V688.9M803.55,685.3V688.9M806.3,685.3V688.9M809.05,685.3V688.9M811.8,685.3V688.9M814.55,685.3V688.9M817.3,685.3V688.9M820.05,685.3V688.9M822.8,685.3V688.9M825.55,685.3V688.9M828.3,685.3V688.9M831.05,685.3V688.9M833.8,685.3V688.9M836.55,685.3V688.9M839.3,685.3V688.9M842.05,685.3V688.9M844.8,685.3V688.9M847.55,685.3V688.9M850.3,685.3V688.9M853.05,685.3V688.9M855.8,685.3V688.9M858.55,685.3V688.9M861.3,685.3V688.9M864.05,685.3V688.9M866.8,685.3V688.9M869.55,685.3V688.9M872.3,685.3V688.9M875.05,685.3V688.9M877.8,685.3V688.9M880.55,685.3V688.9M883.3,685.3V688.9M886.05,685.3V688.9M888.8,685.3V688.9M891.55,685.3V688.9M894.3,685.3V688.9M897.05,685.3V688.9M899.8,685.3V688.9M902.55,685.3V688.9M905.3,685.3V688.9M908.05,685.3V688.9M910.8,685.3V688.9M913.55,685.3V688.9M916.3,685.3V688.9M919.05,685.3V688.9M921.8,685.3V688.9M924.55,685.3V688.9M927.3,685.3V688.9M930.05,685.3V688.9M932.8,685.3V688.9M935.55,685.3V688.9M938.3,685.3V688.9M941.05,685.3V688.9M943.8,685.3V688.9M946.55,685.3V688.9M949.3,685.3V688.9M952.05,685.3V688.9M954.8,685.3V688.9M957.55,685.3V688.9M960.3,685.3V688.9M963.05,685.3V688.9M965.8,685.3V688.9M968.55,685.3V688.9M971.3,685.3V688.9M974.05,685.3V688.9M976.8,685.3V688.9M979.55,685.3V688.9M982.3,685.3V688.9M985.05,685.3V688.9M987.8,685.3V688.9M990.55,685.3V688.9M993.3,685.3V688.9M996.05,685.3V688.9M998.8,685.3V688.9M1001.55,685.3V688.9M1004.3,685.3V688.9M1007.05,685.3V688.9M1009.8,685.3V688.9M1012.55,685.3V688.9M1015.3,685.3V688.9M1018.05,685.3V688.9M1020.8,685.3V688.9" stroke="#d5d9e0" stroke-width="0.8" fill="none"/>
<line x1="33.6" y1="687.3" x2="1023.5" y2="687.3" stroke="#cfd4dc" stroke-width="0.9"/>
<path d="M37.5,538.2C38.08,536.08 39.6,530.88 41,525.5C42.4,520.12 44.11,511.6 45.9,505.9C47.69,500.2 50.12,493.83 51.75,491.3C53.38,488.77 53.91,489.95 55.7,490.7C57.49,491.45 60.07,494.57 62.5,495.8C64.93,497.03 67.7,498.53 70.3,498.1C72.9,497.67 75.33,493.3 78.1,493.2C80.87,493.1 84.29,497.5 86.9,497.5C89.51,497.5 91.3,495.22 93.75,493.2C96.2,491.18 98.99,487.83 101.6,485.4C104.21,482.97 106.32,480 109.4,478.6C112.48,477.2 117.5,479.12 120.1,477C122.7,474.88 123.2,469.15 125,465.9C126.8,462.65 128.62,458.97 130.9,457.5C133.18,456.03 136.27,457 138.7,457.1C141.13,457.2 143.23,458.58 145.5,458.1C147.77,457.62 150.51,453.88 152.3,454.2C154.09,454.52 154.93,457.57 156.25,460C157.57,462.43 158.24,466.62 160.2,468.8C162.16,470.98 165.08,472.45 168,473.1C170.92,473.75 174.78,473.9 177.7,472.7C180.62,471.5 183.28,467.77 185.5,465.9C187.72,464.03 188.95,462.7 191,461.5C193.05,460.3 195.03,459.1 197.8,458.7C200.57,458.3 205.15,458.23 207.6,459.1C210.05,459.97 211.2,460.65 212.5,463.9C213.8,467.15 214.27,472.9 215.4,478.6C216.53,484.3 217.67,492.57 219.3,498.1C220.93,503.63 222.92,507.23 225.2,511.8C227.48,516.37 230.57,521.43 233,525.5C235.43,529.57 238.02,533.87 239.8,536.2C241.58,538.53 242.07,538.62 243.7,539.5C245.33,540.38 247.48,541.57 249.6,541.5C251.72,541.43 254.55,539.92 256.4,539.1C258.25,538.28 259.58,536.4 260.7,536.6C261.82,536.8 261.78,538.63 263.1,540.3C264.42,541.97 266.52,545.03 268.6,546.6C270.68,548.17 273.13,547.62 275.6,549.7C278.07,551.78 280.53,556.63 283.4,559.1C286.27,561.57 289.67,563.2 292.8,564.5C295.93,565.8 299.07,566.5 302.2,566.9C305.33,567.3 308.22,567.35 311.6,566.9C314.98,566.45 319.38,564.78 322.5,564.2C325.62,563.62 328.08,563.73 330.3,563.4C332.52,563.07 334.23,563.83 335.8,562.2C337.37,560.57 338.53,555.43 339.7,553.6C340.87,551.77 341.23,551.25 342.8,551.25C344.37,551.25 346.75,553.08 349.1,553.6C351.45,554.12 354.04,553.96 356.9,554.4C359.76,554.84 363.13,555.87 366.25,556.25C369.37,556.63 373.39,555.45 375.6,556.7C377.81,557.95 378.2,561.15 379.5,563.75C380.8,566.35 382.22,571.26 383.4,572.3C384.58,573.34 385.42,571.3 386.6,570C387.78,568.7 388.95,565.67 390.5,564.5C392.05,563.33 393.95,563.12 395.9,563C397.85,562.88 400.12,562.32 402.2,563.75C404.28,565.18 406.45,568.48 408.4,571.6C410.35,574.73 412.47,580 413.9,582.5C415.33,585 415.82,586.72 417,586.6C418.18,586.48 419.35,584.72 421,581.8C422.65,578.88 424.95,571.87 426.9,569.1C428.85,566.33 430.92,565.03 432.7,565.2C434.48,565.37 435.97,568.15 437.6,570.1C439.23,572.05 440.38,575.12 442.5,576.9C444.62,578.68 447.7,579.82 450.3,580.8C452.9,581.78 455.5,583.28 458.1,582.8C460.7,582.32 463.29,580.02 465.9,577.9C468.51,575.78 471.13,571.73 473.75,570.1C476.37,568.47 479.49,568.92 481.6,568.1C483.71,567.28 484.78,567.32 486.4,565.2C488.02,563.08 489.5,557.45 491.3,555.4C493.1,553.35 494.92,552.9 497.2,552.9C499.48,552.9 502.88,552.87 505,555.4C507.12,557.93 508.27,562.88 509.9,568.1C511.53,573.32 513.02,583.28 514.8,586.7C516.58,590.12 518.82,587.92 520.6,588.6C522.38,589.28 523.97,589.52 525.5,590.8C527.03,592.08 528.42,593.17 529.8,596.3C531.17,599.43 532.43,605.17 533.75,609.6C535.07,614.03 536.39,619.38 537.7,622.9C539.01,626.42 540.05,628.67 541.6,630.7C543.15,632.73 545.57,634.84 547,635.1C548.43,635.36 549.15,635.33 550.2,632.25C551.25,629.17 552.27,622.59 553.3,616.6C554.33,610.61 555.37,602.55 556.4,596.3C557.43,590.05 558.3,583.47 559.5,579.1C560.7,574.73 561.62,572.75 563.6,570.1C565.58,567.45 568.38,564.68 571.4,563.2C574.42,561.72 578.68,560.82 581.7,561.2C584.72,561.58 586.9,563.65 589.5,565.5C592.1,567.35 595.34,569.38 597.3,572.3C599.26,575.22 599.93,579.84 601.25,583C602.57,586.16 603.89,589.88 605.2,591.25C606.51,592.62 607.8,593.27 609.1,591.25C610.4,589.23 611.7,584.69 613,579.1C614.3,573.51 615.77,563.88 616.9,557.7C618.03,551.52 618.83,546.88 619.8,542C620.77,537.12 621.57,531.58 622.7,528.4C623.83,525.22 624.97,523.95 626.6,522.9C628.23,521.85 630.7,521.18 632.5,522.1C634.3,523.02 635.62,526.87 637.4,528.4C639.18,529.93 641.25,530.98 643.2,531.3C645.15,531.62 647.63,531.77 649.1,530.3C650.57,528.83 650.87,525.27 652,522.5C653.13,519.73 654.27,515.58 655.9,513.7C657.53,511.82 659.52,510.78 661.8,511.2C664.08,511.62 667.17,514.5 669.6,516.2C672.03,517.9 674.28,520.33 676.4,521.4C678.52,522.47 680.18,522.67 682.3,522.6C684.42,522.53 687.32,522.23 689.1,521C690.88,519.77 691.69,516.98 693,515.2C694.31,513.42 695.7,510.63 696.95,510.3C698.2,509.97 699.19,511.83 700.5,513.2C701.81,514.57 703.12,517.85 704.8,518.5C706.48,519.15 708,517.98 710.6,517.1C713.2,516.22 717.13,514.4 720.4,513.2C723.67,512 726.95,510.7 730.2,509.9C733.45,509.1 737.3,509.07 739.9,508.4C742.5,507.73 743.85,506.97 745.8,505.9C747.75,504.83 749.32,503.95 751.6,502C753.88,500.05 756.83,496.72 759.5,494.2C762.17,491.68 765.43,488.18 767.6,486.9C769.77,485.62 770.88,485.53 772.5,486.5C774.12,487.47 775.52,489.87 777.3,492.7C779.08,495.53 781.4,500.82 783.2,503.5C785,506.18 785.82,507.68 788.1,508.75C790.38,509.82 793.82,509.71 796.9,509.9C799.98,510.09 803.67,509.02 806.6,509.9C809.53,510.78 811.88,513.9 814.5,515.2C817.12,516.5 819.7,517.7 822.3,517.7C824.9,517.7 827.5,516.37 830.1,515.2C832.7,514.03 834.97,511.52 837.9,510.7C840.83,509.88 844.77,510.37 847.7,510.3C850.63,510.23 852.58,509.9 855.5,510.3C858.42,510.7 862.28,512.05 865.2,512.7C868.12,513.35 870.55,514.02 873,514.2C875.45,514.38 878.1,514.93 879.9,513.8C881.7,512.67 882.33,510.58 883.8,507.4C885.27,504.22 886.92,498.12 888.7,494.7C890.48,491.28 892.23,488.47 894.5,486.9C896.77,485.33 899.35,485.33 902.3,485.3C905.25,485.27 909.18,487.33 912.2,486.7C915.22,486.07 917.87,482.98 920.4,481.5C922.93,480.02 924.67,478.15 927.4,477.8C930.13,477.45 933.87,479.25 936.8,479.4C939.73,479.55 942.07,479.6 945,478.7C947.93,477.8 951.86,473.22 954.4,474C956.94,474.78 958.68,478.92 960.25,483.4C961.82,487.88 962.82,494.47 963.8,500.9C964.77,507.33 965.44,515.35 966.1,522C966.76,528.65 966.97,534.93 967.75,540.8C968.53,546.67 969.31,553.3 970.8,557.2C972.29,561.1 974.17,561.08 976.7,564.2C979.23,567.32 982.49,571.98 986,575.9C989.51,579.82 993.83,584.57 997.75,587.7C1001.67,590.83 1005.99,592.75 1009.5,594.7C1013.01,596.65 1017.25,598.62 1018.8,599.4" fill="none" stroke="#713636" stroke-width="0.68" stroke-dasharray="2.1,1.5" clip-path="url(#cpa2)"/>
<path d="M37.5,538.2C38.08,536.08 39.6,530.88 41,525.5C42.4,520.12 44.11,511.6 45.9,505.9C47.69,500.2 50.12,493.83 51.75,491.3C53.38,488.77 53.91,489.95 55.7,490.7C57.49,491.45 60.07,494.57 62.5,495.8C64.93,497.03 67.7,498.53 70.3,498.1C72.9,497.67 75.33,493.3 78.1,493.2C80.87,493.1 84.29,497.5 86.9,497.5C89.51,497.5 91.3,495.22 93.75,493.2C96.2,491.18 98.99,487.83 101.6,485.4C104.21,482.97 106.32,480 109.4,478.6C112.48,477.2 117.5,479.12 120.1,477C122.7,474.88 123.2,469.15 125,465.9C126.8,462.65 128.62,458.97 130.9,457.5C133.18,456.03 136.27,457 138.7,457.1C141.13,457.2 143.23,458.58 145.5,458.1C147.77,457.62 150.51,453.88 152.3,454.2C154.09,454.52 154.93,457.57 156.25,460C157.57,462.43 158.24,466.62 160.2,468.8C162.16,470.98 165.08,472.45 168,473.1C170.92,473.75 174.78,473.9 177.7,472.7C180.62,471.5 183.28,467.77 185.5,465.9C187.72,464.03 188.95,462.7 191,461.5C193.05,460.3 195.03,459.1 197.8,458.7C200.57,458.3 205.15,458.23 207.6,459.1C210.05,459.97 211.2,460.65 212.5,463.9C213.8,467.15 214.27,472.9 215.4,478.6C216.53,484.3 217.67,492.57 219.3,498.1C220.93,503.63 222.92,507.23 225.2,511.8C227.48,516.37 230.57,521.43 233,525.5C235.43,529.57 238.02,533.87 239.8,536.2C241.58,538.53 242.07,538.62 243.7,539.5C245.33,540.38 247.48,541.57 249.6,541.5C251.72,541.43 254.55,539.92 256.4,539.1C258.25,538.28 259.58,536.4 260.7,536.6C261.82,536.8 261.78,538.63 263.1,540.3C264.42,541.97 266.52,545.03 268.6,546.6C270.68,548.17 273.13,547.62 275.6,549.7C278.07,551.78 280.53,556.63 283.4,559.1C286.27,561.57 289.67,563.2 292.8,564.5C295.93,565.8 299.07,566.5 302.2,566.9C305.33,567.3 308.22,567.35 311.6,566.9C314.98,566.45 319.38,564.78 322.5,564.2C325.62,563.62 328.08,563.73 330.3,563.4C332.52,563.07 334.23,563.83 335.8,562.2C337.37,560.57 338.53,555.43 339.7,553.6C340.87,551.77 341.23,551.25 342.8,551.25C344.37,551.25 346.75,553.08 349.1,553.6C351.45,554.12 354.04,553.96 356.9,554.4C359.76,554.84 363.13,555.87 366.25,556.25C369.37,556.63 373.39,555.45 375.6,556.7C377.81,557.95 378.2,561.15 379.5,563.75C380.8,566.35 382.22,571.26 383.4,572.3C384.58,573.34 385.42,571.3 386.6,570C387.78,568.7 388.95,565.67 390.5,564.5C392.05,563.33 393.95,563.12 395.9,563C397.85,562.88 400.12,562.32 402.2,563.75C404.28,565.18 406.45,568.48 408.4,571.6C410.35,574.73 412.47,580 413.9,582.5C415.33,585 415.82,586.72 417,586.6C418.18,586.48 419.35,584.72 421,581.8C422.65,578.88 424.95,571.87 426.9,569.1C428.85,566.33 430.92,565.03 432.7,565.2C434.48,565.37 435.97,568.15 437.6,570.1C439.23,572.05 440.38,575.12 442.5,576.9C444.62,578.68 447.7,579.82 450.3,580.8C452.9,581.78 455.5,583.28 458.1,582.8C460.7,582.32 463.29,580.02 465.9,577.9C468.51,575.78 471.13,571.73 473.75,570.1C476.37,568.47 479.49,568.92 481.6,568.1C483.71,567.28 484.78,567.32 486.4,565.2C488.02,563.08 489.5,557.45 491.3,555.4C493.1,553.35 494.92,552.9 497.2,552.9C499.48,552.9 502.88,552.87 505,555.4C507.12,557.93 508.27,562.88 509.9,568.1C511.53,573.32 513.02,583.28 514.8,586.7C516.58,590.12 518.82,587.92 520.6,588.6C522.38,589.28 523.97,589.52 525.5,590.8C527.03,592.08 528.42,593.17 529.8,596.3C531.17,599.43 532.43,605.17 533.75,609.6C535.07,614.03 536.39,619.38 537.7,622.9C539.01,626.42 540.05,628.67 541.6,630.7C543.15,632.73 545.57,634.84 547,635.1C548.43,635.36 549.15,635.33 550.2,632.25C551.25,629.17 552.27,622.59 553.3,616.6C554.33,610.61 555.37,602.55 556.4,596.3C557.43,590.05 558.3,583.47 559.5,579.1C560.7,574.73 561.62,572.75 563.6,570.1C565.58,567.45 568.38,564.68 571.4,563.2C574.42,561.72 578.68,560.82 581.7,561.2C584.72,561.58 586.9,563.65 589.5,565.5C592.1,567.35 595.34,569.38 597.3,572.3C599.26,575.22 599.93,579.84 601.25,583C602.57,586.16 603.89,589.88 605.2,591.25C606.51,592.62 607.8,593.27 609.1,591.25C610.4,589.23 611.7,584.69 613,579.1C614.3,573.51 615.77,563.88 616.9,557.7C618.03,551.52 618.83,546.88 619.8,542C620.77,537.12 621.57,531.58 622.7,528.4C623.83,525.22 624.97,523.95 626.6,522.9C628.23,521.85 630.7,521.18 632.5,522.1C634.3,523.02 635.62,526.87 637.4,528.4C639.18,529.93 641.25,530.98 643.2,531.3C645.15,531.62 647.63,531.77 649.1,530.3C650.57,528.83 650.87,525.27 652,522.5C653.13,519.73 654.27,515.58 655.9,513.7C657.53,511.82 659.52,510.78 661.8,511.2C664.08,511.62 667.17,514.5 669.6,516.2C672.03,517.9 674.28,520.33 676.4,521.4C678.52,522.47 680.18,522.67 682.3,522.6C684.42,522.53 687.32,522.23 689.1,521C690.88,519.77 691.69,516.98 693,515.2C694.31,513.42 695.7,510.63 696.95,510.3C698.2,509.97 699.19,511.83 700.5,513.2C701.81,514.57 703.12,517.85 704.8,518.5C706.48,519.15 708,517.98 710.6,517.1C713.2,516.22 717.13,514.4 720.4,513.2C723.67,512 726.95,510.7 730.2,509.9C733.45,509.1 737.3,509.07 739.9,508.4C742.5,507.73 743.85,506.97 745.8,505.9C747.75,504.83 749.32,503.95 751.6,502C753.88,500.05 756.83,496.72 759.5,494.2C762.17,491.68 765.43,488.18 767.6,486.9C769.77,485.62 770.88,485.53 772.5,486.5C774.12,487.47 775.52,489.87 777.3,492.7C779.08,495.53 781.4,500.82 783.2,503.5C785,506.18 785.82,507.68 788.1,508.75C790.38,509.82 793.82,509.71 796.9,509.9C799.98,510.09 803.67,509.02 806.6,509.9C809.53,510.78 811.88,513.9 814.5,515.2C817.12,516.5 819.7,517.7 822.3,517.7C824.9,517.7 827.5,516.37 830.1,515.2C832.7,514.03 834.97,511.52 837.9,510.7C840.83,509.88 844.77,510.37 847.7,510.3C850.63,510.23 852.58,509.9 855.5,510.3C858.42,510.7 862.28,512.05 865.2,512.7C868.12,513.35 870.55,514.02 873,514.2C875.45,514.38 878.1,514.93 879.9,513.8C881.7,512.67 882.33,510.58 883.8,507.4C885.27,504.22 886.92,498.12 888.7,494.7C890.48,491.28 892.23,488.47 894.5,486.9C896.77,485.33 899.35,485.33 902.3,485.3C905.25,485.27 909.18,487.33 912.2,486.7C915.22,486.07 917.87,482.98 920.4,481.5C922.93,480.02 924.67,478.15 927.4,477.8C930.13,477.45 933.87,479.25 936.8,479.4C939.73,479.55 942.07,479.6 945,478.7C947.93,477.8 951.86,473.22 954.4,474C956.94,474.78 958.68,478.92 960.25,483.4C961.82,487.88 962.82,494.47 963.8,500.9C964.77,507.33 965.44,515.35 966.1,522C966.76,528.65 966.97,534.93 967.75,540.8C968.53,546.67 969.31,553.3 970.8,557.2C972.29,561.1 974.17,561.08 976.7,564.2C979.23,567.32 982.49,571.98 986,575.9C989.51,579.82 993.83,584.57 997.75,587.7C1001.67,590.83 1005.99,592.75 1009.5,594.7C1013.01,596.65 1017.25,598.62 1018.8,599.4" fill="none" stroke="#9aa7b4" stroke-width="0.68" stroke-dasharray="2.1,1.5" clip-path="url(#cpb2)"/>
<path d="M37.5,475.7C38.08,476.83 39.6,480.72 41,482.5C42.4,484.28 43.62,485.75 45.9,486.4C48.18,487.05 51.93,485.48 54.7,486.4C57.47,487.32 59.9,490.6 62.5,491.9C65.1,493.2 67.7,494.78 70.3,494.2C72.9,493.62 75.17,489.31 78.1,488.4C81.03,487.49 85.62,490.38 87.9,488.75C90.18,487.12 90.17,483.23 91.8,478.6C93.43,473.98 95.42,466.53 97.7,461C99.98,455.47 102.9,449.08 105.5,445.4C108.1,441.72 110.7,440.2 113.3,438.9C115.9,437.6 118.5,437.33 121.1,437.6C123.7,437.87 126.3,439.37 128.9,440.5C131.5,441.63 133.45,443.27 136.7,444.4C139.95,445.53 145.14,446.32 148.4,447.3C151.66,448.28 153.97,449.64 156.25,450.3C158.53,450.96 160.47,452.23 162.1,451.25C163.72,450.27 164.77,445.96 166,444.4C167.23,442.84 168.35,441.73 169.5,441.9C170.65,442.07 171.68,443.68 172.9,445.4C174.12,447.12 175.02,450.63 176.8,452.2C178.58,453.77 181.4,454.43 183.6,454.8C185.8,455.17 187.95,454.4 190,454.4C192.05,454.4 193.95,454.52 195.9,454.8C197.85,455.08 199.92,456.53 201.7,456.1C203.48,455.67 205.13,453.5 206.6,452.2C208.07,450.9 209.37,448.13 210.5,448.3C211.63,448.47 212.42,449.13 213.4,453.2C214.38,457.27 215.42,466.83 216.4,472.7C217.38,478.57 218.33,484.65 219.3,488.4C220.27,492.15 220.57,493.08 222.2,495.2C223.83,497.32 226.33,498.67 229.1,501.1C231.87,503.53 235.55,507.37 238.8,509.8C242.05,512.23 245.67,513.73 248.6,515.7C251.53,517.67 253.8,519.48 256.4,521.6C259,523.72 261.6,526.52 264.2,528.4C266.8,530.28 269.55,531.6 272,532.9C274.45,534.2 276.78,535.25 278.9,536.2C281.02,537.15 283.08,538.33 284.7,538.6C286.32,538.87 287.13,539.02 288.6,537.8C290.07,536.58 291.87,533.68 293.5,531.3C295.13,528.92 296.93,525.05 298.4,523.5C299.87,521.95 300.67,522 302.3,522C303.93,522 306.08,522.27 308.2,523.5C310.32,524.73 312.57,527.02 315,529.4C317.43,531.78 320.2,536.18 322.8,537.8C325.4,539.42 328.32,538.72 330.6,539.1C332.88,539.48 334.22,538.78 336.5,540.1C338.78,541.42 342.02,545.37 344.3,547C346.58,548.63 347.6,549.75 350.2,549.9C352.8,550.05 356.98,548.23 359.9,547.9C362.82,547.57 365.1,547.4 367.7,547.9C370.3,548.4 373.28,550 375.5,550.9C377.72,551.8 378.95,552.7 381,553.3C383.05,553.9 385.85,554.15 387.8,554.5C389.75,554.85 390.75,555.73 392.7,555.4C394.65,555.07 397.38,552.33 399.5,552.5C401.62,552.67 403.44,553.8 405.4,556.4C407.36,559 409.47,564.92 411.25,568.1C413.03,571.28 414.64,575.17 416.1,575.5C417.56,575.83 418.53,573.93 420,570.1C421.47,566.27 423.27,557.42 424.9,552.5C426.53,547.58 428.5,542.83 429.8,540.6C431.1,538.37 431.72,538.97 432.7,539.1C433.68,539.23 434.55,538.52 435.7,541.4C436.85,544.28 438.13,551.62 439.6,556.4C441.07,561.18 442.72,567.23 444.5,570.1C446.28,572.97 448.03,573.02 450.3,573.6C452.57,574.18 456.15,574.35 458.1,573.6C460.05,572.85 460.53,570.83 462,569.1C463.47,567.37 464.94,564.4 466.9,563.2C468.86,562 471.63,562.05 473.75,561.9C475.87,561.75 477.64,562.08 479.6,562.3C481.56,562.52 483.7,564.35 485.5,563.2C487.3,562.05 488.78,557.45 490.4,555.4C492.02,553.35 493.42,551.77 495.2,550.9C496.98,550.03 499.3,549.77 501.1,550.2C502.9,550.63 504.53,551 506,553.5C507.47,556 508.77,561.47 509.9,565.2C511.03,568.93 511.88,572.53 512.8,575.9C513.72,579.27 514.1,583.53 515.4,585.4C516.7,587.27 518.92,586.63 520.6,587.1C522.28,587.57 523.97,587.18 525.5,588.2C527.03,589.22 528.42,590.28 529.8,593.2C531.17,596.12 532.43,601.53 533.75,605.7C535.07,609.87 536.39,614.95 537.7,618.2C539.01,621.45 540.05,623.57 541.6,625.2C543.15,626.83 545.57,627.87 547,628C548.43,628.13 549.28,628.15 550.2,626C551.12,623.85 551.6,620.31 552.5,615.1C553.4,609.89 554.56,601 555.6,594.75C556.64,588.5 557.42,582.69 558.75,577.6C560.08,572.51 561.81,567.33 563.6,564.2C565.39,561.07 567.13,560.22 569.5,558.8C571.87,557.38 575.12,556.48 577.8,555.7C580.48,554.92 583.15,554.37 585.6,554.1C588.05,553.83 590.7,552.85 592.5,554.1C594.3,555.35 595.1,558.08 596.4,561.6C597.7,565.12 599,570.82 600.3,575.2C601.6,579.58 603.07,585.35 604.2,587.9C605.33,590.45 606.13,590.65 607.1,590.5C608.07,590.35 608.87,590.2 610,587C611.13,583.8 612.59,577.17 613.9,571.3C615.21,565.43 616.77,557.33 617.85,551.8C618.93,546.27 619.59,542.17 620.4,538.1C621.21,534.03 621.67,530 622.7,527.4C623.73,524.8 624.63,523.7 626.6,522.5C628.57,521.3 631.57,520.92 634.5,520.2C637.43,519.48 641.6,519.18 644.2,518.2C646.8,517.22 648.15,515.63 650.1,514.3C652.05,512.97 653.78,510.85 655.9,510.2C658.02,509.55 660.52,509.48 662.8,510.4C665.08,511.32 667.33,513.95 669.6,515.7C671.87,517.45 674.28,519.83 676.4,520.9C678.52,521.97 680.18,522.17 682.3,522.1C684.42,522.03 687.32,521.73 689.1,520.5C690.88,519.27 691.69,516.48 693,514.7C694.31,512.92 695.7,510.13 696.95,509.8C698.2,509.47 699.19,511.33 700.5,512.7C701.81,514.07 703.12,517.35 704.8,518C706.48,518.65 708,517.48 710.6,516.6C713.2,515.72 717.13,513.9 720.4,512.7C723.67,511.5 726.95,510.2 730.2,509.4C733.45,508.6 737.3,508.65 739.9,507.9C742.5,507.15 743.85,507.02 745.8,504.9C747.75,502.78 749.82,499.1 751.6,495.2C753.38,491.3 755.03,485.42 756.5,481.5C757.97,477.58 759.23,473.78 760.4,471.7C761.57,469.62 762.3,468.75 763.5,469C764.7,469.25 765.62,470.22 767.6,473.2C769.58,476.18 772.97,482.83 775.4,486.9C777.83,490.97 780.08,494.93 782.2,497.6C784.32,500.27 785.65,502.35 788.1,502.9C790.55,503.45 793.82,500.97 796.9,500.9C799.98,500.83 803.67,501.97 806.6,502.5C809.53,503.03 812.22,504.75 814.5,504.1C816.78,503.45 818.52,500.88 820.3,498.6C822.08,496.32 823.57,492.25 825.2,490.4C826.83,488.55 828.32,487.43 830.1,487.5C831.88,487.57 833.95,489.05 835.9,490.8C837.85,492.55 839.83,496.12 841.8,498C843.77,499.88 845.42,501.28 847.7,502.1C849.98,502.92 852.9,502.67 855.5,502.9C858.1,503.13 860.7,502.82 863.3,503.5C865.9,504.18 868.5,506.18 871.1,507C873.7,507.82 876.95,509.48 878.9,508.4C880.85,507.32 881.5,504.42 882.8,500.5C884.1,496.58 885.4,490.1 886.7,484.9C888,479.7 889.4,473.27 890.6,469.3C891.8,465.33 892.75,462.47 893.9,461.1C895.05,459.73 896.25,460.07 897.5,461.1C898.75,462.13 899.94,465.28 901.4,467.3C902.86,469.32 904.47,471.8 906.25,473.2C908.03,474.6 910.14,475.7 912.1,475.7C914.06,475.7 916.05,474.43 918,473.2C919.95,471.97 922.1,469.45 923.8,468.3C925.5,467.15 926.57,466.13 928.2,466.3C929.83,466.47 931.72,467.98 933.6,469.3C935.48,470.62 937.55,473.28 939.5,474.2C941.45,475.12 943.02,475.3 945.3,474.8C947.58,474.3 950.9,470.95 953.2,471.2C955.5,471.45 957.33,473.68 959.1,476.3C960.87,478.92 962.05,482.8 963.8,486.9C965.55,491 967.45,495.63 969.6,500.9C971.75,506.17 974.55,514.2 976.7,518.5C978.85,522.8 980.55,524.35 982.5,526.7C984.45,529.05 986.57,530.65 988.4,532.6C990.23,534.55 991.55,536.07 993.5,538.4C995.45,540.73 997.63,544.45 1000.1,546.6C1002.57,548.75 1005.95,551.1 1008.3,551.3C1010.65,551.5 1012.37,549.95 1014.2,547.8C1016.03,545.65 1018.45,539.97 1019.3,538.4" fill="none" stroke="#e04c4a" stroke-width="1.6" stroke-linejoin="round" stroke-linecap="round" clip-path="url(#cpa2)"/>
<path d="M37.5,475.7C38.08,476.83 39.6,480.72 41,482.5C42.4,484.28 43.62,485.75 45.9,486.4C48.18,487.05 51.93,485.48 54.7,486.4C57.47,487.32 59.9,490.6 62.5,491.9C65.1,493.2 67.7,494.78 70.3,494.2C72.9,493.62 75.17,489.31 78.1,488.4C81.03,487.49 85.62,490.38 87.9,488.75C90.18,487.12 90.17,483.23 91.8,478.6C93.43,473.98 95.42,466.53 97.7,461C99.98,455.47 102.9,449.08 105.5,445.4C108.1,441.72 110.7,440.2 113.3,438.9C115.9,437.6 118.5,437.33 121.1,437.6C123.7,437.87 126.3,439.37 128.9,440.5C131.5,441.63 133.45,443.27 136.7,444.4C139.95,445.53 145.14,446.32 148.4,447.3C151.66,448.28 153.97,449.64 156.25,450.3C158.53,450.96 160.47,452.23 162.1,451.25C163.72,450.27 164.77,445.96 166,444.4C167.23,442.84 168.35,441.73 169.5,441.9C170.65,442.07 171.68,443.68 172.9,445.4C174.12,447.12 175.02,450.63 176.8,452.2C178.58,453.77 181.4,454.43 183.6,454.8C185.8,455.17 187.95,454.4 190,454.4C192.05,454.4 193.95,454.52 195.9,454.8C197.85,455.08 199.92,456.53 201.7,456.1C203.48,455.67 205.13,453.5 206.6,452.2C208.07,450.9 209.37,448.13 210.5,448.3C211.63,448.47 212.42,449.13 213.4,453.2C214.38,457.27 215.42,466.83 216.4,472.7C217.38,478.57 218.33,484.65 219.3,488.4C220.27,492.15 220.57,493.08 222.2,495.2C223.83,497.32 226.33,498.67 229.1,501.1C231.87,503.53 235.55,507.37 238.8,509.8C242.05,512.23 245.67,513.73 248.6,515.7C251.53,517.67 253.8,519.48 256.4,521.6C259,523.72 261.6,526.52 264.2,528.4C266.8,530.28 269.55,531.6 272,532.9C274.45,534.2 276.78,535.25 278.9,536.2C281.02,537.15 283.08,538.33 284.7,538.6C286.32,538.87 287.13,539.02 288.6,537.8C290.07,536.58 291.87,533.68 293.5,531.3C295.13,528.92 296.93,525.05 298.4,523.5C299.87,521.95 300.67,522 302.3,522C303.93,522 306.08,522.27 308.2,523.5C310.32,524.73 312.57,527.02 315,529.4C317.43,531.78 320.2,536.18 322.8,537.8C325.4,539.42 328.32,538.72 330.6,539.1C332.88,539.48 334.22,538.78 336.5,540.1C338.78,541.42 342.02,545.37 344.3,547C346.58,548.63 347.6,549.75 350.2,549.9C352.8,550.05 356.98,548.23 359.9,547.9C362.82,547.57 365.1,547.4 367.7,547.9C370.3,548.4 373.28,550 375.5,550.9C377.72,551.8 378.95,552.7 381,553.3C383.05,553.9 385.85,554.15 387.8,554.5C389.75,554.85 390.75,555.73 392.7,555.4C394.65,555.07 397.38,552.33 399.5,552.5C401.62,552.67 403.44,553.8 405.4,556.4C407.36,559 409.47,564.92 411.25,568.1C413.03,571.28 414.64,575.17 416.1,575.5C417.56,575.83 418.53,573.93 420,570.1C421.47,566.27 423.27,557.42 424.9,552.5C426.53,547.58 428.5,542.83 429.8,540.6C431.1,538.37 431.72,538.97 432.7,539.1C433.68,539.23 434.55,538.52 435.7,541.4C436.85,544.28 438.13,551.62 439.6,556.4C441.07,561.18 442.72,567.23 444.5,570.1C446.28,572.97 448.03,573.02 450.3,573.6C452.57,574.18 456.15,574.35 458.1,573.6C460.05,572.85 460.53,570.83 462,569.1C463.47,567.37 464.94,564.4 466.9,563.2C468.86,562 471.63,562.05 473.75,561.9C475.87,561.75 477.64,562.08 479.6,562.3C481.56,562.52 483.7,564.35 485.5,563.2C487.3,562.05 488.78,557.45 490.4,555.4C492.02,553.35 493.42,551.77 495.2,550.9C496.98,550.03 499.3,549.77 501.1,550.2C502.9,550.63 504.53,551 506,553.5C507.47,556 508.77,561.47 509.9,565.2C511.03,568.93 511.88,572.53 512.8,575.9C513.72,579.27 514.1,583.53 515.4,585.4C516.7,587.27 518.92,586.63 520.6,587.1C522.28,587.57 523.97,587.18 525.5,588.2C527.03,589.22 528.42,590.28 529.8,593.2C531.17,596.12 532.43,601.53 533.75,605.7C535.07,609.87 536.39,614.95 537.7,618.2C539.01,621.45 540.05,623.57 541.6,625.2C543.15,626.83 545.57,627.87 547,628C548.43,628.13 549.28,628.15 550.2,626C551.12,623.85 551.6,620.31 552.5,615.1C553.4,609.89 554.56,601 555.6,594.75C556.64,588.5 557.42,582.69 558.75,577.6C560.08,572.51 561.81,567.33 563.6,564.2C565.39,561.07 567.13,560.22 569.5,558.8C571.87,557.38 575.12,556.48 577.8,555.7C580.48,554.92 583.15,554.37 585.6,554.1C588.05,553.83 590.7,552.85 592.5,554.1C594.3,555.35 595.1,558.08 596.4,561.6C597.7,565.12 599,570.82 600.3,575.2C601.6,579.58 603.07,585.35 604.2,587.9C605.33,590.45 606.13,590.65 607.1,590.5C608.07,590.35 608.87,590.2 610,587C611.13,583.8 612.59,577.17 613.9,571.3C615.21,565.43 616.77,557.33 617.85,551.8C618.93,546.27 619.59,542.17 620.4,538.1C621.21,534.03 621.67,530 622.7,527.4C623.73,524.8 624.63,523.7 626.6,522.5C628.57,521.3 631.57,520.92 634.5,520.2C637.43,519.48 641.6,519.18 644.2,518.2C646.8,517.22 648.15,515.63 650.1,514.3C652.05,512.97 653.78,510.85 655.9,510.2C658.02,509.55 660.52,509.48 662.8,510.4C665.08,511.32 667.33,513.95 669.6,515.7C671.87,517.45 674.28,519.83 676.4,520.9C678.52,521.97 680.18,522.17 682.3,522.1C684.42,522.03 687.32,521.73 689.1,520.5C690.88,519.27 691.69,516.48 693,514.7C694.31,512.92 695.7,510.13 696.95,509.8C698.2,509.47 699.19,511.33 700.5,512.7C701.81,514.07 703.12,517.35 704.8,518C706.48,518.65 708,517.48 710.6,516.6C713.2,515.72 717.13,513.9 720.4,512.7C723.67,511.5 726.95,510.2 730.2,509.4C733.45,508.6 737.3,508.65 739.9,507.9C742.5,507.15 743.85,507.02 745.8,504.9C747.75,502.78 749.82,499.1 751.6,495.2C753.38,491.3 755.03,485.42 756.5,481.5C757.97,477.58 759.23,473.78 760.4,471.7C761.57,469.62 762.3,468.75 763.5,469C764.7,469.25 765.62,470.22 767.6,473.2C769.58,476.18 772.97,482.83 775.4,486.9C777.83,490.97 780.08,494.93 782.2,497.6C784.32,500.27 785.65,502.35 788.1,502.9C790.55,503.45 793.82,500.97 796.9,500.9C799.98,500.83 803.67,501.97 806.6,502.5C809.53,503.03 812.22,504.75 814.5,504.1C816.78,503.45 818.52,500.88 820.3,498.6C822.08,496.32 823.57,492.25 825.2,490.4C826.83,488.55 828.32,487.43 830.1,487.5C831.88,487.57 833.95,489.05 835.9,490.8C837.85,492.55 839.83,496.12 841.8,498C843.77,499.88 845.42,501.28 847.7,502.1C849.98,502.92 852.9,502.67 855.5,502.9C858.1,503.13 860.7,502.82 863.3,503.5C865.9,504.18 868.5,506.18 871.1,507C873.7,507.82 876.95,509.48 878.9,508.4C880.85,507.32 881.5,504.42 882.8,500.5C884.1,496.58 885.4,490.1 886.7,484.9C888,479.7 889.4,473.27 890.6,469.3C891.8,465.33 892.75,462.47 893.9,461.1C895.05,459.73 896.25,460.07 897.5,461.1C898.75,462.13 899.94,465.28 901.4,467.3C902.86,469.32 904.47,471.8 906.25,473.2C908.03,474.6 910.14,475.7 912.1,475.7C914.06,475.7 916.05,474.43 918,473.2C919.95,471.97 922.1,469.45 923.8,468.3C925.5,467.15 926.57,466.13 928.2,466.3C929.83,466.47 931.72,467.98 933.6,469.3C935.48,470.62 937.55,473.28 939.5,474.2C941.45,475.12 943.02,475.3 945.3,474.8C947.58,474.3 950.9,470.95 953.2,471.2C955.5,471.45 957.33,473.68 959.1,476.3C960.87,478.92 962.05,482.8 963.8,486.9C965.55,491 967.45,495.63 969.6,500.9C971.75,506.17 974.55,514.2 976.7,518.5C978.85,522.8 980.55,524.35 982.5,526.7C984.45,529.05 986.57,530.65 988.4,532.6C990.23,534.55 991.55,536.07 993.5,538.4C995.45,540.73 997.63,544.45 1000.1,546.6C1002.57,548.75 1005.95,551.1 1008.3,551.3C1010.65,551.5 1012.37,549.95 1014.2,547.8C1016.03,545.65 1018.45,539.97 1019.3,538.4" fill="none" stroke="#4ba6da" stroke-width="1.6" stroke-linejoin="round" stroke-linecap="round" clip-path="url(#cpb2)"/>
<text x="103.32" y="657.1" text-anchor="middle" font-size="6.5" font-weight="bold" fill="#404040" stroke="#fff" stroke-width="1.7" paint-order="stroke" stroke-linejoin="round">0.1</text>
<text x="119.82" y="657.1" text-anchor="middle" font-size="6.5" font-weight="bold" fill="#404040" stroke="#fff" stroke-width="1.7" paint-order="stroke" stroke-linejoin="round">0.1</text>
<text x="128.07" y="616.1" text-anchor="middle" font-size="6.5" font-weight="bold" fill="#404040" stroke="#fff" stroke-width="1.7" paint-order="stroke" stroke-linejoin="round">2.2</text>
<text x="136.32" y="627.1" text-anchor="middle" font-size="6.5" font-weight="bold" fill="#404040" stroke="#fff" stroke-width="1.7" paint-order="stroke" stroke-linejoin="round">1.6</text>
<text x="144.57" y="649.6" text-anchor="middle" font-size="6.5" font-weight="bold" fill="#404040" stroke="#fff" stroke-width="1.7" paint-order="stroke" stroke-linejoin="round">0.5</text>
<text x="152.82" y="634.3" text-anchor="middle" font-size="6.5" font-weight="bold" fill="#404040" stroke="#fff" stroke-width="1.7" paint-order="stroke" stroke-linejoin="round">1.3</text>
<text x="161.07" y="657.1" text-anchor="middle" font-size="6.5" font-weight="bold" fill="#404040" stroke="#fff" stroke-width="1.7" paint-order="stroke" stroke-linejoin="round">0.1</text>
<text x="177.57" y="657.1" text-anchor="middle" font-size="6.5" font-weight="bold" fill="#404040" stroke="#fff" stroke-width="1.7" paint-order="stroke" stroke-linejoin="round">0.1</text>
<text x="185.82" y="644.6" text-anchor="middle" font-size="6.5" font-weight="bold" fill="#404040" stroke="#fff" stroke-width="1.7" paint-order="stroke" stroke-linejoin="round">0.8</text>
<text x="194.07" y="561.6" text-anchor="middle" font-size="6.5" font-weight="bold" fill="#404040" stroke="#fff" stroke-width="1.7" paint-order="stroke" stroke-linejoin="round">5.0</text>
<text x="202.32" y="431.7" text-anchor="middle" font-size="6.5" font-weight="bold" fill="#404040" stroke="#fff" stroke-width="1.7" paint-order="stroke" stroke-linejoin="round">11.7</text>
<text x="210.57" y="565.6" text-anchor="middle" font-size="6.5" font-weight="bold" fill="#404040" stroke="#fff" stroke-width="1.7" paint-order="stroke" stroke-linejoin="round">4.8</text>
<text x="227.07" y="652" text-anchor="middle" font-size="6.5" font-weight="bold" fill="#404040" stroke="#fff" stroke-width="1.7" paint-order="stroke" stroke-linejoin="round">0.4</text>
<text x="235.32" y="636.1" text-anchor="middle" font-size="6.5" font-weight="bold" fill="#404040" stroke="#fff" stroke-width="1.7" paint-order="stroke" stroke-linejoin="round">1.2</text>
<text x="268.33" y="656.8" text-anchor="middle" font-size="6.5" font-weight="bold" fill="#404040" stroke="#fff" stroke-width="1.7" paint-order="stroke" stroke-linejoin="round">0.1</text>
<text x="284.83" y="657.4" text-anchor="middle" font-size="6.5" font-weight="bold" fill="#404040" stroke="#fff" stroke-width="1.7" paint-order="stroke" stroke-linejoin="round">0.1</text>
<text x="342.58" y="641.9" text-anchor="middle" font-size="6.5" font-weight="bold" fill="#404040" stroke="#fff" stroke-width="1.7" paint-order="stroke" stroke-linejoin="round">0.9</text>
<text x="350.83" y="610.3" text-anchor="middle" font-size="6.5" font-weight="bold" fill="#404040" stroke="#fff" stroke-width="1.7" paint-order="stroke" stroke-linejoin="round">2.5</text>
<text x="367.33" y="634" text-anchor="middle" font-size="6.5" font-weight="bold" fill="#404040" stroke="#fff" stroke-width="1.7" paint-order="stroke" stroke-linejoin="round">1.3</text>
<text x="375.58" y="646.9" text-anchor="middle" font-size="6.5" font-weight="bold" fill="#404040" stroke="#fff" stroke-width="1.7" paint-order="stroke" stroke-linejoin="round">0.6</text>
<text x="400.33" y="653.1" text-anchor="middle" font-size="6.5" font-weight="bold" fill="#404040" stroke="#fff" stroke-width="1.7" paint-order="stroke" stroke-linejoin="round">0.3</text>
<text x="474.58" y="646.9" text-anchor="middle" font-size="6.5" font-weight="bold" fill="#404040" stroke="#fff" stroke-width="1.7" paint-order="stroke" stroke-linejoin="round">0.6</text>
<text x="482.83" y="628.6" text-anchor="middle" font-size="6.5" font-weight="bold" fill="#404040" stroke="#fff" stroke-width="1.7" paint-order="stroke" stroke-linejoin="round">1.6</text>
<text x="499.33" y="585.9" text-anchor="middle" font-size="6.5" font-weight="bold" fill="#404040" stroke="#fff" stroke-width="1.7" paint-order="stroke" stroke-linejoin="round">3.8</text>
<text x="507.58" y="652" text-anchor="middle" font-size="6.5" font-weight="bold" fill="#404040" stroke="#fff" stroke-width="1.7" paint-order="stroke" stroke-linejoin="round">0.4</text>
<text x="548.83" y="657.4" text-anchor="middle" font-size="6.5" font-weight="bold" fill="#404040" stroke="#fff" stroke-width="1.7" paint-order="stroke" stroke-linejoin="round">0.1</text>
<text x="656.08" y="649.8" text-anchor="middle" font-size="6.5" font-weight="bold" fill="#404040" stroke="#fff" stroke-width="1.7" paint-order="stroke" stroke-linejoin="round">0.5</text>
<text x="672.58" y="654.1" text-anchor="middle" font-size="6.5" font-weight="bold" fill="#404040" stroke="#fff" stroke-width="1.7" paint-order="stroke" stroke-linejoin="round">0.3</text>
<text x="680.83" y="643.2" text-anchor="middle" font-size="6.5" font-weight="bold" fill="#404040" stroke="#fff" stroke-width="1.7" paint-order="stroke" stroke-linejoin="round">0.8</text>
<text x="689.08" y="657.4" text-anchor="middle" font-size="6.5" font-weight="bold" fill="#404040" stroke="#fff" stroke-width="1.7" paint-order="stroke" stroke-linejoin="round">0.1</text>
<text x="713.83" y="657.1" text-anchor="middle" font-size="6.5" font-weight="bold" fill="#404040" stroke="#fff" stroke-width="1.7" paint-order="stroke" stroke-linejoin="round">0.1</text>
<text x="730.33" y="657.4" text-anchor="middle" font-size="6.5" font-weight="bold" fill="#404040" stroke="#fff" stroke-width="1.7" paint-order="stroke" stroke-linejoin="round">0.1</text>
<text x="779.83" y="655.4" text-anchor="middle" font-size="6.5" font-weight="bold" fill="#404040" stroke="#fff" stroke-width="1.7" paint-order="stroke" stroke-linejoin="round">0.2</text>
<text x="796.33" y="657.4" text-anchor="middle" font-size="6.5" font-weight="bold" fill="#404040" stroke="#fff" stroke-width="1.7" paint-order="stroke" stroke-linejoin="round">0.1</text>
<text x="944.83" y="645.3" text-anchor="middle" font-size="6.5" font-weight="bold" fill="#404040" stroke="#fff" stroke-width="1.7" paint-order="stroke" stroke-linejoin="round">0.7</text>
<text x="953.08" y="601.5" text-anchor="middle" font-size="6.5" font-weight="bold" fill="#404040" stroke="#fff" stroke-width="1.7" paint-order="stroke" stroke-linejoin="round">2.9</text>
<text x="961.33" y="572.6" text-anchor="middle" font-size="6.5" font-weight="bold" fill="#404040" stroke="#fff" stroke-width="1.7" paint-order="stroke" stroke-linejoin="round">4.4</text>
<text x="969.58" y="592.2" text-anchor="middle" font-size="6.5" font-weight="bold" fill="#404040" stroke="#fff" stroke-width="1.7" paint-order="stroke" stroke-linejoin="round">3.4</text>
<text x="986.08" y="655.1" text-anchor="middle" font-size="6.5" font-weight="bold" fill="#404040" stroke="#fff" stroke-width="1.7" paint-order="stroke" stroke-linejoin="round">0.2</text>
<path transform="translate(52.62,471.8)" d="M-4.4,3.6 C-7.3,3.6 -7.3,-0.3 -4.7,-0.6 C-4.5,-1.9 -3.0,-2.2 -2.4,-1.5 C-1.6,-4.7 3.5,-4.8 3.9,-1.1 C7.3,-1.2 7.4,3.6 4.4,3.6 Z" fill="url(#cg)" stroke="#9db3c4" stroke-width="0.9"/>
<path transform="translate(69.12,480)" d="M-4.4,3.6 C-7.3,3.6 -7.3,-0.3 -4.7,-0.6 C-4.5,-1.9 -3.0,-2.2 -2.4,-1.5 C-1.6,-4.7 3.5,-4.8 3.9,-1.1 C7.3,-1.2 7.4,3.6 4.4,3.6 Z" fill="url(#cg)" stroke="#9db3c4" stroke-width="0.9"/>
<path transform="translate(85.62,475.1)" d="M-4.4,3.6 C-7.3,3.6 -7.3,-0.3 -4.7,-0.6 C-4.5,-1.9 -3.0,-2.2 -2.4,-1.5 C-1.6,-4.7 3.5,-4.8 3.9,-1.1 C7.3,-1.2 7.4,3.6 4.4,3.6 Z" fill="url(#cg)" stroke="#9db3c4" stroke-width="0.9"/>
<path transform="translate(102.12,436.2)" d="M-4.4,3.6 C-7.3,3.6 -7.3,-0.3 -4.7,-0.6 C-4.5,-1.9 -3.0,-2.2 -2.4,-1.5 C-1.6,-4.7 3.5,-4.8 3.9,-1.1 C7.3,-1.2 7.4,3.6 4.4,3.6 Z" fill="url(#cg)" stroke="#9db3c4" stroke-width="0.9"/>
<path transform="translate(118.62,423.5)" d="M-4.4,3.6 C-7.3,3.6 -7.3,-0.3 -4.7,-0.6 C-4.5,-1.9 -3.0,-2.2 -2.4,-1.5 C-1.6,-4.7 3.5,-4.8 3.9,-1.1 C7.3,-1.2 7.4,3.6 4.4,3.6 Z" fill="url(#cg)" stroke="#9db3c4" stroke-width="0.9"/>
<path transform="translate(135.12,429.8)" d="M-4.4,3.6 C-7.3,3.6 -7.3,-0.3 -4.7,-0.6 C-4.5,-1.9 -3.0,-2.2 -2.4,-1.5 C-1.6,-4.7 3.5,-4.8 3.9,-1.1 C7.3,-1.2 7.4,3.6 4.4,3.6 Z" fill="url(#cg)" stroke="#9db3c4" stroke-width="0.9"/><path d="M133.47,431.8 l-0.7,1.4" stroke="#2c6496" stroke-width="1.2" stroke-linecap="round"/><path d="M133.67,434.8 l-0.7,1.4" stroke="#2c6496" stroke-width="1.2" stroke-linecap="round"/><path d="M138.88,434.7 l-0.7,1.4" stroke="#2c6496" stroke-width="1.2" stroke-linecap="round"/>
<path transform="translate(151.62,434.6)" d="M-4.4,3.6 C-7.3,3.6 -7.3,-0.3 -4.7,-0.6 C-4.5,-1.9 -3.0,-2.2 -2.4,-1.5 C-1.6,-4.7 3.5,-4.8 3.9,-1.1 C7.3,-1.2 7.4,3.6 4.4,3.6 Z" fill="url(#cg)" stroke="#9db3c4" stroke-width="0.9"/><path d="M149.97,436.6 l-0.7,1.4" stroke="#2c6496" stroke-width="1.2" stroke-linecap="round"/><path d="M150.17,439.6 l-0.7,1.4" stroke="#2c6496" stroke-width="1.2" stroke-linecap="round"/><path d="M155.38,439.5 l-0.7,1.4" stroke="#2c6496" stroke-width="1.2" stroke-linecap="round"/>
<g transform="translate(165.32,426.8) scale(0.92)"><line x1="3.42" y1="0.76" x2="5.76" y2="1.29" stroke="#f39a2b" stroke-width="1"/><line x1="2.75" y1="2.17" x2="4.63" y2="3.66" stroke="#f39a2b" stroke-width="1"/><line x1="1.53" y1="3.15" x2="2.58" y2="5.3" stroke="#f39a2b" stroke-width="1"/><line x1="0.02" y1="3.5" x2="0.03" y2="5.9" stroke="#f39a2b" stroke-width="1"/><line x1="-1.5" y1="3.16" x2="-2.54" y2="5.33" stroke="#f39a2b" stroke-width="1"/><line x1="-2.73" y1="2.19" x2="-4.6" y2="3.7" stroke="#f39a2b" stroke-width="1"/><line x1="-3.41" y1="0.79" x2="-5.75" y2="1.34" stroke="#f39a2b" stroke-width="1"/><line x1="-3.42" y1="-0.76" x2="-5.76" y2="-1.29" stroke="#f39a2b" stroke-width="1"/><line x1="-2.75" y1="-2.17" x2="-4.63" y2="-3.66" stroke="#f39a2b" stroke-width="1"/><line x1="-1.53" y1="-3.15" x2="-2.58" y2="-5.3" stroke="#f39a2b" stroke-width="1"/><line x1="-0.02" y1="-3.5" x2="-0.03" y2="-5.9" stroke="#f39a2b" stroke-width="1"/><line x1="1.5" y1="-3.16" x2="2.54" y2="-5.33" stroke="#f39a2b" stroke-width="1"/><line x1="2.73" y1="-2.19" x2="4.6" y2="-3.7" stroke="#f39a2b" stroke-width="1"/><line x1="3.41" y1="-0.79" x2="5.75" y2="-1.34" stroke="#f39a2b" stroke-width="1"/><circle r="2.8" fill="url(#sg)" stroke="#f5a02a" stroke-width="0.8"/></g><path transform="translate(168.93,430.6)" d="M-4.4,3.6 C-7.3,3.6 -7.3,-0.3 -4.7,-0.6 C-4.5,-1.9 -3.0,-2.2 -2.4,-1.5 C-1.6,-4.7 3.5,-4.8 3.9,-1.1 C7.3,-1.2 7.4,3.6 4.4,3.6 Z" fill="url(#cg)" stroke="#9db3c4" stroke-width="0.9"/>
<path transform="translate(184.62,440.1)" d="M-4.4,3.6 C-7.3,3.6 -7.3,-0.3 -4.7,-0.6 C-4.5,-1.9 -3.0,-2.2 -2.4,-1.5 C-1.6,-4.7 3.5,-4.8 3.9,-1.1 C7.3,-1.2 7.4,3.6 4.4,3.6 Z" fill="url(#cg)" stroke="#9db3c4" stroke-width="0.9"/><path d="M186.47,444.8 l-0.7,1.4" stroke="#2c6496" stroke-width="1.2" stroke-linecap="round"/>
<path transform="translate(201.12,442.2)" d="M-4.4,3.6 C-7.3,3.6 -7.3,-0.3 -4.7,-0.6 C-4.5,-1.9 -3.0,-2.2 -2.4,-1.5 C-1.6,-4.7 3.5,-4.8 3.9,-1.1 C7.3,-1.2 7.4,3.6 4.4,3.6 Z" fill="url(#cgd)" stroke="#4b5158" stroke-width="0.9"/><path d="M196.97,446.7 l-0.7,1.4" stroke="#2c6496" stroke-width="1.2" stroke-linecap="round"/><path d="M200.28,447.2 l-0.7,1.4" stroke="#2c6496" stroke-width="1.2" stroke-linecap="round"/><path d="M203.88,447.2 l-0.7,1.4" stroke="#2c6496" stroke-width="1.2" stroke-linecap="round"/>
<path transform="translate(217.62,475.7)" d="M-4.4,3.6 C-7.3,3.6 -7.3,-0.3 -4.7,-0.6 C-4.5,-1.9 -3.0,-2.2 -2.4,-1.5 C-1.6,-4.7 3.5,-4.8 3.9,-1.1 C7.3,-1.2 7.4,3.6 4.4,3.6 Z" fill="url(#cg)" stroke="#9db3c4" stroke-width="0.9"/>
<path transform="translate(234.12,493.2)" d="M-4.4,3.6 C-7.3,3.6 -7.3,-0.3 -4.7,-0.6 C-4.5,-1.9 -3.0,-2.2 -2.4,-1.5 C-1.6,-4.7 3.5,-4.8 3.9,-1.1 C7.3,-1.2 7.4,3.6 4.4,3.6 Z" fill="url(#cg)" stroke="#9db3c4" stroke-width="0.9"/><path d="M232.47,495.2 l-0.7,1.4" stroke="#2c6496" stroke-width="1.2" stroke-linecap="round"/><path d="M232.67,498.2 l-0.7,1.4" stroke="#2c6496" stroke-width="1.2" stroke-linecap="round"/><path d="M237.88,498.1 l-0.7,1.4" stroke="#2c6496" stroke-width="1.2" stroke-linecap="round"/>
<path transform="translate(250.62,503.4)" d="M-4.4,3.6 C-7.3,3.6 -7.3,-0.3 -4.7,-0.6 C-4.5,-1.9 -3.0,-2.2 -2.4,-1.5 C-1.6,-4.7 3.5,-4.8 3.9,-1.1 C7.3,-1.2 7.4,3.6 4.4,3.6 Z" fill="url(#cg)" stroke="#9db3c4" stroke-width="0.9"/>
<path transform="translate(267.12,517.1)" d="M-4.4,3.6 C-7.3,3.6 -7.3,-0.3 -4.7,-0.6 C-4.5,-1.9 -3.0,-2.2 -2.4,-1.5 C-1.6,-4.7 3.5,-4.8 3.9,-1.1 C7.3,-1.2 7.4,3.6 4.4,3.6 Z" fill="url(#cg)" stroke="#9db3c4" stroke-width="0.9"/>
<path transform="translate(283.62,524.5)" d="M-4.4,3.6 C-7.3,3.6 -7.3,-0.3 -4.7,-0.6 C-4.5,-1.9 -3.0,-2.2 -2.4,-1.5 C-1.6,-4.7 3.5,-4.8 3.9,-1.1 C7.3,-1.2 7.4,3.6 4.4,3.6 Z" fill="url(#cg)" stroke="#9db3c4" stroke-width="0.9"/>
<path transform="translate(300.12,508.3)" d="M-4.4,3.6 C-7.3,3.6 -7.3,-0.3 -4.7,-0.6 C-4.5,-1.9 -3.0,-2.2 -2.4,-1.5 C-1.6,-4.7 3.5,-4.8 3.9,-1.1 C7.3,-1.2 7.4,3.6 4.4,3.6 Z" fill="url(#cg)" stroke="#9db3c4" stroke-width="0.9"/>
<g transform="translate(318.32,518.2)"><circle r="4.3" fill="url(#mg)" stroke="#77756a" stroke-width="0.6"/><path d="M0.5,-4.0 A4.05,4.05 0 0 1 0.5,4.0 A6.2,6.2 0 0 0 0.5,-4.0Z" fill="#e2dfc9"/></g><path transform="translate(316.23,523.2)" d="M-4.4,3.6 C-7.3,3.6 -7.3,-0.3 -4.7,-0.6 C-4.5,-1.9 -3.0,-2.2 -2.4,-1.5 C-1.6,-4.7 3.5,-4.8 3.9,-1.1 C7.3,-1.2 7.4,3.6 4.4,3.6 Z" fill="url(#cg)" stroke="#9db3c4" stroke-width="0.9"/>
<path transform="translate(333.12,525.5)" d="M-4.4,3.6 C-7.3,3.6 -7.3,-0.3 -4.7,-0.6 C-4.5,-1.9 -3.0,-2.2 -2.4,-1.5 C-1.6,-4.7 3.5,-4.8 3.9,-1.1 C7.3,-1.2 7.4,3.6 4.4,3.6 Z" fill="url(#cg)" stroke="#9db3c4" stroke-width="0.9"/>
<path transform="translate(349.62,536.2)" d="M-4.4,3.6 C-7.3,3.6 -7.3,-0.3 -4.7,-0.6 C-4.5,-1.9 -3.0,-2.2 -2.4,-1.5 C-1.6,-4.7 3.5,-4.8 3.9,-1.1 C7.3,-1.2 7.4,3.6 4.4,3.6 Z" fill="url(#cg)" stroke="#9db3c4" stroke-width="0.9"/><path d="M351.43,537.5 L351.43,540.3M350.21,538.2 L352.64,539.6M352.64,538.2 L350.21,539.6" stroke="#5c5c5c" stroke-width="0.6" fill="none"/><path d="M347.43,540.9 L347.43,543.7M346.21,541.6 L348.64,543M348.64,541.6 L346.21,543" stroke="#5c5c5c" stroke-width="0.6" fill="none"/><path d="M352.43,541 L352.43,543.8M351.21,541.7 L353.64,543.1M353.64,541.7 L351.21,543.1" stroke="#5c5c5c" stroke-width="0.6" fill="none"/>
<path transform="translate(366.12,533.3)" d="M-4.4,3.6 C-7.3,3.6 -7.3,-0.3 -4.7,-0.6 C-4.5,-1.9 -3.0,-2.2 -2.4,-1.5 C-1.6,-4.7 3.5,-4.8 3.9,-1.1 C7.3,-1.2 7.4,3.6 4.4,3.6 Z" fill="url(#cg)" stroke="#9db3c4" stroke-width="0.9"/><path d="M367.93,534.6 L367.93,537.4M366.71,535.3 L369.14,536.7M369.14,535.3 L366.71,536.7" stroke="#5c5c5c" stroke-width="0.6" fill="none"/><path d="M363.93,538 L363.93,540.8M362.71,538.7 L365.14,540.1M365.14,538.7 L362.71,540.1" stroke="#5c5c5c" stroke-width="0.6" fill="none"/><path d="M368.93,538.1 L368.93,540.9M367.71,538.8 L370.14,540.2M370.14,538.8 L367.71,540.2" stroke="#5c5c5c" stroke-width="0.6" fill="none"/>
<path transform="translate(382.62,540)" d="M-4.4,3.6 C-7.3,3.6 -7.3,-0.3 -4.7,-0.6 C-4.5,-1.9 -3.0,-2.2 -2.4,-1.5 C-1.6,-4.7 3.5,-4.8 3.9,-1.1 C7.3,-1.2 7.4,3.6 4.4,3.6 Z" fill="url(#cg)" stroke="#9db3c4" stroke-width="0.9"/><path d="M384.23,541.3 L384.23,544.1M383.01,542 L385.44,543.4M385.44,542 L383.01,543.4" stroke="#6a6a6a" stroke-width="0.6" fill="none"/>
<path transform="translate(399.12,538.4)" d="M-4.4,3.6 C-7.3,3.6 -7.3,-0.3 -4.7,-0.6 C-4.5,-1.9 -3.0,-2.2 -2.4,-1.5 C-1.6,-4.7 3.5,-4.8 3.9,-1.1 C7.3,-1.2 7.4,3.6 4.4,3.6 Z" fill="url(#cg)" stroke="#9db3c4" stroke-width="0.9"/><path d="M400.73,539.7 L400.73,542.5M399.51,540.4 L401.94,541.8M401.94,540.4 L399.51,541.8" stroke="#6a6a6a" stroke-width="0.6" fill="none"/>
<g transform="translate(415.93,563.2)"><circle r="4.6" fill="url(#mg)" stroke="#77756a" stroke-width="0.6"/><path d="M0.5,-4.0 A4.05,4.05 0 0 1 0.5,4.0 A6.2,6.2 0 0 0 0.5,-4.0Z" fill="#e2dfc9"/></g>
<g transform="translate(429.32,522.8) scale(0.92)"><line x1="3.42" y1="0.76" x2="5.76" y2="1.29" stroke="#f39a2b" stroke-width="1"/><line x1="2.75" y1="2.17" x2="4.63" y2="3.66" stroke="#f39a2b" stroke-width="1"/><line x1="1.53" y1="3.15" x2="2.58" y2="5.3" stroke="#f39a2b" stroke-width="1"/><line x1="0.02" y1="3.5" x2="0.03" y2="5.9" stroke="#f39a2b" stroke-width="1"/><line x1="-1.5" y1="3.16" x2="-2.54" y2="5.33" stroke="#f39a2b" stroke-width="1"/><line x1="-2.73" y1="2.19" x2="-4.6" y2="3.7" stroke="#f39a2b" stroke-width="1"/><line x1="-3.41" y1="0.79" x2="-5.75" y2="1.34" stroke="#f39a2b" stroke-width="1"/><line x1="-3.42" y1="-0.76" x2="-5.76" y2="-1.29" stroke="#f39a2b" stroke-width="1"/><line x1="-2.75" y1="-2.17" x2="-4.63" y2="-3.66" stroke="#f39a2b" stroke-width="1"/><line x1="-1.53" y1="-3.15" x2="-2.58" y2="-5.3" stroke="#f39a2b" stroke-width="1"/><line x1="-0.02" y1="-3.5" x2="-0.03" y2="-5.9" stroke="#f39a2b" stroke-width="1"/><line x1="1.5" y1="-3.16" x2="2.54" y2="-5.33" stroke="#f39a2b" stroke-width="1"/><line x1="2.73" y1="-2.19" x2="4.6" y2="-3.7" stroke="#f39a2b" stroke-width="1"/><line x1="3.41" y1="-0.79" x2="5.75" y2="-1.34" stroke="#f39a2b" stroke-width="1"/><circle r="2.8" fill="url(#sg)" stroke="#f5a02a" stroke-width="0.8"/></g><path transform="translate(432.93,526.6)" d="M-4.4,3.6 C-7.3,3.6 -7.3,-0.3 -4.7,-0.6 C-4.5,-1.9 -3.0,-2.2 -2.4,-1.5 C-1.6,-4.7 3.5,-4.8 3.9,-1.1 C7.3,-1.2 7.4,3.6 4.4,3.6 Z" fill="url(#cg)" stroke="#9db3c4" stroke-width="0.9"/>
<path transform="translate(448.62,558.75)" d="M-4.4,3.6 C-7.3,3.6 -7.3,-0.3 -4.7,-0.6 C-4.5,-1.9 -3.0,-2.2 -2.4,-1.5 C-1.6,-4.7 3.5,-4.8 3.9,-1.1 C7.3,-1.2 7.4,3.6 4.4,3.6 Z" fill="url(#cg)" stroke="#9db3c4" stroke-width="0.9"/>
<path transform="translate(465.12,549.2)" d="M-4.4,3.6 C-7.3,3.6 -7.3,-0.3 -4.7,-0.6 C-4.5,-1.9 -3.0,-2.2 -2.4,-1.5 C-1.6,-4.7 3.5,-4.8 3.9,-1.1 C7.3,-1.2 7.4,3.6 4.4,3.6 Z" fill="url(#cg)" stroke="#9db3c4" stroke-width="0.9"/>
<path transform="translate(481.62,548.6)" d="M-4.4,3.6 C-7.3,3.6 -7.3,-0.3 -4.7,-0.6 C-4.5,-1.9 -3.0,-2.2 -2.4,-1.5 C-1.6,-4.7 3.5,-4.8 3.9,-1.1 C7.3,-1.2 7.4,3.6 4.4,3.6 Z" fill="url(#cg)" stroke="#9db3c4" stroke-width="0.9"/><path d="M483.43,549.9 L483.43,552.7M482.21,550.6 L484.64,552M484.64,550.6 L482.21,552" stroke="#5c5c5c" stroke-width="0.6" fill="none"/><path d="M479.43,553.3 L479.43,556.1M478.21,554 L480.64,555.4M480.64,554 L478.21,555.4" stroke="#5c5c5c" stroke-width="0.6" fill="none"/><path d="M484.43,553.4 L484.43,556.2M483.21,554.1 L485.64,555.5M485.64,554.1 L483.21,555.5" stroke="#5c5c5c" stroke-width="0.6" fill="none"/>
<path transform="translate(498.12,535.3)" d="M-4.4,3.6 C-7.3,3.6 -7.3,-0.3 -4.7,-0.6 C-4.5,-1.9 -3.0,-2.2 -2.4,-1.5 C-1.6,-4.7 3.5,-4.8 3.9,-1.1 C7.3,-1.2 7.4,3.6 4.4,3.6 Z" fill="url(#cg)" stroke="#9db3c4" stroke-width="0.9"/><path d="M499.93,536.6 L499.93,539.4M498.71,537.3 L501.14,538.7M501.14,537.3 L498.71,538.7" stroke="#5c5c5c" stroke-width="0.6" fill="none"/><path d="M495.93,540 L495.93,542.8M494.71,540.7 L497.14,542.1M497.14,540.7 L494.71,542.1" stroke="#5c5c5c" stroke-width="0.6" fill="none"/><path d="M500.93,540.1 L500.93,542.9M499.71,540.8 L502.14,542.2M502.14,540.8 L499.71,542.2" stroke="#5c5c5c" stroke-width="0.6" fill="none"/>
<g transform="translate(516.33,570.7)"><circle r="4.3" fill="url(#mg)" stroke="#77756a" stroke-width="0.6"/><path d="M0.5,-4.0 A4.05,4.05 0 0 1 0.5,4.0 A6.2,6.2 0 0 0 0.5,-4.0Z" fill="#e2dfc9"/></g><path transform="translate(514.23,575.7)" d="M-4.4,3.6 C-7.3,3.6 -7.3,-0.3 -4.7,-0.6 C-4.5,-1.9 -3.0,-2.2 -2.4,-1.5 C-1.6,-4.7 3.5,-4.8 3.9,-1.1 C7.3,-1.2 7.4,3.6 4.4,3.6 Z" fill="url(#cg)" stroke="#9db3c4" stroke-width="0.9"/>
<g transform="translate(532.83,585.1)"><circle r="4.3" fill="url(#mg)" stroke="#77756a" stroke-width="0.6"/><path d="M0.5,-4.0 A4.05,4.05 0 0 1 0.5,4.0 A6.2,6.2 0 0 0 0.5,-4.0Z" fill="#e2dfc9"/></g><path transform="translate(530.73,590.1)" d="M-4.4,3.6 C-7.3,3.6 -7.3,-0.3 -4.7,-0.6 C-4.5,-1.9 -3.0,-2.2 -2.4,-1.5 C-1.6,-4.7 3.5,-4.8 3.9,-1.1 C7.3,-1.2 7.4,3.6 4.4,3.6 Z" fill="url(#cg)" stroke="#9db3c4" stroke-width="0.9"/>
<path transform="translate(547.62,613.4)" d="M-4.4,3.6 C-7.3,3.6 -7.3,-0.3 -4.7,-0.6 C-4.5,-1.9 -3.0,-2.2 -2.4,-1.5 C-1.6,-4.7 3.5,-4.8 3.9,-1.1 C7.3,-1.2 7.4,3.6 4.4,3.6 Z" fill="url(#cg)" stroke="#9db3c4" stroke-width="0.9"/>
<path transform="translate(564.12,548)" d="M-4.4,3.6 C-7.3,3.6 -7.3,-0.3 -4.7,-0.6 C-4.5,-1.9 -3.0,-2.2 -2.4,-1.5 C-1.6,-4.7 3.5,-4.8 3.9,-1.1 C7.3,-1.2 7.4,3.6 4.4,3.6 Z" fill="url(#cg)" stroke="#9db3c4" stroke-width="0.9"/>
<g transform="translate(582.33,539.1)"><circle r="4.3" fill="url(#mg)" stroke="#77756a" stroke-width="0.6"/><path d="M0.5,-4.0 A4.05,4.05 0 0 1 0.5,4.0 A6.2,6.2 0 0 0 0.5,-4.0Z" fill="#e2dfc9"/></g><path transform="translate(580.23,544.1)" d="M-4.4,3.6 C-7.3,3.6 -7.3,-0.3 -4.7,-0.6 C-4.5,-1.9 -3.0,-2.2 -2.4,-1.5 C-1.6,-4.7 3.5,-4.8 3.9,-1.1 C7.3,-1.2 7.4,3.6 4.4,3.6 Z" fill="url(#cg)" stroke="#9db3c4" stroke-width="0.9"/>
<g transform="translate(597.42,552.8)"><circle r="4.6" fill="url(#mg)" stroke="#77756a" stroke-width="0.6"/><path d="M0.5,-4.0 A4.05,4.05 0 0 1 0.5,4.0 A6.2,6.2 0 0 0 0.5,-4.0Z" fill="#e2dfc9"/></g>
<path transform="translate(613.62,554.3)" d="M-4.4,3.6 C-7.3,3.6 -7.3,-0.3 -4.7,-0.6 C-4.5,-1.9 -3.0,-2.2 -2.4,-1.5 C-1.6,-4.7 3.5,-4.8 3.9,-1.1 C7.3,-1.2 7.4,3.6 4.4,3.6 Z" fill="url(#cg)" stroke="#9db3c4" stroke-width="0.9"/>
<path transform="translate(630.12,506.9)" d="M-4.4,3.6 C-7.3,3.6 -7.3,-0.3 -4.7,-0.6 C-4.5,-1.9 -3.0,-2.2 -2.4,-1.5 C-1.6,-4.7 3.5,-4.8 3.9,-1.1 C7.3,-1.2 7.4,3.6 4.4,3.6 Z" fill="url(#cg)" stroke="#9db3c4" stroke-width="0.9"/>
<g transform="translate(648.33,501)"><circle r="4.3" fill="url(#mg)" stroke="#77756a" stroke-width="0.6"/><path d="M0.5,-4.0 A4.05,4.05 0 0 1 0.5,4.0 A6.2,6.2 0 0 0 0.5,-4.0Z" fill="#e2dfc9"/></g><path transform="translate(646.23,506)" d="M-4.4,3.6 C-7.3,3.6 -7.3,-0.3 -4.7,-0.6 C-4.5,-1.9 -3.0,-2.2 -2.4,-1.5 C-1.6,-4.7 3.5,-4.8 3.9,-1.1 C7.3,-1.2 7.4,3.6 4.4,3.6 Z" fill="url(#cg)" stroke="#9db3c4" stroke-width="0.9"/>
<path transform="translate(663.12,496.5)" d="M-4.4,3.6 C-7.3,3.6 -7.3,-0.3 -4.7,-0.6 C-4.5,-1.9 -3.0,-2.2 -2.4,-1.5 C-1.6,-4.7 3.5,-4.8 3.9,-1.1 C7.3,-1.2 7.4,3.6 4.4,3.6 Z" fill="url(#cg)" stroke="#9db3c4" stroke-width="0.9"/>
<path transform="translate(679.62,507.5)" d="M-4.4,3.6 C-7.3,3.6 -7.3,-0.3 -4.7,-0.6 C-4.5,-1.9 -3.0,-2.2 -2.4,-1.5 C-1.6,-4.7 3.5,-4.8 3.9,-1.1 C7.3,-1.2 7.4,3.6 4.4,3.6 Z" fill="url(#cg)" stroke="#9db3c4" stroke-width="0.9"/><path d="M681.48,512.2 l-0.7,1.4" stroke="#2c6496" stroke-width="1.2" stroke-linecap="round"/>
<path transform="translate(696.12,495.5)" d="M-4.4,3.6 C-7.3,3.6 -7.3,-0.3 -4.7,-0.6 C-4.5,-1.9 -3.0,-2.2 -2.4,-1.5 C-1.6,-4.7 3.5,-4.8 3.9,-1.1 C7.3,-1.2 7.4,3.6 4.4,3.6 Z" fill="url(#cg)" stroke="#9db3c4" stroke-width="0.9"/>
<path transform="translate(712.62,501)" d="M-4.4,3.6 C-7.3,3.6 -7.3,-0.3 -4.7,-0.6 C-4.5,-1.9 -3.0,-2.2 -2.4,-1.5 C-1.6,-4.7 3.5,-4.8 3.9,-1.1 C7.3,-1.2 7.4,3.6 4.4,3.6 Z" fill="url(#cg)" stroke="#9db3c4" stroke-width="0.9"/>
<path transform="translate(737.38,493.6)" d="M-4.4,3.6 C-7.3,3.6 -7.3,-0.3 -4.7,-0.6 C-4.5,-1.9 -3.0,-2.2 -2.4,-1.5 C-1.6,-4.7 3.5,-4.8 3.9,-1.1 C7.3,-1.2 7.4,3.6 4.4,3.6 Z" fill="url(#cg)" stroke="#9db3c4" stroke-width="0.9"/>
<path transform="translate(753.88,474.7)" d="M-4.4,3.6 C-7.3,3.6 -7.3,-0.3 -4.7,-0.6 C-4.5,-1.9 -3.0,-2.2 -2.4,-1.5 C-1.6,-4.7 3.5,-4.8 3.9,-1.1 C7.3,-1.2 7.4,3.6 4.4,3.6 Z" fill="url(#cg)" stroke="#9db3c4" stroke-width="0.9"/>
<path transform="translate(770.38,464.8)" d="M-4.4,3.6 C-7.3,3.6 -7.3,-0.3 -4.7,-0.6 C-4.5,-1.9 -3.0,-2.2 -2.4,-1.5 C-1.6,-4.7 3.5,-4.8 3.9,-1.1 C7.3,-1.2 7.4,3.6 4.4,3.6 Z" fill="url(#cg)" stroke="#9db3c4" stroke-width="0.9"/>
<path transform="translate(786.88,488.8)" d="M-4.4,3.6 C-7.3,3.6 -7.3,-0.3 -4.7,-0.6 C-4.5,-1.9 -3.0,-2.2 -2.4,-1.5 C-1.6,-4.7 3.5,-4.8 3.9,-1.1 C7.3,-1.2 7.4,3.6 4.4,3.6 Z" fill="url(#cg)" stroke="#9db3c4" stroke-width="0.9"/>
<path transform="translate(803.38,487.5)" d="M-4.4,3.6 C-7.3,3.6 -7.3,-0.3 -4.7,-0.6 C-4.5,-1.9 -3.0,-2.2 -2.4,-1.5 C-1.6,-4.7 3.5,-4.8 3.9,-1.1 C7.3,-1.2 7.4,3.6 4.4,3.6 Z" fill="url(#cg)" stroke="#9db3c4" stroke-width="0.9"/>
<path transform="translate(819.88,485.3)" d="M-4.4,3.6 C-7.3,3.6 -7.3,-0.3 -4.7,-0.6 C-4.5,-1.9 -3.0,-2.2 -2.4,-1.5 C-1.6,-4.7 3.5,-4.8 3.9,-1.1 C7.3,-1.2 7.4,3.6 4.4,3.6 Z" fill="url(#cg)" stroke="#9db3c4" stroke-width="0.9"/>
<path transform="translate(836.38,476.1)" d="M-4.4,3.6 C-7.3,3.6 -7.3,-0.3 -4.7,-0.6 C-4.5,-1.9 -3.0,-2.2 -2.4,-1.5 C-1.6,-4.7 3.5,-4.8 3.9,-1.1 C7.3,-1.2 7.4,3.6 4.4,3.6 Z" fill="url(#cg)" stroke="#9db3c4" stroke-width="0.9"/>
<path transform="translate(852.88,488.4)" d="M-4.4,3.6 C-7.3,3.6 -7.3,-0.3 -4.7,-0.6 C-4.5,-1.9 -3.0,-2.2 -2.4,-1.5 C-1.6,-4.7 3.5,-4.8 3.9,-1.1 C7.3,-1.2 7.4,3.6 4.4,3.6 Z" fill="url(#cg)" stroke="#9db3c4" stroke-width="0.9"/>
<g transform="translate(871.08,491.75)"><circle r="4.3" fill="url(#mg)" stroke="#77756a" stroke-width="0.6"/><path d="M0.5,-4.0 A4.05,4.05 0 0 1 0.5,4.0 A6.2,6.2 0 0 0 0.5,-4.0Z" fill="#e2dfc9"/></g><path transform="translate(868.98,496.75)" d="M-4.4,3.6 C-7.3,3.6 -7.3,-0.3 -4.7,-0.6 C-4.5,-1.9 -3.0,-2.2 -2.4,-1.5 C-1.6,-4.7 3.5,-4.8 3.9,-1.1 C7.3,-1.2 7.4,3.6 4.4,3.6 Z" fill="url(#cg)" stroke="#9db3c4" stroke-width="0.9"/>
<g transform="translate(883.08,468.3) scale(0.92)"><line x1="3.42" y1="0.76" x2="5.76" y2="1.29" stroke="#f39a2b" stroke-width="1"/><line x1="2.75" y1="2.17" x2="4.63" y2="3.66" stroke="#f39a2b" stroke-width="1"/><line x1="1.53" y1="3.15" x2="2.58" y2="5.3" stroke="#f39a2b" stroke-width="1"/><line x1="0.02" y1="3.5" x2="0.03" y2="5.9" stroke="#f39a2b" stroke-width="1"/><line x1="-1.5" y1="3.16" x2="-2.54" y2="5.33" stroke="#f39a2b" stroke-width="1"/><line x1="-2.73" y1="2.19" x2="-4.6" y2="3.7" stroke="#f39a2b" stroke-width="1"/><line x1="-3.41" y1="0.79" x2="-5.75" y2="1.34" stroke="#f39a2b" stroke-width="1"/><line x1="-3.42" y1="-0.76" x2="-5.76" y2="-1.29" stroke="#f39a2b" stroke-width="1"/><line x1="-2.75" y1="-2.17" x2="-4.63" y2="-3.66" stroke="#f39a2b" stroke-width="1"/><line x1="-1.53" y1="-3.15" x2="-2.58" y2="-5.3" stroke="#f39a2b" stroke-width="1"/><line x1="-0.02" y1="-3.5" x2="-0.03" y2="-5.9" stroke="#f39a2b" stroke-width="1"/><line x1="1.5" y1="-3.16" x2="2.54" y2="-5.33" stroke="#f39a2b" stroke-width="1"/><line x1="2.73" y1="-2.19" x2="4.6" y2="-3.7" stroke="#f39a2b" stroke-width="1"/><line x1="3.41" y1="-0.79" x2="5.75" y2="-1.34" stroke="#f39a2b" stroke-width="1"/><circle r="2.8" fill="url(#sg)" stroke="#f5a02a" stroke-width="0.8"/></g><path transform="translate(886.67,472.1)" d="M-4.4,3.6 C-7.3,3.6 -7.3,-0.3 -4.7,-0.6 C-4.5,-1.9 -3.0,-2.2 -2.4,-1.5 C-1.6,-4.7 3.5,-4.8 3.9,-1.1 C7.3,-1.2 7.4,3.6 4.4,3.6 Z" fill="url(#cg)" stroke="#9db3c4" stroke-width="0.9"/>
<path transform="translate(902.38,457.2)" d="M-4.4,3.6 C-7.3,3.6 -7.3,-0.3 -4.7,-0.6 C-4.5,-1.9 -3.0,-2.2 -2.4,-1.5 C-1.6,-4.7 3.5,-4.8 3.9,-1.1 C7.3,-1.2 7.4,3.6 4.4,3.6 Z" fill="url(#cg)" stroke="#9db3c4" stroke-width="0.9"/>
<path transform="translate(918.88,456.2)" d="M-4.4,3.6 C-7.3,3.6 -7.3,-0.3 -4.7,-0.6 C-4.5,-1.9 -3.0,-2.2 -2.4,-1.5 C-1.6,-4.7 3.5,-4.8 3.9,-1.1 C7.3,-1.2 7.4,3.6 4.4,3.6 Z" fill="url(#cg)" stroke="#9db3c4" stroke-width="0.9"/>
<path transform="translate(935.38,458.8)" d="M-4.4,3.6 C-7.3,3.6 -7.3,-0.3 -4.7,-0.6 C-4.5,-1.9 -3.0,-2.2 -2.4,-1.5 C-1.6,-4.7 3.5,-4.8 3.9,-1.1 C7.3,-1.2 7.4,3.6 4.4,3.6 Z" fill="url(#cg)" stroke="#9db3c4" stroke-width="0.9"/>
<path transform="translate(951.88,457.6)" d="M-4.4,3.6 C-7.3,3.6 -7.3,-0.3 -4.7,-0.6 C-4.5,-1.9 -3.0,-2.2 -2.4,-1.5 C-1.6,-4.7 3.5,-4.8 3.9,-1.1 C7.3,-1.2 7.4,3.6 4.4,3.6 Z" fill="url(#cg)" stroke="#9db3c4" stroke-width="0.9"/><path d="M950.23,459.6 l-0.7,1.4" stroke="#2c6496" stroke-width="1.2" stroke-linecap="round"/><path d="M950.43,462.6 l-0.7,1.4" stroke="#2c6496" stroke-width="1.2" stroke-linecap="round"/><path d="M955.62,462.5 l-0.7,1.4" stroke="#2c6496" stroke-width="1.2" stroke-linecap="round"/>
<path transform="translate(968.38,488.75)" d="M-4.4,3.6 C-7.3,3.6 -7.3,-0.3 -4.7,-0.6 C-4.5,-1.9 -3.0,-2.2 -2.4,-1.5 C-1.6,-4.7 3.5,-4.8 3.9,-1.1 C7.3,-1.2 7.4,3.6 4.4,3.6 Z" fill="url(#cg)" stroke="#9db3c4" stroke-width="0.9"/><path d="M966.73,490.75 l-0.7,1.4" stroke="#2c6496" stroke-width="1.2" stroke-linecap="round"/><path d="M966.93,493.75 l-0.7,1.4" stroke="#2c6496" stroke-width="1.2" stroke-linecap="round"/><path d="M972.12,493.65 l-0.7,1.4" stroke="#2c6496" stroke-width="1.2" stroke-linecap="round"/>
<path transform="translate(984.88,515.5)" d="M-4.4,3.6 C-7.3,3.6 -7.3,-0.3 -4.7,-0.6 C-4.5,-1.9 -3.0,-2.2 -2.4,-1.5 C-1.6,-4.7 3.5,-4.8 3.9,-1.1 C7.3,-1.2 7.4,3.6 4.4,3.6 Z" fill="url(#cg)" stroke="#9db3c4" stroke-width="0.9"/>
<g transform="translate(1003.08,534.5)"><circle r="4.3" fill="url(#mg)" stroke="#77756a" stroke-width="0.6"/><path d="M0.5,-4.0 A4.05,4.05 0 0 1 0.5,4.0 A6.2,6.2 0 0 0 0.5,-4.0Z" fill="#e2dfc9"/></g><path transform="translate(1000.98,539.5)" d="M-4.4,3.6 C-7.3,3.6 -7.3,-0.3 -4.7,-0.6 C-4.5,-1.9 -3.0,-2.2 -2.4,-1.5 C-1.6,-4.7 3.5,-4.8 3.9,-1.1 C7.3,-1.2 7.4,3.6 4.4,3.6 Z" fill="url(#cg)" stroke="#9db3c4" stroke-width="0.9"/>
<g transform="translate(1018.27,525.1) scale(1)"><line x1="3.42" y1="0.76" x2="5.76" y2="1.29" stroke="#f39a2b" stroke-width="1"/><line x1="2.75" y1="2.17" x2="4.63" y2="3.66" stroke="#f39a2b" stroke-width="1"/><line x1="1.53" y1="3.15" x2="2.58" y2="5.3" stroke="#f39a2b" stroke-width="1"/><line x1="0.02" y1="3.5" x2="0.03" y2="5.9" stroke="#f39a2b" stroke-width="1"/><line x1="-1.5" y1="3.16" x2="-2.54" y2="5.33" stroke="#f39a2b" stroke-width="1"/><line x1="-2.73" y1="2.19" x2="-4.6" y2="3.7" stroke="#f39a2b" stroke-width="1"/><line x1="-3.41" y1="0.79" x2="-5.75" y2="1.34" stroke="#f39a2b" stroke-width="1"/><line x1="-3.42" y1="-0.76" x2="-5.76" y2="-1.29" stroke="#f39a2b" stroke-width="1"/><line x1="-2.75" y1="-2.17" x2="-4.63" y2="-3.66" stroke="#f39a2b" stroke-width="1"/><line x1="-1.53" y1="-3.15" x2="-2.58" y2="-5.3" stroke="#f39a2b" stroke-width="1"/><line x1="-0.02" y1="-3.5" x2="-0.03" y2="-5.9" stroke="#f39a2b" stroke-width="1"/><line x1="1.5" y1="-3.16" x2="2.54" y2="-5.33" stroke="#f39a2b" stroke-width="1"/><line x1="2.73" y1="-2.19" x2="4.6" y2="-3.7" stroke="#f39a2b" stroke-width="1"/><line x1="3.41" y1="-0.79" x2="5.75" y2="-1.34" stroke="#f39a2b" stroke-width="1"/><circle r="2.8" fill="url(#sg)" stroke="#f5a02a" stroke-width="0.8"/></g>
<g transform="translate(43.98,676.6) rotate(115) scale(0.7)"><path d="M0,8 L0,-10 M0,-8.6 L4,-8.6" fill="none" stroke="#000" stroke-width="1.75" stroke-linejoin="miter"/><path d="M-2.6,5.6 L0,11 L2.6,5.6 Z" fill="#000"/></g>
<g transform="translate(68.72,676.6) rotate(187) scale(0.7)"><path d="M0,8 L0,-10 M0,-8.6 L4,-8.6" fill="none" stroke="#000" stroke-width="1.75" stroke-linejoin="miter"/><path d="M-2.6,5.6 L0,11 L2.6,5.6 Z" fill="#000"/></g>
<g transform="translate(93.47,676.6) rotate(128) scale(0.7)"><path d="M0,8 L0,-10 M0,-8.6 L4,-8.6" fill="none" stroke="#000" stroke-width="1.75" stroke-linejoin="miter"/><path d="M-2.6,5.6 L0,11 L2.6,5.6 Z" fill="#000"/></g>
<g transform="translate(118.22,676.6) rotate(164) scale(0.7)"><path d="M0,8 L0,-10 M0,-8.6 L4,-8.6" fill="none" stroke="#000" stroke-width="1.75" stroke-linejoin="miter"/><path d="M-2.6,5.6 L0,11 L2.6,5.6 Z" fill="#000"/></g>
<g transform="translate(142.97,676.6) rotate(180) scale(0.7)"><path d="M0,8 L0,-10 M0,-8.6 L4,-8.6" fill="none" stroke="#000" stroke-width="1.75" stroke-linejoin="miter"/><path d="M-2.6,5.6 L0,11 L2.6,5.6 Z" fill="#000"/></g>
<g transform="translate(167.72,676.6) rotate(-23) scale(0.7)"><path d="M0,8 L0,-10 M0,-8.6 L4,-8.6" fill="none" stroke="#000" stroke-width="1.75" stroke-linejoin="miter"/><path d="M-2.6,5.6 L0,11 L2.6,5.6 Z" fill="#000"/></g>
<g transform="translate(192.47,676.6) rotate(55) scale(0.7)"><path d="M0,8 L0,-10 L7,-10" fill="none" stroke="#000" stroke-width="1.75" stroke-linejoin="miter"/><path d="M-2.6,5.6 L0,11 L2.6,5.6 Z" fill="#000"/></g>
<g transform="translate(217.22,676.6) rotate(199) scale(0.7)"><path d="M0,8 L0,-10 M0,-8.6 L4,-8.6" fill="none" stroke="#000" stroke-width="1.75" stroke-linejoin="miter"/><path d="M-2.6,5.6 L0,11 L2.6,5.6 Z" fill="#000"/></g>
<g transform="translate(241.97,676.6) rotate(-90) scale(0.7)"><path d="M0,8 L0,-10 L7,-10" fill="none" stroke="#000" stroke-width="1.75" stroke-linejoin="miter"/><path d="M-2.6,5.6 L0,11 L2.6,5.6 Z" fill="#000"/></g>
<g transform="translate(266.73,676.6) rotate(-94) scale(0.7)"><path d="M0,8 L0,-10 L7,-10" fill="none" stroke="#000" stroke-width="1.75" stroke-linejoin="miter"/><path d="M-2.6,5.6 L0,11 L2.6,5.6 Z" fill="#000"/></g>
<g transform="translate(291.48,676.6) rotate(-74) scale(0.7)"><path d="M0,8 L0,-10 L7,-10" fill="none" stroke="#000" stroke-width="1.75" stroke-linejoin="miter"/><path d="M-2.6,5.6 L0,11 L2.6,5.6 Z" fill="#000"/></g>
<g transform="translate(316.23,676.6) rotate(-47) scale(0.7)"><path d="M0,8 L0,-10 M0,-8.6 L4,-8.6" fill="none" stroke="#000" stroke-width="1.75" stroke-linejoin="miter"/><path d="M-2.6,5.6 L0,11 L2.6,5.6 Z" fill="#000"/></g>
<g transform="translate(340.98,676.6) rotate(-8) scale(0.7)"><path d="M0,8 L0,-10 L7,-10" fill="none" stroke="#000" stroke-width="1.75" stroke-linejoin="miter"/><path d="M-2.6,5.6 L0,11 L2.6,5.6 Z" fill="#000"/></g>
<g transform="translate(365.73,676.6) rotate(-52) scale(0.7)"><path d="M0,8 L0,-10 L7,-10" fill="none" stroke="#000" stroke-width="1.75" stroke-linejoin="miter"/><path d="M-2.6,5.6 L0,11 L2.6,5.6 Z" fill="#000"/></g>
<g transform="translate(390.48,676.6) rotate(-77) scale(0.7)"><path d="M0,8 L0,-10 L7,-10 M0,-6.6 L4,-6.6" fill="none" stroke="#000" stroke-width="1.75" stroke-linejoin="miter"/><path d="M-2.6,5.6 L0,11 L2.6,5.6 Z" fill="#000"/></g>
<g transform="translate(415.23,676.6) rotate(-68) scale(0.7)"><path d="M0,8 L0,-10 L7,-10" fill="none" stroke="#000" stroke-width="1.75" stroke-linejoin="miter"/><path d="M-2.6,5.6 L0,11 L2.6,5.6 Z" fill="#000"/></g>
<g transform="translate(439.98,676.6) rotate(-90) scale(0.7)"><path d="M0,8 L0,-10 M0,-8.6 L4,-8.6" fill="none" stroke="#000" stroke-width="1.75" stroke-linejoin="miter"/><path d="M-2.6,5.6 L0,11 L2.6,5.6 Z" fill="#000"/></g>
<g transform="translate(464.73,676.6) rotate(101) scale(0.7)"><path d="M0,8 L0,-10 M0,-8.6 L4,-8.6" fill="none" stroke="#000" stroke-width="1.75" stroke-linejoin="miter"/><path d="M-2.6,5.6 L0,11 L2.6,5.6 Z" fill="#000"/></g>
<g transform="translate(489.48,676.6) rotate(85) scale(0.7)"><path d="M0,8 L0,-10 L7,-10" fill="none" stroke="#000" stroke-width="1.75" stroke-linejoin="miter"/><path d="M-2.6,5.6 L0,11 L2.6,5.6 Z" fill="#000"/></g>
<g transform="translate(514.23,676.6) rotate(25) scale(0.7)"><path d="M0,8 L0,-10 M0,-8.6 L4,-8.6" fill="none" stroke="#000" stroke-width="1.75" stroke-linejoin="miter"/><path d="M-2.6,5.6 L0,11 L2.6,5.6 Z" fill="#000"/></g>
<g transform="translate(538.98,676.6) rotate(10) scale(0.7)"><path d="M0,8 L0,-10 M0,-8.6 L4,-8.6" fill="none" stroke="#000" stroke-width="1.75" stroke-linejoin="miter"/><path d="M-2.6,5.6 L0,11 L2.6,5.6 Z" fill="#000"/></g>
<g transform="translate(563.73,676.6) rotate(129) scale(0.7)"><path d="M0,8 L0,-10 M0,-8.6 L4,-8.6" fill="none" stroke="#000" stroke-width="1.75" stroke-linejoin="miter"/><path d="M-2.6,5.6 L0,11 L2.6,5.6 Z" fill="#000"/></g>
<g transform="translate(588.48,676.6) rotate(106) scale(0.7)"><path d="M0,8 L0,-10" fill="none" stroke="#000" stroke-width="1.75" stroke-linejoin="miter"/><path d="M-2.6,5.6 L0,11 L2.6,5.6 Z" fill="#000"/></g>
<g transform="translate(613.23,676.6) rotate(121) scale(0.7)"><path d="M0,8 L0,-10 M0,-8.6 L4,-8.6" fill="none" stroke="#000" stroke-width="1.75" stroke-linejoin="miter"/><path d="M-2.6,5.6 L0,11 L2.6,5.6 Z" fill="#000"/></g>
<g transform="translate(637.98,676.6) rotate(155) scale(0.7)"><path d="M0,8 L0,-10 M0,-8.6 L4,-8.6" fill="none" stroke="#000" stroke-width="1.75" stroke-linejoin="miter"/><path d="M-2.6,5.6 L0,11 L2.6,5.6 Z" fill="#000"/></g>
<g transform="translate(662.73,676.6) rotate(162) scale(0.7)"><path d="M0,8 L0,-10 M0,-8.6 L4,-8.6" fill="none" stroke="#000" stroke-width="1.75" stroke-linejoin="miter"/><path d="M-2.6,5.6 L0,11 L2.6,5.6 Z" fill="#000"/></g>
<g transform="translate(687.48,676.6) rotate(229) scale(0.7)"><path d="M0,8 L0,-10 M0,-8.6 L4,-8.6" fill="none" stroke="#000" stroke-width="1.75" stroke-linejoin="miter"/><path d="M-2.6,5.6 L0,11 L2.6,5.6 Z" fill="#000"/></g>
<g transform="translate(712.23,676.6) rotate(190) scale(0.7)"><path d="M0,8 L0,-10 M0,-8.6 L4,-8.6" fill="none" stroke="#000" stroke-width="1.75" stroke-linejoin="miter"/><path d="M-2.6,5.6 L0,11 L2.6,5.6 Z" fill="#000"/></g>
<g transform="translate(745.23,676.6) rotate(181) scale(0.7)"><path d="M0,8 L0,-10 M0,-8.6 L4,-8.6" fill="none" stroke="#000" stroke-width="1.75" stroke-linejoin="miter"/><path d="M-2.6,5.6 L0,11 L2.6,5.6 Z" fill="#000"/></g>
<g transform="translate(769.98,676.6) rotate(242) scale(0.7)"><path d="M0,8 L0,-10 L7,-10" fill="none" stroke="#000" stroke-width="1.75" stroke-linejoin="miter"/><path d="M-2.6,5.6 L0,11 L2.6,5.6 Z" fill="#000"/></g>
<g transform="translate(794.73,676.6) rotate(-23) scale(0.7)"><path d="M0,8 L0,-10 M0,-8.6 L4,-8.6" fill="none" stroke="#000" stroke-width="1.75" stroke-linejoin="miter"/><path d="M-2.6,5.6 L0,11 L2.6,5.6 Z" fill="#000"/></g>
<g transform="translate(819.48,676.6) rotate(14) scale(0.7)"><path d="M0,8 L0,-10 M0,-8.6 L4,-8.6" fill="none" stroke="#000" stroke-width="1.75" stroke-linejoin="miter"/><path d="M-2.6,5.6 L0,11 L2.6,5.6 Z" fill="#000"/></g>
<g transform="translate(844.23,676.6) rotate(110) scale(0.7)"><path d="M0,8 L0,-10 M0,-8.6 L4,-8.6" fill="none" stroke="#000" stroke-width="1.75" stroke-linejoin="miter"/><path d="M-2.6,5.6 L0,11 L2.6,5.6 Z" fill="#000"/></g>
<g transform="translate(868.98,676.6) rotate(155) scale(0.7)"><path d="M0,8 L0,-10 M0,-8.6 L4,-8.6" fill="none" stroke="#000" stroke-width="1.75" stroke-linejoin="miter"/><path d="M-2.6,5.6 L0,11 L2.6,5.6 Z" fill="#000"/></g>
<g transform="translate(893.73,676.6) rotate(191) scale(0.7)"><path d="M0,8 L0,-10 M0,-8.6 L4,-8.6" fill="none" stroke="#000" stroke-width="1.75" stroke-linejoin="miter"/><path d="M-2.6,5.6 L0,11 L2.6,5.6 Z" fill="#000"/></g>
<g transform="translate(918.48,676.6) rotate(187) scale(0.7)"><path d="M0,8 L0,-10 M0,-8.6 L4,-8.6" fill="none" stroke="#000" stroke-width="1.75" stroke-linejoin="miter"/><path d="M-2.6,5.6 L0,11 L2.6,5.6 Z" fill="#000"/></g>
<g transform="translate(943.23,676.6) rotate(-90) scale(0.7)"><path d="M0,8 L0,-10 M0,-8.6 L4,-8.6" fill="none" stroke="#000" stroke-width="1.75" stroke-linejoin="miter"/><path d="M-2.6,5.6 L0,11 L2.6,5.6 Z" fill="#000"/></g>
<g transform="translate(967.98,676.6) rotate(-32) scale(0.7)"><path d="M0,8 L0,-10 L7,-10" fill="none" stroke="#000" stroke-width="1.75" stroke-linejoin="miter"/><path d="M-2.6,5.6 L0,11 L2.6,5.6 Z" fill="#000"/></g>
<g transform="translate(992.73,676.6) rotate(-34) scale(0.7)"><path d="M0,8 L0,-10 L7,-10 M0,-6.6 L4,-6.6" fill="none" stroke="#000" stroke-width="1.75" stroke-linejoin="miter"/><path d="M-2.6,5.6 L0,11 L2.6,5.6 Z" fill="#000"/></g>
<g transform="translate(1017.48,676.6) rotate(-38) scale(0.7)"><path d="M0,8 L0,-10 L7,-10" fill="none" stroke="#000" stroke-width="1.75" stroke-linejoin="miter"/><path d="M-2.6,5.6 L0,11 L2.6,5.6 Z" fill="#000"/></g>
<text x="31.7" y="455.3" text-anchor="end" font-size="7.8" fill="#707070">10°</text>
<text x="31.7" y="497.5" text-anchor="end" font-size="7.8" fill="#707070">5°</text>
<text x="31.7" y="539.7" text-anchor="end" font-size="7.8" fill="#707070">0°</text>
<text x="31.7" y="581.9" text-anchor="end" font-size="7.8" fill="#707070">−5°</text>
<text x="31.7" y="624.1" text-anchor="end" font-size="7.8" fill="#707070">−10°</text>
<text x="31.7" y="666.3" text-anchor="end" font-size="7.8" fill="#707070">−15°</text>
</g>
</svg></body></html>
